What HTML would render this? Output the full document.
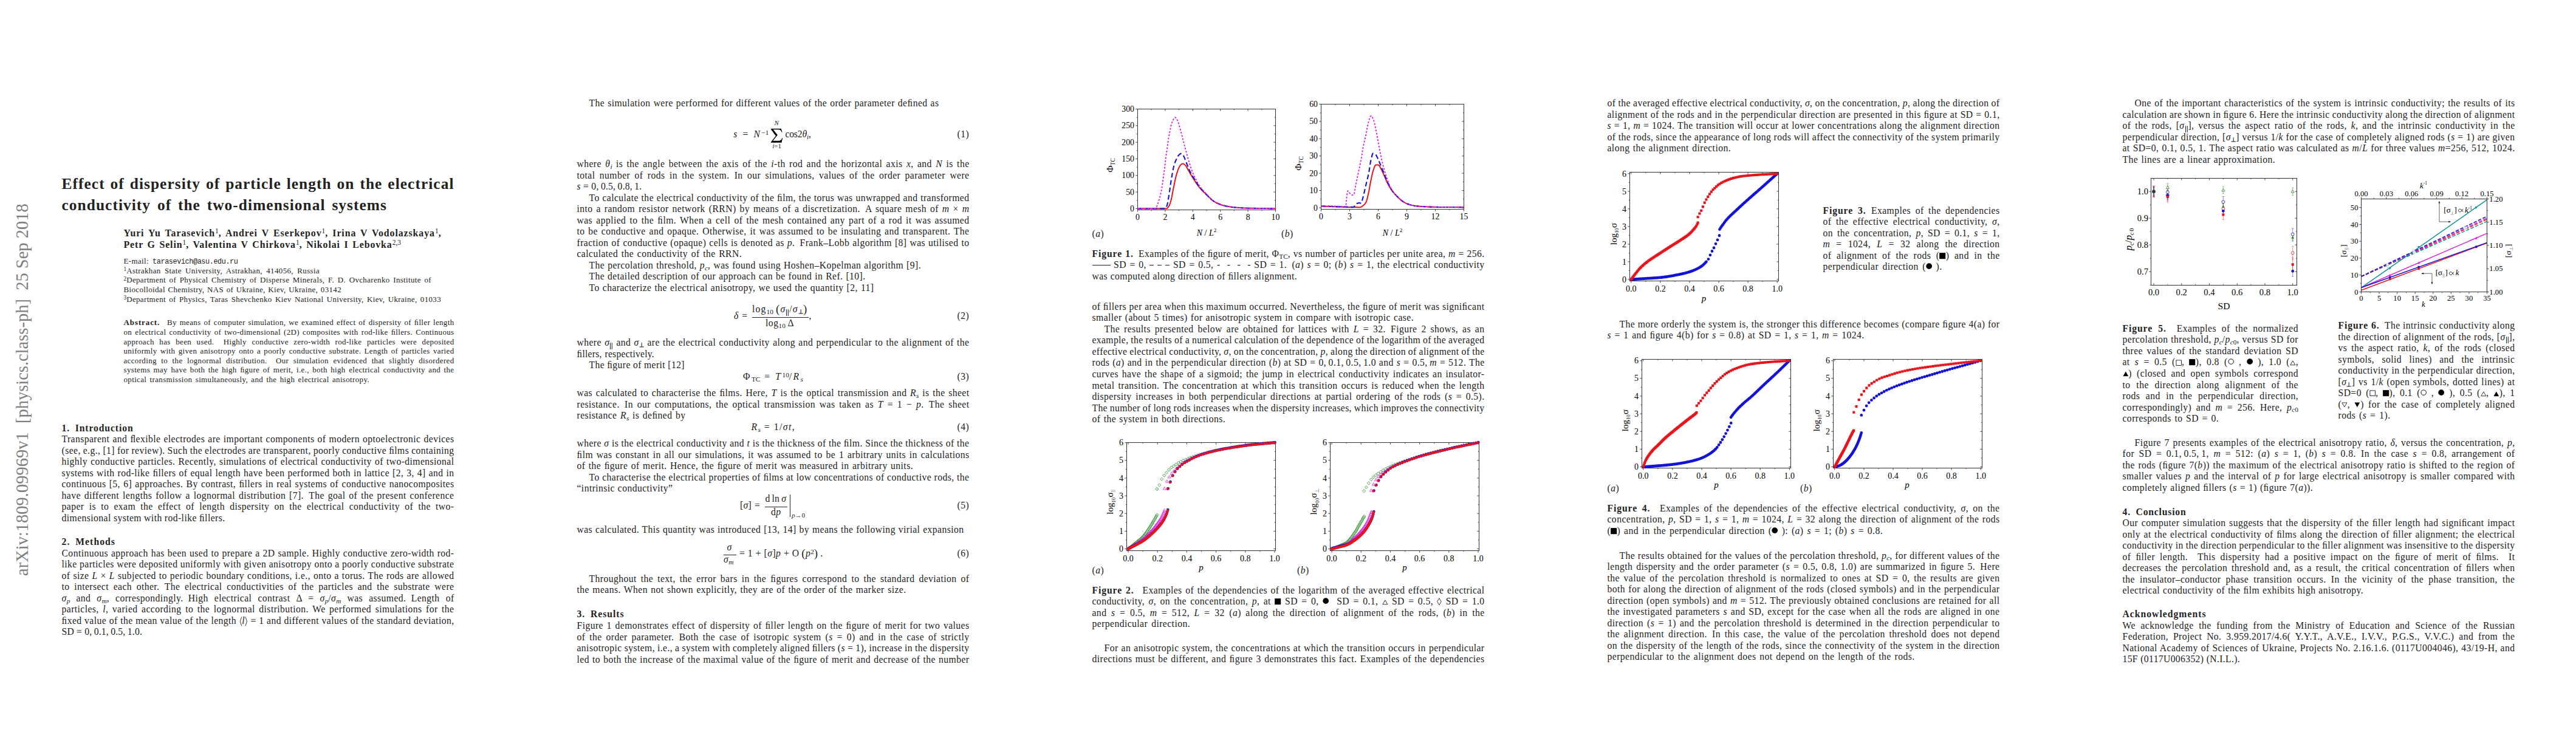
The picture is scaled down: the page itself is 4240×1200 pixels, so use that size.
<!DOCTYPE html>
<html><head><meta charset="utf-8"><title>paper</title><style>
html,body{margin:0;padding:0;background:#fff}
body{width:4240px;height:1200px;position:relative;overflow:hidden;font-family:"Liberation Serif",serif;color:#222}
.l{position:absolute;white-space:nowrap;line-height:20px;height:20px;margin:0;padding:0;overflow:visible}
.l.j{white-space:nowrap;text-align:justify;text-align-last:justify;overflow:visible}
.b{font-size:15.7px;letter-spacing:0.41px;word-spacing:1.3px;margin-top:-15.30px}
.e{font-size:15.7px;margin-top:-15.30px}
.h{font-size:15.7px;margin-top:-15.30px}
.s{font-size:13.0px;letter-spacing:0.34px;word-spacing:1.1px;margin-top:-13.89px}
.sc{font-size:11px;margin-top:-13.71px}
.t{font-size:25.4px;font-weight:bold;letter-spacing:0.75px;word-spacing:3.4px;margin-top:-18.57px}
.au{font-size:15.9px;font-weight:bold;letter-spacing:0.9px;word-spacing:2px;margin-top:-14.87px}
b{letter-spacing:0.9px}
.h b{letter-spacing:inherit}
.au .sp{font-weight:normal}
.tt{font-family:"Liberation Mono",monospace;font-size:11.9px;letter-spacing:-0.45px;word-spacing:0}
.sb{font-size:72%;position:relative;top:0.24em;line-height:0;letter-spacing:0}
.sp{font-size:72%;position:relative;top:-0.42em;line-height:0;letter-spacing:0}
.big{font-size:120%;line-height:0;position:relative;top:0.04em}
.g{display:inline-block;overflow:visible}
.a{position:absolute}
.r{position:absolute;background:#222}
.dash{display:inline-block;height:0.6px;background:#222;vertical-align:0.29em}
.side{position:absolute;transform-origin:0 0;transform:rotate(-90deg);white-space:nowrap;font-size:28.5px;color:#7f7f7f;line-height:30px;height:30px;letter-spacing:0px}
svg text{font-family:"Liberation Serif",serif}
</style></head><body>
<div class="side" style="left:21.8px;top:947.5px">arXiv:1809.09969v1&nbsp; [physics.class-ph]&nbsp; 25 Sep 2018</div>
<div class="l t j" style="left:101.50px;top:310.70px;width:646.00px;letter-spacing:1.050px;word-spacing:0.00px;">Effect of dispersity of particle length on the electrical</div>
<div class="l t j" style="left:101.50px;top:345.20px;width:535.50px;letter-spacing:1.050px;word-spacing:0.00px;">conductivity of the two-dimensional systems</div>
<div class="l au j" style="left:203.50px;top:388.70px;width:523.00px;letter-spacing:0.900px;word-spacing:-0.40px;">Yuri Yu Tarasevich<span class="sp">1</span>, Andrei V Eserkepov<span class="sp">1</span>, Irina V Vodolazskaya<span class="sp">1</span>,</div>
<div class="l au j" style="left:203.50px;top:407.40px;width:456.50px;letter-spacing:0.900px;word-spacing:-0.40px;">Petr G Selin<span class="sp">1</span>, Valentina V Chirkova<span class="sp">1</span>, Nikolai I Lebovka<span class="sp">2,3</span></div>
<div class="l s j" style="left:203.50px;top:434.20px;width:188.00px;letter-spacing:0.340px;word-spacing:-0.33px;">E-mail: <span class="tt">tarasevich@asu.edu.ru</span></div>
<div class="l s j" style="left:203.50px;top:449.40px;width:322.50px;letter-spacing:0.340px;word-spacing:-0.33px;"><span class="sp">1</span>Astrakhan State University, Astrakhan, 414056, Russia</div>
<div class="l s j" style="left:203.50px;top:465.30px;width:506.50px;letter-spacing:0.340px;word-spacing:-0.33px;"><span class="sp">2</span>Department of Physical Chemistry of Disperse Minerals, F. D. Ovcharenko Institute of</div>
<div class="l s j" style="left:203.50px;top:481.10px;width:358.50px;letter-spacing:0.340px;word-spacing:-0.33px;">Biocolloidal Chemistry, NAS of Ukraine, Kiev, Ukraine, 03142</div>
<div class="l s j" style="left:203.50px;top:497.00px;width:522.50px;letter-spacing:0.340px;word-spacing:-0.33px;"><span class="sp">3</span>Department of Physics, Taras Shevchenko Kiev National University, Kiev, Ukraine, 01033</div>
<div class="l s j" style="left:203.50px;top:535.20px;width:544.00px;letter-spacing:0.340px;word-spacing:-0.33px;"><b>Abstract.</b>&ensp; By means of computer simulation, we examined effect of dispersity of ﬁller length</div>
<div class="l s j" style="left:203.50px;top:550.83px;width:544.00px;letter-spacing:0.340px;word-spacing:-0.33px;">on electrical conductivity of two-dimensional (2D) composites with rod-like ﬁllers. Continuous</div>
<div class="l s j" style="left:203.50px;top:566.46px;width:544.00px;letter-spacing:0.340px;word-spacing:-0.33px;">approach has been used.&ensp; Highly conductive zero-width rod-like particles were deposited</div>
<div class="l s j" style="left:203.50px;top:582.09px;width:544.00px;letter-spacing:0.340px;word-spacing:-0.33px;">uniformly with given anisotropy onto a poorly conductive substrate. Length of particles varied</div>
<div class="l s j" style="left:203.50px;top:597.72px;width:544.00px;letter-spacing:0.340px;word-spacing:-0.33px;">according to the lognormal distribution.&ensp; Our simulation evidenced that slightly disordered</div>
<div class="l s j" style="left:203.50px;top:613.35px;width:544.00px;letter-spacing:0.340px;word-spacing:-0.33px;">systems may have both the high ﬁgure of merit, i.e., both high electrical conductivity and the</div>
<div class="l s j" style="left:203.50px;top:628.98px;width:404.50px;letter-spacing:0.340px;word-spacing:-0.33px;">optical transmission simultaneously, and the high electrical anisotropy.</div>
<div class="l h j" style="left:101.50px;top:710.00px;width:119.00px;letter-spacing:0.883px;word-spacing:0.00px;"><b>1.&ensp;Introduction</b></div>
<div class="l b j" style="left:101.50px;top:728.60px;width:646.00px;letter-spacing:0.410px;word-spacing:-0.40px;">Transparent and ﬂexible electrodes are important components of modern optoelectronic devices</div>
<div class="l b j" style="left:101.50px;top:747.13px;width:646.00px;letter-spacing:0.410px;word-spacing:-0.40px;">(see, e.g., [1] for review). Such the electrodes are transparent, poorly conductive ﬁlms containing</div>
<div class="l b j" style="left:101.50px;top:765.66px;width:646.00px;letter-spacing:0.410px;word-spacing:-0.40px;">highly conductive particles. Recently, simulations of electrical conductivity of two-dimensional</div>
<div class="l b j" style="left:101.50px;top:784.19px;width:646.00px;letter-spacing:0.410px;word-spacing:-0.40px;">systems with rod-like ﬁllers of equal length have been performed both in lattice [2, 3, 4] and in</div>
<div class="l b j" style="left:101.50px;top:802.72px;width:646.00px;letter-spacing:0.410px;word-spacing:-0.40px;">continuous [5, 6] approaches. By contrast, ﬁllers in real systems of conductive nanocomposites</div>
<div class="l b j" style="left:101.50px;top:821.25px;width:646.00px;letter-spacing:0.410px;word-spacing:-0.40px;">have different lengths follow a lognormal distribution [7].&ensp;The goal of the present conference</div>
<div class="l b j" style="left:101.50px;top:839.78px;width:646.00px;letter-spacing:0.410px;word-spacing:-0.40px;">paper is to exam the effect of length dispersity on the electrical conductivity of the two-</div>
<div class="l b j" style="left:101.50px;top:858.31px;width:269.00px;letter-spacing:0.410px;word-spacing:-0.40px;">dimensional system with rod-like ﬁllers.</div>
<div class="l h j" style="left:101.50px;top:897.50px;width:89.50px;letter-spacing:1.048px;word-spacing:0.00px;"><b>2.&ensp;Methods</b></div>
<div class="l b j" style="left:101.50px;top:916.00px;width:646.00px;letter-spacing:0.410px;word-spacing:-0.40px;">Continuous approach has been used to prepare a 2D sample. Highly conductive zero-width rod-</div>
<div class="l b j" style="left:101.50px;top:934.53px;width:646.00px;letter-spacing:0.410px;word-spacing:-0.40px;">like particles were deposited uniformly with given anisotropy onto a poorly conductive substrate</div>
<div class="l b j" style="left:101.50px;top:953.06px;width:646.00px;letter-spacing:0.410px;word-spacing:-0.40px;">of size <i>L</i> × <i>L</i> subjected to periodic boundary conditions, i.e., onto a torus. The rods are allowed</div>
<div class="l b j" style="left:101.50px;top:971.59px;width:646.00px;letter-spacing:0.410px;word-spacing:-0.40px;">to intersect each other.&ensp;The electrical conductivities of the particles and the substrate were</div>
<div class="l b j" style="left:101.50px;top:990.12px;width:646.00px;letter-spacing:0.410px;word-spacing:-0.40px;"><i>σ</i><span class="sb"><i>p</i></span> and <i>σ</i><span class="sb"><i>m</i></span>, correspondingly.&ensp;High electrical contrast Δ = <i>σ</i><span class="sb"><i>p</i></span>/<i>σ</i><span class="sb"><i>m</i></span> was assumed.&ensp;Length of</div>
<div class="l b j" style="left:101.50px;top:1008.65px;width:646.00px;letter-spacing:0.410px;word-spacing:-0.40px;">particles, <i>l</i>, varied according to the lognormal distribution. We performed simulations for the</div>
<div class="l b j" style="left:101.50px;top:1027.18px;width:646.00px;letter-spacing:0.410px;word-spacing:-0.40px;">ﬁxed value of the mean value of the length <svg class="g " style="width:0.300em;height:1.000em;vertical-align:-0.250em" viewBox="0 0 30 100"><path d="M24 2L8 50L24 98" stroke="#000" stroke-width="5" fill="none"/></svg><i>l</i><svg class="g " style="width:0.300em;height:1.000em;vertical-align:-0.250em" viewBox="0 0 30 100"><path d="M6 2L22 50L6 98" stroke="#000" stroke-width="5" fill="none"/></svg> = 1 and different values of the standard deviation,</div>
<div class="l b j" style="left:101.50px;top:1045.71px;width:132.50px;letter-spacing:0.171px;word-spacing:-0.40px;">SD = 0,&thinsp;0.1,&thinsp;0.5,&thinsp;1.0.</div>
<div class="l b j" style="left:969.50px;top:175.60px;width:576.00px;letter-spacing:0.410px;word-spacing:-0.40px;">The simulation were performed for different values of the order parameter deﬁned as</div>
<div class="l e j" style="left:1207.20px;top:226.60px;width:58.30px;letter-spacing:2.398px;word-spacing:0.00px;"><i>s</i> = <i>N</i><span class="sp">−1</span></div>
<div class="a " style="left:1268.20px;top:211.00px;"><svg width="20.7" height="24.4" viewBox="0 0 25 34" preserveAspectRatio="none" style="position:absolute;left:0;top:0"><path d="M1 1H21.5L23.5 9H22.3C21 4.4 19.5 3 15 3H5.6L14.4 15.8L5 29H15.8C20.4 29 22 27 23.2 22.8H24.4L22.2 33H1V32L10.8 17.6L1 2.4Z" fill="#000"/></svg></div>
<div class="l sc" style="left:1274.60px;top:206.10px;"><i>N</i></div>
<div class="l sc" style="left:1271.30px;top:243.90px;"><i>i</i>=1</div>
<div class="l e j" style="left:1292.40px;top:226.60px;width:43.40px;letter-spacing:-0.191px;word-spacing:0.00px;">cos2<i>θ</i><span class="sb"><i>i</i></span>,</div>
<div class="l b" style="left:1575.50px;top:226.60px;">(1)</div>
<div class="l b j" style="left:949.50px;top:275.60px;width:646.00px;letter-spacing:0.410px;word-spacing:-0.40px;">where <i>θ</i><span class="sb"><i>i</i></span> is the angle between the axis of the <i>i</i>-th rod and the horizontal axis <i>x</i>, and <i>N</i> is the</div>
<div class="l b j" style="left:949.50px;top:294.13px;width:646.00px;letter-spacing:0.410px;word-spacing:-0.40px;">total number of rods in the system.&ensp;In our simulations, values of the order parameter were</div>
<div class="l b j" style="left:949.50px;top:312.66px;width:107.00px;letter-spacing:0.209px;word-spacing:-0.40px;"><i>s</i> = 0,&thinsp;0.5,&thinsp;0.8,&thinsp;1.</div>
<div class="l b j" style="left:969.50px;top:331.10px;width:626.00px;letter-spacing:0.410px;word-spacing:-0.40px;">To calculate the electrical conductivity of the ﬁlm, the torus was unwrapped and transformed</div>
<div class="l b j" style="left:949.50px;top:349.63px;width:646.00px;letter-spacing:0.410px;word-spacing:-0.40px;">into a random resistor network (RRN) by means of a discretization.&ensp;A square mesh of <i>m</i> × <i>m</i></div>
<div class="l b j" style="left:949.50px;top:368.16px;width:646.00px;letter-spacing:0.410px;word-spacing:-0.40px;">was applied to the ﬁlm. When a cell of the mesh contained any part of a rod it was assumed</div>
<div class="l b j" style="left:949.50px;top:386.69px;width:646.00px;letter-spacing:0.410px;word-spacing:-0.40px;">to be conductive and opaque. Otherwise, it was assumed to be insulating and transparent. The</div>
<div class="l b j" style="left:949.50px;top:405.22px;width:646.00px;letter-spacing:0.410px;word-spacing:-0.40px;">fraction of conductive (opaque) cells is denoted as <i>p</i>.&ensp;Frank–Lobb algorithm [8] was utilised to</div>
<div class="l b j" style="left:949.50px;top:423.75px;width:271.50px;letter-spacing:0.410px;word-spacing:-0.40px;">calculated the conductivity of the RRN.</div>
<div class="l b j" style="left:969.50px;top:442.10px;width:546.50px;letter-spacing:0.410px;word-spacing:-0.40px;">The percolation threshold, <i>p</i><span class="sb"><i>c</i></span>, was found using Hoshen–Kopelman algorithm [9].</div>
<div class="l b j" style="left:969.50px;top:460.60px;width:455.00px;letter-spacing:0.410px;word-spacing:-0.40px;">The detailed description of our approach can be found in Ref. [10].</div>
<div class="l b j" style="left:969.50px;top:479.10px;width:469.00px;letter-spacing:0.410px;word-spacing:-0.40px;">To characterize the electrical anisotropy, we used the quantity [2, 11]</div>
<div class="l b" style="left:1208.00px;top:525.60px;"><i>δ</i> =</div>
<div class="l e j" style="left:1238.00px;top:514.60px;width:92.50px;letter-spacing:1.151px;word-spacing:0.00px;">log<span class="sb">10</span>&thinsp;<span class="big">(</span><i>σ</i><span class="sb"><svg class="g " style="width:0.520em;height:1.000em;vertical-align:-0.300em" viewBox="0 0 52 100"><path d="M14 2V98M38 2V98" stroke="#000" stroke-width="8" fill="none"/></svg></span>/<i>σ</i><span class="sb"><svg class="g " style="width:0.740em;height:0.680em;vertical-align:0.000em" viewBox="0 0 74 68"><path d="M37 2V62M4 62H70" stroke="#000" stroke-width="8" fill="none"/></svg></span><span class="big">)</span></div>
<div class="r" style="left:1238.00px;top:521.95px;width:92.50px;height:0.70px"></div>
<div class="l e j" style="left:1260.00px;top:537.10px;width:48.00px;letter-spacing:0.484px;word-spacing:0.00px;">log<span class="sb">10</span>&thinsp;Δ</div>
<div class="l b" style="left:1331.50px;top:525.60px;">,</div>
<div class="l b" style="left:1575.50px;top:525.60px;">(2)</div>
<div class="l b j" style="left:949.50px;top:569.60px;width:646.00px;letter-spacing:0.410px;word-spacing:-0.40px;">where <i>σ</i><span class="sb"><svg class="g " style="width:0.520em;height:1.000em;vertical-align:-0.300em" viewBox="0 0 52 100"><path d="M14 2V98M38 2V98" stroke="#000" stroke-width="8" fill="none"/></svg></span> and <i>σ</i><span class="sb"><svg class="g " style="width:0.740em;height:0.680em;vertical-align:0.000em" viewBox="0 0 74 68"><path d="M37 2V62M4 62H70" stroke="#000" stroke-width="8" fill="none"/></svg></span> are the electrical conductivity along and perpendicular to the alignment of the</div>
<div class="l b j" style="left:949.50px;top:588.10px;width:127.50px;letter-spacing:0.220px;word-spacing:-0.40px;">ﬁllers, respectively.</div>
<div class="l b j" style="left:969.50px;top:606.60px;width:157.50px;letter-spacing:0.396px;word-spacing:-0.40px;">The ﬁgure of merit [12]</div>
<div class="l e j" style="left:1223.00px;top:625.60px;width:99.00px;letter-spacing:2.429px;word-spacing:0.00px;">Φ<span class="sb">TC</span> = <i>T</i><span class="sp">10</span>/<i>R</i><span class="sb"><i>s</i></span></div>
<div class="l b" style="left:1575.50px;top:625.60px;">(3)</div>
<div class="l b j" style="left:949.50px;top:652.60px;width:646.00px;letter-spacing:0.410px;word-spacing:-0.40px;">was calculated to characterise the ﬁlms. Here, <i>T</i> is the optical transmission and <i>R</i><span class="sb"><i>s</i></span> is the sheet</div>
<div class="l b j" style="left:949.50px;top:671.13px;width:646.00px;letter-spacing:0.410px;word-spacing:-0.40px;">resistance.&ensp;In our computations, the optical transmission was taken as <i>T</i> = 1 − <i>p</i>.&ensp;The sheet</div>
<div class="l b j" style="left:949.50px;top:689.66px;width:179.00px;letter-spacing:0.410px;word-spacing:-0.40px;">resistance <i>R</i><span class="sb"><i>s</i></span> is deﬁned by</div>
<div class="l e j" style="left:1236.50px;top:708.60px;width:72.50px;letter-spacing:1.396px;word-spacing:0.00px;"><i>R</i><span class="sb"><i>s</i></span> = 1/<i>σ</i><i>t</i>,</div>
<div class="l b" style="left:1575.50px;top:708.60px;">(4)</div>
<div class="l b j" style="left:949.50px;top:735.60px;width:646.00px;letter-spacing:0.410px;word-spacing:-0.40px;">where <i>σ</i> is the electrical conductivity and <i>t</i> is the thickness of the ﬁlm. Since the thickness of the</div>
<div class="l b j" style="left:949.50px;top:754.13px;width:646.00px;letter-spacing:0.410px;word-spacing:-0.40px;">ﬁlm was constant in all our simulations, it was assumed to be 1 arbitrary units in calculations</div>
<div class="l b j" style="left:949.50px;top:772.66px;width:553.50px;letter-spacing:0.410px;word-spacing:-0.40px;">of the ﬁgure of merit. Hence, the ﬁgure of merit was measured in arbitrary units.</div>
<div class="l b j" style="left:969.50px;top:791.10px;width:626.00px;letter-spacing:0.410px;word-spacing:-0.40px;">To characterise the electrical properties of ﬁlms at low concentrations of conductive rods, the</div>
<div class="l b j" style="left:949.50px;top:809.60px;width:158.00px;letter-spacing:0.405px;word-spacing:-0.40px;">“intrinsic conductivity”</div>
<div class="l e j" style="left:1218.00px;top:837.10px;width:33.00px;letter-spacing:0.203px;word-spacing:0.00px;">[<i>σ</i>] =</div>
<div class="l e j" style="left:1259.50px;top:826.60px;width:35.50px;letter-spacing:0.070px;word-spacing:0.00px;">d&thinsp;ln&thinsp;<i>σ</i></div>
<div class="r" style="left:1259.00px;top:833.65px;width:36.50px;height:0.70px"></div>
<div class="l b" style="left:1269.00px;top:848.10px;">d<i>p</i></div>
<div class="r" style="left:1300.15px;top:813.50px;width:0.70px;height:37.00px"></div>
<div class="l sc" style="left:1303.00px;top:852.10px;"><i>p</i>→0</div>
<div class="l b" style="left:1575.50px;top:837.10px;">(5)</div>
<div class="l b j" style="left:949.50px;top:876.90px;width:637.00px;letter-spacing:0.410px;word-spacing:-0.40px;">was calculated. This quantity was introduced [13, 14] by means the following virial expansion</div>
<div class="l b" style="left:1196.50px;top:906.60px;"><i>σ</i></div>
<div class="r" style="left:1190.50px;top:912.65px;width:21.00px;height:0.70px"></div>
<div class="l b" style="left:1191.00px;top:926.60px;"><i>σ</i><span class="sb"><i>m</i></span></div>
<div class="l e j" style="left:1217.00px;top:916.60px;width:137.50px;letter-spacing:0.442px;word-spacing:0.00px;">= 1 + [<i>σ</i>]<i>p</i> + O&thinsp;<span class="big">(</span><i>p</i><span class="sp">2</span><span class="big">)</span>&thinsp;.</div>
<div class="l b" style="left:1575.50px;top:916.60px;">(6)</div>
<div class="l b j" style="left:969.50px;top:958.10px;width:626.00px;letter-spacing:0.410px;word-spacing:-0.40px;">Throughout the text, the error bars in the ﬁgures correspond to the standard deviation of</div>
<div class="l b j" style="left:949.50px;top:976.60px;width:542.00px;letter-spacing:0.410px;word-spacing:-0.40px;">the means. When not shown explicitly, they are of the order of the marker size.</div>
<div class="l h j" style="left:949.50px;top:1016.60px;width:79.00px;letter-spacing:0.958px;word-spacing:0.00px;"><b>3.&ensp;Results</b></div>
<div class="l b j" style="left:949.50px;top:1035.60px;width:646.00px;letter-spacing:0.410px;word-spacing:-0.40px;">Figure 1 demonstrates effect of dispersity of ﬁller length on the ﬁgure of merit for two values</div>
<div class="l b j" style="left:949.50px;top:1054.13px;width:646.00px;letter-spacing:0.410px;word-spacing:-0.40px;">of the order parameter.&ensp;Both the case of isotropic system (<i>s</i> = 0) and in the case of strictly</div>
<div class="l b j" style="left:949.50px;top:1072.66px;width:646.00px;letter-spacing:0.405px;word-spacing:-0.40px;">anisotropic system, i.e., a system with completely aligned ﬁllers (<i>s</i> = 1), increase in the dispersity</div>
<div class="l b j" style="left:949.50px;top:1091.19px;width:646.00px;letter-spacing:0.410px;word-spacing:-0.40px;">led to both the increase of the maximal value of the ﬁgure of merit and decrease of the number</div>
<svg style="position:absolute;left:1696px;top:0;width:848px;height:1200px;overflow:visible" viewBox="0 0 848 1200"><rect x="176.5" y="179.5" width="227" height="166" fill="none" stroke="#333" stroke-width="1" shape-rendering="crispEdges"/><path d="M176.5 345.5V348.7M176.5 179.5V182.7M221.9 345.5V348.7M221.9 179.5V182.7M267.3 345.5V348.7M267.3 179.5V182.7M312.7 345.5V348.7M312.7 179.5V182.7M358.1 345.5V348.7M358.1 179.5V182.7M403.5 345.5V348.7M403.5 179.5V182.7" stroke="#333" stroke-width="0.9" fill="none"/><text x="176.5" y="362" font-size="13.8" text-anchor="middle">0</text><text x="221.9" y="362" font-size="13.8" text-anchor="middle">2</text><text x="267.3" y="362" font-size="13.8" text-anchor="middle">4</text><text x="312.7" y="362" font-size="13.8" text-anchor="middle">6</text><text x="358.1" y="362" font-size="13.8" text-anchor="middle">8</text><text x="403.5" y="362" font-size="13.8" text-anchor="middle">10</text><path d="M199.2 345.5V347.3M199.2 179.5V181.3M244.6 345.5V347.3M244.6 179.5V181.3M290 345.5V347.3M290 179.5V181.3M335.4 345.5V347.3M335.4 179.5V181.3M380.8 345.5V347.3M380.8 179.5V181.3" stroke="#333" stroke-width="0.8" fill="none"/><path d="M176.5 343.5H173.3M403.5 343.5H400.3M176.5 316.17H173.3M403.5 316.17H400.3M176.5 288.83H173.3M403.5 288.83H400.3M176.5 261.5H173.3M403.5 261.5H400.3M176.5 234.17H173.3M403.5 234.17H400.3M176.5 206.83H173.3M403.5 206.83H400.3M176.5 179.5H173.3M403.5 179.5H400.3" stroke="#333" stroke-width="0.9" fill="none"/><text x="171" y="348.05" font-size="13.8" text-anchor="end">0</text><text x="171" y="320.72" font-size="13.8" text-anchor="end">50</text><text x="171" y="293.39" font-size="13.8" text-anchor="end">100</text><text x="171" y="266.05" font-size="13.8" text-anchor="end">150</text><text x="171" y="238.72" font-size="13.8" text-anchor="end">200</text><text x="171" y="211.39" font-size="13.8" text-anchor="end">250</text><text x="171" y="184.05" font-size="13.8" text-anchor="end">300</text><path d="M176.5 329.83H174.7M403.5 329.83H401.7M176.5 302.5H174.7M403.5 302.5H401.7M176.5 275.17H174.7M403.5 275.17H401.7M176.5 247.83H174.7M403.5 247.83H401.7M176.5 220.5H174.7M403.5 220.5H401.7M176.5 193.17H174.7M403.5 193.17H401.7" stroke="#333" stroke-width="0.8" fill="none"/><polyline points="176.5,343.23 177.45,343.23 178.4,343.23 179.35,343.23 180.3,343.23 181.25,343.23 182.2,343.23 183.15,343.23 184.1,343.23 185.05,343.23 186,343.23 186.95,343.23 187.9,343.23 188.85,343.23 189.8,343.23 190.75,343.23 191.7,343.23 192.65,343.23 193.6,343.23 194.55,343.23 195.5,343.23 196.45,343.23 197.4,343.23 198.35,343.23 199.29,343.23 200.24,343.23 201.19,343.23 202.14,343.23 203.09,343.23 204.04,343.23 204.99,343.23 205.94,343.23 206.89,343.23 207.84,343.23 208.79,343.23 209.74,343.23 210.69,343.23 211.64,343.23 212.59,343.23 213.54,343.23 214.49,343.23 215.44,343.23 216.39,343.23 217.34,343.23 218.29,343.23 219.24,343.23 220.19,343.23 221.14,343.23 222.09,343.23 223.04,343.23 223.99,343.23 224.94,343.01 225.89,342.27 226.84,341.18 227.79,339.92 228.74,338.06 229.69,335.54 230.64,332.59 231.59,329.23 232.54,324.95 233.49,320.08 234.44,315.04 235.39,310.24 236.34,305.68 237.29,301.01 238.24,296.45 239.19,292.23 240.14,288.56 241.09,285.29 242.04,282.23 242.99,279.47 243.94,277.1 244.88,275.18 245.83,273.49 246.78,272.05 247.73,271 248.68,270.33 249.63,269.78 250.58,269.46 251.53,269.51 252.48,269.95 253.43,270.66 254.38,271.5 255.33,272.41 256.28,273.68 257.23,275.24 258.18,276.97 259.13,278.75 260.08,280.48 261.03,282.09 261.98,283.7 262.93,285.34 263.88,286.98 264.83,288.6 265.78,290.2 266.73,291.76 267.68,293.26 268.63,294.74 269.58,296.22 270.53,297.69 271.48,299.15 272.43,300.58 273.38,301.99 274.33,303.36 275.28,304.7 276.23,305.99 277.18,307.24 278.13,308.43 279.08,309.56 280.03,310.65 280.98,311.7 281.93,312.7 282.88,313.68 283.83,314.63 284.78,315.56 285.73,316.48 286.68,317.38 287.63,318.28 288.58,319.18 289.53,320.09 290.47,321 291.42,321.93 292.37,322.88 293.32,323.84 294.27,324.79 295.22,325.73 296.17,326.65 297.12,327.54 298.07,328.4 299.02,329.2 299.97,329.95 300.92,330.64 301.87,331.26 302.82,331.86 303.77,332.43 304.72,332.99 305.67,333.51 306.62,334.02 307.57,334.5 308.52,334.96 309.47,335.39 310.42,335.8 311.37,336.18 312.32,336.53 313.27,336.86 314.22,337.18 315.17,337.48 316.12,337.77 317.07,338.04 318.02,338.3 318.97,338.55 319.92,338.79 320.87,339.01 321.82,339.22 322.77,339.42 323.72,339.61 324.67,339.79 325.62,339.96 326.57,340.13 327.52,340.29 328.47,340.44 329.42,340.59 330.37,340.73 331.32,340.86 332.27,340.98 333.22,341.09 334.17,341.19 335.12,341.29 336.06,341.37 337.01,341.45 337.96,341.54 338.91,341.62 339.86,341.69 340.81,341.77 341.76,341.84 342.71,341.91 343.66,341.98 344.61,342.05 345.56,342.11 346.51,342.17 347.46,342.23 348.41,342.29 349.36,342.34 350.31,342.39 351.26,342.44 352.21,342.48 353.16,342.52 354.11,342.56 355.06,342.6 356.01,342.63 356.96,342.65 357.91,342.68 358.86,342.7 359.81,342.72 360.76,342.73 361.71,342.75 362.66,342.77 363.61,342.79 364.56,342.8 365.51,342.82 366.46,342.83 367.41,342.85 368.36,342.86 369.31,342.88 370.26,342.89 371.21,342.9 372.16,342.91 373.11,342.93 374.06,342.94 375.01,342.95 375.96,342.96 376.91,342.97 377.86,342.98 378.81,342.99 379.76,343 380.71,343.01 381.65,343.02 382.6,343.03 383.55,343.03 384.5,343.04 385.45,343.05 386.4,343.06 387.35,343.07 388.3,343.08 389.25,343.08 390.2,343.09 391.15,343.1 392.1,343.11 393.05,343.12 394,343.13 394.95,343.14 395.9,343.15 396.85,343.15 397.8,343.16 398.75,343.17 399.7,343.18 400.65,343.19 401.6,343.2 402.55,343.22 403.5,343.23" fill="none" stroke="#e8141c" stroke-width="2.0" stroke-linejoin="round"/><polyline points="176.5,343.23 177.45,343.23 178.4,343.23 179.35,343.23 180.3,343.23 181.25,343.23 182.2,343.23 183.15,343.23 184.1,343.23 185.05,343.23 186,343.23 186.95,343.23 187.9,343.23 188.85,343.23 189.8,343.23 190.75,343.23 191.7,343.23 192.65,343.23 193.6,343.23 194.55,343.23 195.5,343.23 196.45,343.23 197.4,343.23 198.35,343.23 199.29,343.23 200.24,343.23 201.19,343.23 202.14,343.23 203.09,343.23 204.04,343.23 204.99,343.23 205.94,343.23 206.89,343.23 207.84,343.23 208.79,343.23 209.74,343.23 210.69,343.23 211.64,343.23 212.59,343.23 213.54,343.23 214.49,343.23 215.44,343.23 216.39,343.23 217.34,343.23 218.29,343.23 219.24,343.23 220.19,343.23 221.14,343.18 222.09,342.68 223.04,341.74 223.99,340.48 224.94,338.2 225.89,333.88 226.84,328.54 227.79,323.18 228.74,317.24 229.69,310.63 230.64,303.87 231.59,297.49 232.54,291.86 233.49,286.39 234.44,281.14 235.39,276.4 236.34,272.44 237.29,269.38 238.24,266.78 239.19,264.51 240.14,262.48 241.09,260.62 242.04,258.81 242.99,257.1 243.94,255.68 244.88,254.68 245.83,253.83 246.78,253.14 247.73,252.77 248.68,252.91 249.63,253.56 250.58,254.53 251.53,255.64 252.48,257.23 253.43,259.39 254.38,261.85 255.33,264.35 256.28,266.66 257.23,268.98 258.18,271.36 259.13,273.77 260.08,276.15 261.03,278.45 261.98,280.62 262.93,282.62 263.88,284.49 264.83,286.26 265.78,287.96 266.73,289.6 267.68,291.2 268.63,292.76 269.58,294.32 270.53,295.86 271.48,297.39 272.43,298.91 273.38,300.4 274.33,301.86 275.28,303.29 276.23,304.67 277.18,306.01 278.13,307.29 279.08,308.51 280.03,309.69 280.98,310.84 281.93,311.96 282.88,313.05 283.83,314.11 284.78,315.14 285.73,316.16 286.68,317.15 287.63,318.14 288.58,319.1 289.53,320.06 290.47,321.02 291.42,321.98 292.37,322.95 293.32,323.91 294.27,324.86 295.22,325.8 296.17,326.71 297.12,327.58 298.07,328.42 299.02,329.22 299.97,329.96 300.92,330.64 301.87,331.26 302.82,331.86 303.77,332.43 304.72,332.99 305.67,333.51 306.62,334.02 307.57,334.5 308.52,334.96 309.47,335.39 310.42,335.8 311.37,336.18 312.32,336.53 313.27,336.86 314.22,337.18 315.17,337.48 316.12,337.77 317.07,338.04 318.02,338.3 318.97,338.55 319.92,338.79 320.87,339.01 321.82,339.22 322.77,339.42 323.72,339.61 324.67,339.79 325.62,339.96 326.57,340.13 327.52,340.29 328.47,340.44 329.42,340.59 330.37,340.73 331.32,340.86 332.27,340.98 333.22,341.09 334.17,341.19 335.12,341.29 336.06,341.37 337.01,341.45 337.96,341.54 338.91,341.62 339.86,341.69 340.81,341.77 341.76,341.84 342.71,341.91 343.66,341.98 344.61,342.05 345.56,342.11 346.51,342.17 347.46,342.23 348.41,342.29 349.36,342.34 350.31,342.39 351.26,342.44 352.21,342.48 353.16,342.52 354.11,342.56 355.06,342.6 356.01,342.63 356.96,342.65 357.91,342.68 358.86,342.7 359.81,342.72 360.76,342.73 361.71,342.75 362.66,342.77 363.61,342.79 364.56,342.8 365.51,342.82 366.46,342.83 367.41,342.85 368.36,342.86 369.31,342.88 370.26,342.89 371.21,342.9 372.16,342.91 373.11,342.93 374.06,342.94 375.01,342.95 375.96,342.96 376.91,342.97 377.86,342.98 378.81,342.99 379.76,343 380.71,343.01 381.65,343.02 382.6,343.03 383.55,343.03 384.5,343.04 385.45,343.05 386.4,343.06 387.35,343.07 388.3,343.08 389.25,343.08 390.2,343.09 391.15,343.1 392.1,343.11 393.05,343.12 394,343.13 394.95,343.14 395.9,343.15 396.85,343.15 397.8,343.16 398.75,343.17 399.7,343.18 400.65,343.19 401.6,343.2 402.55,343.22 403.5,343.23" fill="none" stroke="#1212d8" stroke-width="2.1" stroke-linejoin="round" stroke-dasharray="7.8 4.4"/><polyline points="176.5,343.23 177.45,343.23 178.4,343.23 179.35,343.23 180.3,343.23 181.25,343.23 182.2,343.23 183.15,343.23 184.1,343.23 185.05,343.23 186,343.23 186.95,343.23 187.9,343.23 188.85,343.23 189.8,343.23 190.75,343.23 191.7,343.23 192.65,343.23 193.6,343.23 194.55,343.23 195.5,343.23 196.45,343.23 197.4,343.23 198.35,343.23 199.29,343.23 200.24,343.23 201.19,343.23 202.14,343.23 203.09,343.23 204.04,343.23 204.99,343.23 205.94,343.23 206.89,342.44 207.84,340.31 208.79,337.58 209.74,334.98 210.69,332.32 211.64,329.43 212.59,326.24 213.54,322.73 214.49,318.83 215.44,314.46 216.39,309.03 217.34,302.72 218.29,295.9 219.24,288.92 220.19,281.96 221.14,274.5 222.09,266.79 223.04,259.13 223.99,251.88 224.94,245.02 225.89,238.22 226.84,231.69 227.79,225.66 228.74,220.35 229.69,215.51 230.64,210.91 231.59,206.79 232.54,203.35 233.49,200.8 234.44,198.56 235.39,196.48 236.34,194.77 237.29,193.6 238.24,193.17 239.19,193.59 240.14,194.71 241.09,196.29 242.04,198.08 242.99,200.09 243.94,202.84 244.88,206.11 245.83,209.62 246.78,213.09 247.73,216.51 248.68,220.09 249.63,223.79 250.58,227.55 251.53,231.33 252.48,235.06 253.43,238.71 254.38,242.26 255.33,245.82 256.28,249.37 257.23,252.87 258.18,256.31 259.13,259.66 260.08,262.89 261.03,266 261.98,269.08 262.93,272.11 263.88,275.05 264.83,277.88 265.78,280.56 266.73,283.06 267.68,285.36 268.63,287.56 269.58,289.69 270.53,291.75 271.48,293.73 272.43,295.65 273.38,297.49 274.33,299.26 275.28,300.95 276.23,302.57 277.18,304.1 278.13,305.56 279.08,306.94 280.03,308.24 280.98,309.47 281.93,310.65 282.88,311.77 283.83,312.85 284.78,313.9 285.73,314.92 286.68,315.93 287.63,316.93 288.58,317.93 289.53,318.94 290.47,319.96 291.42,321.01 292.37,322.08 293.32,323.15 294.27,324.22 295.22,325.27 296.17,326.29 297.12,327.28 298.07,328.22 299.02,329.09 299.97,329.9 300.92,330.63 301.87,331.27 302.82,331.89 303.77,332.47 304.72,333.02 305.67,333.55 306.62,334.05 307.57,334.53 308.52,334.98 309.47,335.41 310.42,335.81 311.37,336.18 312.32,336.53 313.27,336.86 314.22,337.18 315.17,337.48 316.12,337.77 317.07,338.04 318.02,338.3 318.97,338.55 319.92,338.79 320.87,339.01 321.82,339.22 322.77,339.42 323.72,339.61 324.67,339.79 325.62,339.96 326.57,340.13 327.52,340.29 328.47,340.44 329.42,340.59 330.37,340.73 331.32,340.86 332.27,340.98 333.22,341.09 334.17,341.19 335.12,341.29 336.06,341.37 337.01,341.45 337.96,341.54 338.91,341.62 339.86,341.69 340.81,341.77 341.76,341.84 342.71,341.91 343.66,341.98 344.61,342.05 345.56,342.11 346.51,342.17 347.46,342.23 348.41,342.29 349.36,342.34 350.31,342.39 351.26,342.44 352.21,342.48 353.16,342.52 354.11,342.56 355.06,342.6 356.01,342.63 356.96,342.65 357.91,342.68 358.86,342.7 359.81,342.72 360.76,342.73 361.71,342.75 362.66,342.77 363.61,342.79 364.56,342.8 365.51,342.82 366.46,342.83 367.41,342.85 368.36,342.86 369.31,342.88 370.26,342.89 371.21,342.9 372.16,342.91 373.11,342.93 374.06,342.94 375.01,342.95 375.96,342.96 376.91,342.97 377.86,342.98 378.81,342.99 379.76,343 380.71,343.01 381.65,343.02 382.6,343.03 383.55,343.03 384.5,343.04 385.45,343.05 386.4,343.06 387.35,343.07 388.3,343.08 389.25,343.08 390.2,343.09 391.15,343.1 392.1,343.11 393.05,343.12 394,343.13 394.95,343.14 395.9,343.15 396.85,343.15 397.8,343.16 398.75,343.17 399.7,343.18 400.65,343.19 401.6,343.2 402.55,343.22 403.5,343.23" fill="none" stroke="#e020e0" stroke-width="1.8" stroke-linejoin="round" stroke-dasharray="3 2.4"/><text transform="translate(136,272) rotate(-90)" font-size="15.5" text-anchor="middle">Φ<tspan font-size="9.5" dy="3">TC</tspan></text><text x="290" y="387.5" font-size="14" text-anchor="middle" ><tspan font-style="italic">N</tspan> / <tspan font-style="italic">L</tspan><tspan font-size="9" dy="-5.5">2</tspan></text><rect x="478.5" y="171.5" width="235" height="173" fill="none" stroke="#333" stroke-width="1" shape-rendering="crispEdges"/><path d="M478.5 344.5V347.7M478.5 171.5V174.7M525.5 344.5V347.7M525.5 171.5V174.7M572.5 344.5V347.7M572.5 171.5V174.7M619.5 344.5V347.7M619.5 171.5V174.7M666.5 344.5V347.7M666.5 171.5V174.7M713.5 344.5V347.7M713.5 171.5V174.7" stroke="#333" stroke-width="0.9" fill="none"/><text x="478.5" y="361" font-size="13.8" text-anchor="middle">0</text><text x="525.5" y="361" font-size="13.8" text-anchor="middle">3</text><text x="572.5" y="361" font-size="13.8" text-anchor="middle">6</text><text x="619.5" y="361" font-size="13.8" text-anchor="middle">9</text><text x="666.5" y="361" font-size="13.8" text-anchor="middle">12</text><text x="713.5" y="361" font-size="13.8" text-anchor="middle">15</text><path d="M502 344.5V346.3M502 171.5V173.3M549 344.5V346.3M549 171.5V173.3M596 344.5V346.3M596 171.5V173.3M643 344.5V346.3M643 171.5V173.3M690 344.5V346.3M690 171.5V173.3" stroke="#333" stroke-width="0.8" fill="none"/><path d="M478.5 342H475.3M713.5 342H710.3M478.5 313.58H475.3M713.5 313.58H710.3M478.5 285.17H475.3M713.5 285.17H710.3M478.5 256.75H475.3M713.5 256.75H710.3M478.5 228.33H475.3M713.5 228.33H710.3M478.5 199.92H475.3M713.5 199.92H710.3M478.5 171.5H475.3M713.5 171.5H710.3" stroke="#333" stroke-width="0.9" fill="none"/><text x="473" y="346.55" font-size="13.8" text-anchor="end">0</text><text x="473" y="318.14" font-size="13.8" text-anchor="end">10</text><text x="473" y="289.72" font-size="13.8" text-anchor="end">20</text><text x="473" y="261.3" font-size="13.8" text-anchor="end">30</text><text x="473" y="232.89" font-size="13.8" text-anchor="end">40</text><text x="473" y="204.47" font-size="13.8" text-anchor="end">50</text><text x="473" y="176.05" font-size="13.8" text-anchor="end">60</text><path d="M478.5 327.79H476.7M713.5 327.79H711.7M478.5 299.38H476.7M713.5 299.38H711.7M478.5 270.96H476.7M713.5 270.96H711.7M478.5 242.54H476.7M713.5 242.54H711.7M478.5 214.12H476.7M713.5 214.12H711.7M478.5 185.71H476.7M713.5 185.71H711.7" stroke="#333" stroke-width="0.8" fill="none"/><polyline points="478.5,339.44 479.29,339.47 480.07,339.5 480.86,339.53 481.64,339.56 482.43,339.59 483.22,339.62 484,339.65 484.79,339.68 485.57,339.71 486.36,339.75 487.15,339.78 487.93,339.81 488.72,339.84 489.5,339.87 490.29,339.91 491.08,339.94 491.86,339.97 492.65,340 493.43,340.03 494.22,340.06 495.01,340.09 495.79,340.12 496.58,340.15 497.36,340.18 498.15,340.21 498.93,340.24 499.72,340.27 500.51,340.3 501.29,340.33 502.08,340.35 502.86,340.38 503.65,340.41 504.44,340.43 505.22,340.45 506.01,340.48 506.79,340.5 507.58,340.52 508.37,340.54 509.15,340.56 509.94,340.58 510.72,340.6 511.51,340.62 512.3,340.64 513.08,340.66 513.87,340.68 514.65,340.69 515.44,340.71 516.23,340.73 517.01,340.75 517.8,340.77 518.58,340.79 519.37,340.81 520.16,340.83 520.94,340.84 521.73,340.86 522.51,340.88 523.3,340.9 524.09,340.91 524.87,340.93 525.66,340.95 526.44,340.96 527.23,340.98 528.02,340.99 528.8,341.01 529.59,341.02 530.37,341.04 531.16,341.05 531.94,341.06 532.73,341.07 533.52,341.08 534.3,341.09 535.09,341.1 535.87,341.11 536.66,341.12 537.45,341.12 538.23,341.13 539.02,341.14 539.8,341.14 540.59,341.14 541.38,341.15 542.16,341.15 542.95,341.14 543.73,340.97 544.52,340.63 545.31,340.15 546.09,339.59 546.88,339 547.66,338.42 548.45,337.81 549.24,337.13 550.02,336.34 550.81,335.42 551.59,334.33 552.38,333.02 553.17,331.1 553.95,328.55 554.74,325.54 555.52,322.23 556.31,318.75 557.1,315.21 557.88,311.05 558.67,306.49 559.45,302.01 560.24,298.06 561.03,294.25 561.81,290.52 562.6,286.97 563.38,283.74 564.17,280.96 564.95,278.69 565.74,276.48 566.53,274.41 567.31,272.74 568.1,271.72 568.88,271.53 569.67,271.53 570.46,271.53 571.24,271.53 572.03,271.53 572.81,271.58 573.6,272.1 574.39,273.08 575.17,274.36 575.96,275.81 576.74,277.27 577.53,278.63 578.32,280.13 579.1,281.76 579.89,283.49 580.67,285.26 581.46,287.04 582.25,288.77 583.03,290.57 583.82,292.43 584.6,294.3 585.39,296.17 586.18,298 586.96,299.75 587.75,301.39 588.53,302.91 589.32,304.38 590.11,305.8 590.89,307.19 591.68,308.53 592.46,309.82 593.25,311.07 594.04,312.26 594.82,313.4 595.61,314.48 596.39,315.51 597.18,316.49 597.96,317.42 598.75,318.31 599.54,319.17 600.32,320 601.11,320.81 601.89,321.61 602.68,322.39 603.47,323.17 604.25,323.94 605.04,324.72 605.82,325.5 606.61,326.27 607.4,327.02 608.18,327.76 608.97,328.47 609.75,329.15 610.54,329.79 611.33,330.39 612.11,330.95 612.9,331.49 613.68,332.01 614.47,332.51 615.26,333 616.04,333.46 616.83,333.89 617.61,334.31 618.4,334.69 619.19,335.05 619.97,335.37 620.76,335.69 621.54,335.99 622.33,336.27 623.12,336.54 623.9,336.8 624.69,337.04 625.47,337.26 626.26,337.47 627.05,337.67 627.83,337.85 628.62,338.03 629.4,338.2 630.19,338.36 630.97,338.52 631.76,338.66 632.55,338.8 633.33,338.92 634.12,339.03 634.9,339.13 635.69,339.21 636.48,339.3 637.26,339.37 638.05,339.45 638.83,339.52 639.62,339.59 640.41,339.65 641.19,339.71 641.98,339.77 642.76,339.83 643.55,339.88 644.34,339.93 645.12,339.98 645.91,340.03 646.69,340.08 647.48,340.12 648.27,340.16 649.05,340.21 649.84,340.25 650.62,340.28 651.41,340.32 652.2,340.36 652.98,340.4 653.77,340.44 654.55,340.47 655.34,340.51 656.13,340.54 656.91,340.58 657.7,340.61 658.48,340.64 659.27,340.67 660.06,340.7 660.84,340.73 661.63,340.76 662.41,340.78 663.2,340.8 663.98,340.82 664.77,340.84 665.56,340.85 666.34,340.86 667.13,340.87 667.91,340.88 668.7,340.89 669.49,340.9 670.27,340.9 671.06,340.91 671.84,340.92 672.63,340.93 673.42,340.93 674.2,340.94 674.99,340.95 675.77,340.95 676.56,340.96 677.35,340.97 678.13,340.97 678.92,340.98 679.7,340.98 680.49,340.99 681.28,340.99 682.06,341 682.85,341 683.63,341.01 684.42,341.01 685.21,341.02 685.99,341.02 686.78,341.02 687.56,341.03 688.35,341.03 689.14,341.03 689.92,341.04 690.71,341.04 691.49,341.05 692.28,341.05 693.07,341.05 693.85,341.06 694.64,341.06 695.42,341.06 696.21,341.07 696.99,341.07 697.78,341.07 698.57,341.08 699.35,341.08 700.14,341.08 700.92,341.09 701.71,341.09 702.5,341.09 703.28,341.1 704.07,341.1 704.85,341.1 705.64,341.11 706.43,341.11 707.21,341.11 708,341.12 708.78,341.12 709.57,341.13 710.36,341.13 711.14,341.13 711.93,341.14 712.71,341.14 713.5,341.15" fill="none" stroke="#e8141c" stroke-width="2.0" stroke-linejoin="round"/><polyline points="478.5,339.16 479.29,339.19 480.07,339.22 480.86,339.24 481.64,339.27 482.43,339.3 483.22,339.33 484,339.36 484.79,339.39 485.57,339.42 486.36,339.45 487.15,339.48 487.93,339.51 488.72,339.54 489.5,339.57 490.29,339.6 491.08,339.63 491.86,339.66 492.65,339.69 493.43,339.72 494.22,339.75 495.01,339.78 495.79,339.81 496.58,339.84 497.36,339.87 498.15,339.9 498.93,339.93 499.72,339.96 500.51,339.99 501.29,340.01 502.08,340.04 502.86,340.07 503.65,340.1 504.44,340.12 505.22,340.15 506.01,340.17 506.79,340.2 507.58,340.23 508.37,340.25 509.15,340.27 509.94,340.3 510.72,340.32 511.51,340.35 512.3,340.37 513.08,340.4 513.87,340.43 514.65,340.45 515.44,340.48 516.23,340.51 517.01,340.54 517.8,340.56 518.58,340.59 519.37,340.62 520.16,340.64 520.94,340.67 521.73,340.69 522.51,340.71 523.3,340.73 524.09,340.76 524.87,340.77 525.66,340.79 526.44,340.81 527.23,340.82 528.02,340.84 528.8,340.85 529.59,340.85 530.37,340.86 531.16,340.86 531.94,340.84 532.73,340.35 533.52,339.37 534.3,338.15 535.09,336.91 535.87,335.92 536.66,335.37 537.45,335.01 538.23,334.68 539.02,334.41 539.8,334.2 540.59,334.07 541.38,334.05 542.16,334.18 542.95,334.39 543.73,334.56 544.52,334.53 545.31,333.04 546.09,330.29 546.88,327.08 547.66,324.12 548.45,321.09 549.24,317.8 550.02,314.36 550.81,310.86 551.59,307.38 552.38,304.02 553.17,300.81 553.95,297.66 554.74,294.48 555.52,291.18 556.31,287.67 557.1,283.82 557.88,279.22 558.67,274.19 559.45,269.2 560.24,264.78 561.03,261.29 561.81,257.9 562.6,254.88 563.38,252.89 564.17,252.5 564.95,252.62 565.74,252.87 566.53,253.21 567.31,253.63 568.1,254.13 568.88,255.04 569.67,256.36 570.46,257.94 571.24,259.68 572.03,261.43 572.81,263.1 573.6,264.87 574.39,266.76 575.17,268.72 575.96,270.71 576.74,272.68 577.53,274.6 578.32,276.49 579.1,278.38 579.89,280.28 580.67,282.18 581.46,284.09 582.25,286.02 583.03,288.03 583.82,290.08 584.6,292.14 585.39,294.19 586.18,296.19 586.96,298.1 587.75,299.9 588.53,301.56 589.32,303.16 590.11,304.73 590.89,306.25 591.68,307.72 592.46,309.13 593.25,310.49 594.04,311.78 594.82,313.01 595.61,314.17 596.39,315.25 597.18,316.28 597.96,317.25 598.75,318.18 599.54,319.07 600.32,319.93 601.11,320.76 601.89,321.57 602.68,322.37 603.47,323.16 604.25,323.95 605.04,324.74 605.82,325.52 606.61,326.29 607.4,327.04 608.18,327.77 608.97,328.48 609.75,329.15 610.54,329.79 611.33,330.39 612.11,330.95 612.9,331.49 613.68,332.01 614.47,332.51 615.26,333 616.04,333.46 616.83,333.89 617.61,334.31 618.4,334.69 619.19,335.05 619.97,335.37 620.76,335.69 621.54,335.99 622.33,336.27 623.12,336.54 623.9,336.8 624.69,337.04 625.47,337.26 626.26,337.47 627.05,337.67 627.83,337.85 628.62,338.03 629.4,338.2 630.19,338.36 630.97,338.52 631.76,338.66 632.55,338.8 633.33,338.92 634.12,339.03 634.9,339.13 635.69,339.21 636.48,339.3 637.26,339.37 638.05,339.45 638.83,339.52 639.62,339.59 640.41,339.65 641.19,339.71 641.98,339.77 642.76,339.83 643.55,339.88 644.34,339.93 645.12,339.98 645.91,340.03 646.69,340.08 647.48,340.12 648.27,340.16 649.05,340.21 649.84,340.25 650.62,340.28 651.41,340.32 652.2,340.36 652.98,340.4 653.77,340.44 654.55,340.47 655.34,340.51 656.13,340.54 656.91,340.58 657.7,340.61 658.48,340.64 659.27,340.67 660.06,340.7 660.84,340.73 661.63,340.76 662.41,340.78 663.2,340.8 663.98,340.82 664.77,340.84 665.56,340.85 666.34,340.86 667.13,340.87 667.91,340.88 668.7,340.89 669.49,340.9 670.27,340.9 671.06,340.91 671.84,340.92 672.63,340.93 673.42,340.93 674.2,340.94 674.99,340.95 675.77,340.95 676.56,340.96 677.35,340.97 678.13,340.97 678.92,340.98 679.7,340.98 680.49,340.99 681.28,340.99 682.06,341 682.85,341 683.63,341.01 684.42,341.01 685.21,341.02 685.99,341.02 686.78,341.02 687.56,341.03 688.35,341.03 689.14,341.03 689.92,341.04 690.71,341.04 691.49,341.05 692.28,341.05 693.07,341.05 693.85,341.06 694.64,341.06 695.42,341.06 696.21,341.07 696.99,341.07 697.78,341.07 698.57,341.08 699.35,341.08 700.14,341.08 700.92,341.09 701.71,341.09 702.5,341.09 703.28,341.1 704.07,341.1 704.85,341.1 705.64,341.11 706.43,341.11 707.21,341.11 708,341.12 708.78,341.12 709.57,341.13 710.36,341.13 711.14,341.13 711.93,341.14 712.71,341.14 713.5,341.15" fill="none" stroke="#1212d8" stroke-width="2.1" stroke-linejoin="round" stroke-dasharray="7.8 4.4"/><polyline points="478.5,338.87 479.29,338.9 480.07,338.92 480.86,338.94 481.64,338.96 482.43,338.98 483.22,339 484,339.02 484.79,339.04 485.57,339.06 486.36,339.09 487.15,339.11 487.93,339.13 488.72,339.15 489.5,339.17 490.29,339.19 491.08,339.21 491.86,339.23 492.65,339.25 493.43,339.27 494.22,339.3 495.01,339.32 495.79,339.34 496.58,339.36 497.36,339.38 498.15,339.4 498.93,339.42 499.72,339.44 500.51,339.47 501.29,339.49 502.08,339.51 502.86,339.53 503.65,339.55 504.44,339.57 505.22,339.6 506.01,339.62 506.79,339.64 507.58,339.66 508.37,339.68 509.15,339.71 509.94,339.73 510.72,339.75 511.51,339.78 512.3,339.81 513.08,339.85 513.87,339.88 514.65,339.91 515.44,339.94 516.23,339.96 517.01,339.98 517.8,340 518.58,340.01 519.37,339.62 520.16,328.98 520.94,321.28 521.73,315.91 522.51,314.17 523.3,314.75 524.09,315.86 524.87,317.07 525.66,318 526.44,318.82 527.23,319.65 528.02,320.37 528.8,320.84 529.59,320.97 530.37,320.92 531.16,320.8 531.94,320.6 532.73,320.2 533.52,316.87 534.3,311.56 535.09,306.94 535.87,303.03 536.66,299.21 537.45,295.45 538.23,291.71 539.02,287.96 539.8,284.18 540.59,280.45 541.38,276.76 542.16,273.06 542.95,269.28 543.73,265.37 544.52,261.25 545.31,256.72 546.09,251.93 546.88,247.14 547.66,242.6 548.45,238.56 549.24,234.98 550.02,231.67 550.81,228.43 551.59,225.09 552.38,221.46 553.17,217.3 553.95,212.89 554.74,208.61 555.52,204.82 556.31,201.85 557.1,199.02 557.88,196.27 558.67,193.83 559.45,191.92 560.24,190.77 561.03,190.59 561.81,191.22 562.6,192.44 563.38,194.06 564.17,195.89 564.95,197.81 565.74,200.33 566.53,203.44 567.31,206.98 568.1,210.78 568.88,214.64 569.67,218.45 570.46,222.52 571.24,226.86 572.03,231.32 572.81,235.78 573.6,240.1 574.39,244.18 575.17,248.2 575.96,252.18 576.74,256.07 577.53,259.81 578.32,263.35 579.1,266.66 579.89,269.84 580.67,272.91 581.46,275.87 582.25,278.72 583.03,281.47 583.82,284.11 584.6,286.66 585.39,289.11 586.18,291.51 586.96,293.84 587.75,296.09 588.53,298.27 589.32,300.34 590.11,302.31 590.89,304.15 591.68,305.87 592.46,307.52 593.25,309.1 594.04,310.62 594.82,312.05 595.61,313.41 596.39,314.69 597.18,315.87 597.96,316.97 598.75,317.99 599.54,318.95 600.32,319.86 601.11,320.72 601.89,321.55 602.68,322.36 603.47,323.16 604.25,323.95 605.04,324.74 605.82,325.53 606.61,326.3 607.4,327.05 608.18,327.78 608.97,328.48 609.75,329.15 610.54,329.79 611.33,330.39 612.11,330.95 612.9,331.49 613.68,332.01 614.47,332.51 615.26,333 616.04,333.46 616.83,333.89 617.61,334.31 618.4,334.69 619.19,335.05 619.97,335.37 620.76,335.69 621.54,335.99 622.33,336.27 623.12,336.54 623.9,336.8 624.69,337.04 625.47,337.26 626.26,337.47 627.05,337.67 627.83,337.85 628.62,338.03 629.4,338.2 630.19,338.36 630.97,338.52 631.76,338.66 632.55,338.8 633.33,338.92 634.12,339.03 634.9,339.13 635.69,339.21 636.48,339.3 637.26,339.37 638.05,339.45 638.83,339.52 639.62,339.59 640.41,339.65 641.19,339.71 641.98,339.77 642.76,339.83 643.55,339.88 644.34,339.93 645.12,339.98 645.91,340.03 646.69,340.08 647.48,340.12 648.27,340.16 649.05,340.21 649.84,340.25 650.62,340.28 651.41,340.32 652.2,340.36 652.98,340.4 653.77,340.44 654.55,340.47 655.34,340.51 656.13,340.54 656.91,340.58 657.7,340.61 658.48,340.64 659.27,340.67 660.06,340.7 660.84,340.73 661.63,340.76 662.41,340.78 663.2,340.8 663.98,340.82 664.77,340.84 665.56,340.85 666.34,340.86 667.13,340.87 667.91,340.88 668.7,340.89 669.49,340.9 670.27,340.9 671.06,340.91 671.84,340.92 672.63,340.93 673.42,340.93 674.2,340.94 674.99,340.95 675.77,340.95 676.56,340.96 677.35,340.97 678.13,340.97 678.92,340.98 679.7,340.98 680.49,340.99 681.28,340.99 682.06,341 682.85,341 683.63,341.01 684.42,341.01 685.21,341.02 685.99,341.02 686.78,341.02 687.56,341.03 688.35,341.03 689.14,341.03 689.92,341.04 690.71,341.04 691.49,341.05 692.28,341.05 693.07,341.05 693.85,341.06 694.64,341.06 695.42,341.06 696.21,341.07 696.99,341.07 697.78,341.07 698.57,341.08 699.35,341.08 700.14,341.08 700.92,341.09 701.71,341.09 702.5,341.09 703.28,341.1 704.07,341.1 704.85,341.1 705.64,341.11 706.43,341.11 707.21,341.11 708,341.12 708.78,341.12 709.57,341.13 710.36,341.13 711.14,341.13 711.93,341.14 712.71,341.14 713.5,341.15" fill="none" stroke="#e020e0" stroke-width="1.8" stroke-linejoin="round" stroke-dasharray="3 2.4"/><text transform="translate(446,269) rotate(-90)" font-size="15.5" text-anchor="middle">Φ<tspan font-size="9.5" dy="3">TC</tspan></text><text x="596" y="387.5" font-size="14" text-anchor="middle" ><tspan font-style="italic">N</tspan> / <tspan font-style="italic">L</tspan><tspan font-size="9" dy="-5.5">2</tspan></text></svg>
<div class="l b" style="left:1797.50px;top:390.60px;">(<i>a</i>)</div>
<div class="l b" style="left:2109.00px;top:390.60px;">(<i>b</i>)</div>
<div class="l b j" style="left:1797.50px;top:423.10px;width:646.00px;letter-spacing:0.410px;word-spacing:-0.40px;"><b>Figure 1.</b>&ensp;Examples of the ﬁgure of merit, Φ<span class="sb">TC</span>, vs number of particles per unite area, <i>m</i> = 256.</div>
<div class="l b j" style="left:1797.50px;top:441.63px;width:646.00px;letter-spacing:0.410px;word-spacing:-0.40px;"><span class="dash" style="width:30px"></span> SD = 0, <span class="dash" style="width:7px;margin-right:6px"></span><span class="dash" style="width:7px;margin-right:6px"></span><span class="dash" style="width:7px"></span> SD = 0.5, - &nbsp;- &nbsp;- &nbsp;- SD = 1.&ensp;(<i>a</i>) <i>s</i> = 0; (<i>b</i>) <i>s</i> = 1, the electrical conductivity</div>
<div class="l b j" style="left:1797.50px;top:460.16px;width:337.50px;letter-spacing:0.410px;word-spacing:-0.40px;">was computed along direction of ﬁllers alignment.</div>
<div class="l b j" style="left:1797.50px;top:510.20px;width:646.00px;letter-spacing:0.410px;word-spacing:-0.40px;">of ﬁllers per area when this maximum occurred. Nevertheless, the ﬁgure of merit was signiﬁcant</div>
<div class="l b j" style="left:1797.50px;top:528.73px;width:529.50px;letter-spacing:0.410px;word-spacing:-0.40px;">smaller (about 5 times) for anisotropic system in compare with isotropic case.</div>
<div class="l b j" style="left:1817.50px;top:547.20px;width:626.00px;letter-spacing:0.410px;word-spacing:-0.40px;">The results presented below are obtained for lattices with <i>L</i> = 32.&ensp;Figure 2 shows, as an</div>
<div class="l b j" style="left:1797.50px;top:565.73px;width:646.00px;letter-spacing:0.358px;word-spacing:-0.40px;">example, the results of a numerical calculation of the dependence of the logarithm of the averaged</div>
<div class="l b j" style="left:1797.50px;top:584.26px;width:646.00px;letter-spacing:0.362px;word-spacing:-0.40px;">effective electrical conductivity, <i>σ</i>, on the concentration, <i>p</i>, along the direction of alignment of the</div>
<div class="l b j" style="left:1797.50px;top:602.79px;width:646.00px;letter-spacing:0.410px;word-spacing:-0.40px;">rods (<i>a</i>) and in the perpendicular direction (<i>b</i>) at SD = 0,&thinsp;0.1,&thinsp;0.5,&thinsp;1.0 and <i>s</i> = 0.5,&thinsp;<i>m</i> = 512. The</div>
<div class="l b j" style="left:1797.50px;top:621.32px;width:646.00px;letter-spacing:0.410px;word-spacing:-0.40px;">curves have the shape of a sigmoid; the jump in electrical conductivity indicates an insulator-</div>
<div class="l b j" style="left:1797.50px;top:639.85px;width:646.00px;letter-spacing:0.410px;word-spacing:-0.40px;">metal transition. The concentration at which this transition occurs is reduced when the length</div>
<div class="l b j" style="left:1797.50px;top:658.38px;width:646.00px;letter-spacing:0.410px;word-spacing:-0.40px;">dispersity increases in both perpendicular directions at partial ordering of the rods (<i>s</i> = 0.5).</div>
<div class="l b j" style="left:1797.50px;top:676.91px;width:646.00px;letter-spacing:0.338px;word-spacing:-0.40px;">The number of long rods increases when the dispersity increases, which improves the connectivity</div>
<div class="l b j" style="left:1797.50px;top:695.44px;width:219.50px;letter-spacing:0.410px;word-spacing:-0.40px;">of the system in both directions.</div>
<svg style="position:absolute;left:1696px;top:0;width:848px;height:1200px;overflow:visible" viewBox="0 0 848 1200"><rect x="158.5" y="728.5" width="245" height="178" fill="none" stroke="#333" stroke-width="1" shape-rendering="crispEdges"/><path d="M161 906.5V909.7M161 728.5V731.7M209.2 906.5V909.7M209.2 728.5V731.7M257.4 906.5V909.7M257.4 728.5V731.7M305.6 906.5V909.7M305.6 728.5V731.7M353.8 906.5V909.7M353.8 728.5V731.7M402 906.5V909.7M402 728.5V731.7" stroke="#333" stroke-width="0.9" fill="none"/><text x="161" y="923.5" font-size="14" text-anchor="middle">0.0</text><text x="209.2" y="923.5" font-size="14" text-anchor="middle">0.2</text><text x="257.4" y="923.5" font-size="14" text-anchor="middle">0.4</text><text x="305.6" y="923.5" font-size="14" text-anchor="middle">0.6</text><text x="353.8" y="923.5" font-size="14" text-anchor="middle">0.8</text><text x="402" y="923.5" font-size="14" text-anchor="middle">1.0</text><path d="M185.1 906.5V908.3M185.1 728.5V730.3M233.3 906.5V908.3M233.3 728.5V730.3M281.5 906.5V908.3M281.5 728.5V730.3M329.7 906.5V908.3M329.7 728.5V730.3M377.9 906.5V908.3M377.9 728.5V730.3" stroke="#333" stroke-width="0.8" fill="none"/><path d="M158.5 903.5H155.3M403.5 903.5H400.3M158.5 874.37H155.3M403.5 874.37H400.3M158.5 845.23H155.3M403.5 845.23H400.3M158.5 816.1H155.3M403.5 816.1H400.3M158.5 786.97H155.3M403.5 786.97H400.3M158.5 757.83H155.3M403.5 757.83H400.3M158.5 728.7H155.3M403.5 728.7H400.3" stroke="#333" stroke-width="0.9" fill="none"/><text x="153" y="908.12" font-size="14" text-anchor="end">0</text><text x="153" y="878.99" font-size="14" text-anchor="end">1</text><text x="153" y="849.85" font-size="14" text-anchor="end">2</text><text x="153" y="820.72" font-size="14" text-anchor="end">3</text><text x="153" y="791.59" font-size="14" text-anchor="end">4</text><text x="153" y="762.45" font-size="14" text-anchor="end">5</text><text x="153" y="733.32" font-size="14" text-anchor="end">6</text><path d="M158.5 888.93H156.7M403.5 888.93H401.7M158.5 859.8H156.7M403.5 859.8H401.7M158.5 830.67H156.7M403.5 830.67H401.7M158.5 801.53H156.7M403.5 801.53H401.7M158.5 772.4H156.7M403.5 772.4H401.7M158.5 743.27H156.7M403.5 743.27H401.7" stroke="#333" stroke-width="0.8" fill="none"/><g transform="translate(136,826) rotate(-90) translate(-20.68,0)"><text x="0" y="0" font-size="15">log</text><text x="19.17" y="3.75" font-size="8.7">10</text><text x="28.17" y="0" font-size="15">σ</text><path d="M37.52 -3.3v7.5M39.77 -3.3v7.5" stroke="#aaa" stroke-width="1.05" fill="none"/></g><text x="281" y="938.6" font-size="15" text-anchor="middle" ><tspan font-style="italic">p</tspan></text><path d="M161 901L163.5 903.5L161 906L158.5 903.5ZM162.01 900.19L164.51 902.69L162.01 905.19L159.51 902.69ZM163.02 899.39L165.52 901.89L163.02 904.39L160.52 901.89ZM164.04 898.59L166.54 901.09L164.04 903.59L161.54 901.09ZM165.05 897.79L167.55 900.29L165.05 902.79L162.55 900.29ZM166.06 896.99L168.56 899.49L166.06 901.99L163.56 899.49ZM167.07 896.19L169.57 898.69L167.07 901.19L164.57 898.69ZM168.09 895.39L170.59 897.89L168.09 900.39L165.59 897.89ZM169.1 894.58L171.6 897.08L169.1 899.58L166.6 897.08ZM170.11 893.77L172.61 896.27L170.11 898.77L167.61 896.27ZM171.12 892.96L173.62 895.46L171.12 897.96L168.62 895.46ZM172.13 892.14L174.63 894.64L172.13 897.14L169.63 894.64ZM173.15 891.31L175.65 893.81L173.15 896.31L170.65 893.81ZM174.16 890.49L176.66 892.99L174.16 895.49L171.66 892.99ZM175.17 889.69L177.67 892.19L175.17 894.69L172.67 892.19ZM176.18 888.9L178.68 891.4L176.18 893.9L173.68 891.4ZM177.2 888.11L179.7 890.61L177.2 893.11L174.7 890.61ZM178.21 887.32L180.71 889.82L178.21 892.32L175.71 889.82ZM179.22 886.51L181.72 889.01L179.22 891.51L176.72 889.01ZM180.23 885.69L182.73 888.19L180.23 890.69L177.73 888.19ZM181.24 884.83L183.74 887.33L181.24 889.83L178.74 887.33ZM182.26 883.95L184.76 886.45L182.26 888.95L179.76 886.45ZM183.27 883.01L185.77 885.51L183.27 888.01L180.77 885.51ZM184.28 882.03L186.78 884.53L184.28 887.03L181.78 884.53ZM185.29 880.99L187.79 883.49L185.29 885.99L182.79 883.49ZM186.31 879.87L188.81 882.37L186.31 884.87L183.81 882.37ZM187.32 878.68L189.82 881.18L187.32 883.68L184.82 881.18ZM188.33 877.43L190.83 879.93L188.33 882.43L185.83 879.93ZM189.34 876.12L191.84 878.62L189.34 881.12L186.84 878.62ZM190.35 874.75L192.85 877.25L190.35 879.75L187.85 877.25ZM191.37 873.34L193.87 875.84L191.37 878.34L188.87 875.84ZM192.38 871.88L194.88 874.38L192.38 876.88L189.88 874.38ZM193.39 870.39L195.89 872.89L193.39 875.39L190.89 872.89ZM194.4 868.86L196.9 871.36L194.4 873.86L191.9 871.36ZM195.41 867.31L197.91 869.81L195.41 872.31L192.91 869.81ZM196.43 865.74L198.93 868.24L196.43 870.74L193.93 868.24ZM197.44 864.16L199.94 866.66L197.44 869.16L194.94 866.66ZM198.45 862.57L200.95 865.07L198.45 867.57L195.95 865.07ZM199.46 860.96L201.96 863.46L199.46 865.96L196.96 863.46ZM200.48 859.26L202.98 861.76L200.48 864.26L197.98 861.76ZM201.49 857.5L203.99 860L201.49 862.5L198.99 860ZM202.5 855.7L205 858.2L202.5 860.7L200 858.2ZM203.51 853.89L206.01 856.39L203.51 858.89L201.01 856.39ZM204.52 852.09L207.02 854.59L204.52 857.09L202.02 854.59ZM205.54 850.3L208.04 852.8L205.54 855.3L203.04 852.8ZM206.55 848.5L209.05 851L206.55 853.5L204.05 851ZM207.56 846.69L210.06 849.19L207.56 851.69L205.06 849.19ZM208.57 844.88L211.07 847.38L208.57 849.88L206.07 847.38Z" fill="#fff" stroke="#1e8a1e" stroke-width="0.8"/><path d="M208.48 802.53L210.98 805.03L208.48 807.53L205.98 805.03ZM212.38 795.92L214.88 798.42L212.38 800.92L209.88 798.42ZM216.29 786.2L218.79 788.7L216.29 791.2L213.79 788.7ZM220.19 780.25L222.69 782.75L220.19 785.25L217.69 782.75ZM224.09 775.48L226.59 777.98L224.09 780.48L221.59 777.98ZM228 771.03L230.5 773.53L228 776.03L225.5 773.53ZM231.9 767.24L234.4 769.74L231.9 772.24L229.4 769.74ZM235.81 764.75L238.31 767.25L235.81 769.75L233.31 767.25ZM239.71 762.26L242.21 764.76L239.71 767.26L237.21 764.76ZM243.61 759.45L246.11 761.95L243.61 764.45L241.11 761.95ZM247.52 757.41L250.02 759.91L247.52 762.41L245.02 759.91ZM251.42 755.8L253.92 758.3L251.42 760.8L248.92 758.3ZM255.33 754.2L257.83 756.7L255.33 759.2L252.83 756.7ZM259.23 752.38L261.73 754.88L259.23 757.38L256.73 754.88ZM263.14 750.65L265.64 753.15L263.14 755.65L260.64 753.15ZM267.04 749.51L269.54 752.01L267.04 754.51L264.54 752.01ZM270.94 748.24L273.44 750.74L270.94 753.24L268.44 750.74ZM274.85 746.93L277.35 749.43L274.85 751.93L272.35 749.43ZM278.75 745.67L281.25 748.17L278.75 750.67L276.25 748.17ZM282.66 744.52L285.16 747.02L282.66 749.52L280.16 747.02ZM286.56 743.44L289.06 745.94L286.56 748.44L284.06 745.94ZM290.47 742.41L292.97 744.91L290.47 747.41L287.97 744.91ZM294.37 741.41L296.87 743.91L294.37 746.41L291.87 743.91ZM298.27 740.46L300.77 742.96L298.27 745.46L295.77 742.96ZM302.18 739.56L304.68 742.06L302.18 744.56L299.68 742.06ZM306.08 738.7L308.58 741.2L306.08 743.7L303.58 741.2ZM309.99 737.89L312.49 740.39L309.99 742.89L307.49 740.39ZM313.89 737.12L316.39 739.62L313.89 742.12L311.39 739.62ZM317.79 736.39L320.29 738.89L317.79 741.39L315.29 738.89ZM321.7 735.69L324.2 738.19L321.7 740.69L319.2 738.19ZM325.6 735.03L328.1 737.53L325.6 740.03L323.1 737.53ZM329.51 734.38L332.01 736.88L329.51 739.38L327.01 736.88ZM333.41 733.77L335.91 736.27L333.41 738.77L330.91 736.27ZM337.32 733.17L339.82 735.67L337.32 738.17L334.82 735.67ZM341.22 732.59L343.72 735.09L341.22 737.59L338.72 735.09ZM345.12 732.03L347.62 734.53L345.12 737.03L342.62 734.53ZM349.03 731.48L351.53 733.98L349.03 736.48L346.53 733.98ZM352.93 730.96L355.43 733.46L352.93 735.96L350.43 733.46ZM356.84 730.46L359.34 732.96L356.84 735.46L354.34 732.96ZM360.74 730L363.24 732.5L360.74 735L358.24 732.5ZM364.64 729.57L367.14 732.07L364.64 734.57L362.14 732.07ZM368.55 729.16L371.05 731.66L368.55 734.16L366.05 731.66ZM372.45 728.78L374.95 731.28L372.45 733.78L369.95 731.28ZM376.36 728.42L378.86 730.92L376.36 733.42L373.86 730.92ZM380.26 728.07L382.76 730.57L380.26 733.07L377.76 730.57ZM384.17 727.73L386.67 730.23L384.17 732.73L381.67 730.23ZM388.07 727.4L390.57 729.9L388.07 732.4L385.57 729.9ZM391.97 727.07L394.47 729.57L391.97 732.07L389.47 729.57ZM395.88 726.74L398.38 729.24L395.88 731.74L393.38 729.24ZM399.78 726.4L402.28 728.9L399.78 731.4L397.28 728.9ZM402 726.2L404.5 728.7L402 731.2L399.5 728.7Z" fill="#fff" stroke="#1e8a1e" stroke-width="0.8"/><path d="M161 900.86L163.3 905.23H158.7ZM162.01 900.22L164.31 904.59H159.71ZM163.02 899.59L165.32 903.96H160.72ZM164.04 898.96L166.34 903.33H161.74ZM165.05 898.33L167.35 902.7H162.75ZM166.06 897.7L168.36 902.07H163.76ZM167.07 897.07L169.37 901.44H164.77ZM168.09 896.44L170.39 900.81H165.79ZM169.1 895.81L171.4 900.18H166.8ZM170.11 895.17L172.41 899.54H167.81ZM171.12 894.52L173.42 898.89H168.82ZM172.13 893.87L174.43 898.24H169.83ZM173.15 893.22L175.45 897.59H170.85ZM174.16 892.56L176.46 896.93H171.86ZM175.17 891.92L177.47 896.29H172.87ZM176.18 891.27L178.48 895.64H173.88ZM177.2 890.63L179.5 895H174.9ZM178.21 889.98L180.51 894.35H175.91ZM179.22 889.32L181.52 893.69H176.92ZM180.23 888.65L182.53 893.02H177.93ZM181.24 887.97L183.54 892.34H178.94ZM182.26 887.26L184.56 891.63H179.96ZM183.27 886.53L185.57 890.9H180.97ZM184.28 885.76L186.58 890.13H181.98ZM185.29 884.97L187.59 889.34H182.99ZM186.31 884.14L188.61 888.51H184ZM187.32 883.28L189.62 887.65H185.02ZM188.33 882.39L190.63 886.76H186.03ZM189.34 881.47L191.64 885.84H187.04ZM190.35 880.52L192.65 884.89H188.05ZM191.37 879.54L193.67 883.91H189.07ZM192.38 878.55L194.68 882.92H190.08ZM193.39 877.53L195.69 881.9H191.09ZM194.4 876.49L196.7 880.86H192.1ZM195.41 875.43L197.71 879.8H193.11ZM196.43 874.35L198.73 878.72H194.13ZM197.44 873.25L199.74 877.62H195.14ZM198.45 872.15L200.75 876.52H196.15ZM199.46 871.02L201.76 875.39H197.16ZM200.48 869.87L202.78 874.24H198.18ZM201.49 868.7L203.79 873.07H199.19ZM202.5 867.49L204.8 871.86H200.2ZM203.51 866.25L205.81 870.62H201.21ZM204.52 864.99L206.82 869.36H202.22ZM205.54 863.69L207.84 868.06H203.24ZM206.55 862.37L208.85 866.74H204.25ZM207.56 861.02L209.86 865.39H205.26ZM208.57 859.63L210.87 864H206.27ZM209.59 858.22L211.89 862.59H207.29ZM210.6 856.78L212.9 861.15H208.3ZM211.61 855.31L213.91 859.68H209.31ZM212.62 853.81L214.92 858.18H210.32ZM213.63 852.25L215.93 856.62H211.33ZM214.65 850.6L216.95 854.97H212.35ZM215.66 848.84L217.96 853.21H213.36ZM216.67 846.96L218.97 851.33H214.37ZM217.68 844.82L219.98 849.19H215.38ZM218.7 842.42L221 846.79H216.4ZM219.71 839.92L222.01 844.29H217.41ZM220.72 837.46L223.02 841.83H218.42Z" fill="#fff" stroke="#e020e0" stroke-width="0.8"/><path d="M220.77 801.51L223.07 805.88H218.47ZM224.67 789.78L226.97 794.15H222.37ZM228.58 782.59L230.88 786.96H226.28ZM232.48 776.87L234.78 781.24H230.18ZM236.38 772.78L238.68 777.15H234.08ZM240.29 768.53L242.59 772.9H237.99ZM244.19 765.01L246.49 769.38H241.89ZM248.1 761.93L250.4 766.3H245.8ZM252 759.14L254.3 763.51H249.7ZM255.91 756.64L258.21 761.01H253.61ZM259.81 754.48L262.11 758.85H257.51ZM263.71 752.58L266.01 756.95H261.41ZM267.62 750.86L269.92 755.23H265.32ZM271.52 749.23L273.82 753.6H269.22ZM275.43 747.69L277.73 752.06H273.13ZM279.33 746.29L281.63 750.66H277.03ZM283.24 745.03L285.54 749.4H280.94ZM287.14 743.86L289.44 748.23H284.84ZM291.04 742.75L293.34 747.12H288.74ZM294.95 741.7L297.25 746.07H292.65ZM298.85 740.71L301.15 745.08H296.55ZM302.76 739.77L305.06 744.14H300.46ZM306.66 738.89L308.96 743.26H304.36ZM310.56 738.05L312.86 742.42H308.26ZM314.47 737.26L316.77 741.63H312.17ZM318.37 736.51L320.67 740.88H316.07ZM322.28 735.8L324.58 740.17H319.98ZM326.18 735.12L328.48 739.49H323.88ZM330.09 734.47L332.39 738.84H327.79ZM333.99 733.83L336.29 738.2H331.69ZM337.89 733.22L340.19 737.59H335.59ZM341.8 732.62L344.1 736.99H339.5ZM345.7 732.04L348 736.41H343.4ZM349.61 731.47L351.91 735.84H347.31ZM353.51 730.93L355.81 735.3H351.21ZM357.41 730.42L359.71 734.79H355.11ZM361.32 729.94L363.62 734.31H359.02ZM365.22 729.5L367.52 733.87H362.92ZM369.13 729.08L371.43 733.45H366.83ZM373.03 728.69L375.33 733.06H370.73ZM376.94 728.31L379.24 732.68H374.64ZM380.84 727.95L383.14 732.32H378.54ZM384.74 727.6L387.04 731.97H382.44ZM388.65 727.26L390.95 731.63H386.35ZM392.55 726.91L394.85 731.28H390.25ZM396.46 726.57L398.76 730.94H394.16ZM400.36 726.21L402.66 730.58H398.06ZM402 726.06L404.3 730.43H399.7Z" fill="#fff" stroke="#e020e0" stroke-width="0.8"/><path d="M159.08 902.63a2.4 2.4 0 1 0 4.8 0a2.4 2.4 0 1 0 -4.8 0zM160.09 902.11a2.4 2.4 0 1 0 4.8 0a2.4 2.4 0 1 0 -4.8 0zM161.11 901.6a2.4 2.4 0 1 0 4.8 0a2.4 2.4 0 1 0 -4.8 0zM162.12 901.1a2.4 2.4 0 1 0 4.8 0a2.4 2.4 0 1 0 -4.8 0zM163.13 900.59a2.4 2.4 0 1 0 4.8 0a2.4 2.4 0 1 0 -4.8 0zM164.14 900.08a2.4 2.4 0 1 0 4.8 0a2.4 2.4 0 1 0 -4.8 0zM165.16 899.58a2.4 2.4 0 1 0 4.8 0a2.4 2.4 0 1 0 -4.8 0zM166.17 899.07a2.4 2.4 0 1 0 4.8 0a2.4 2.4 0 1 0 -4.8 0zM167.18 898.56a2.4 2.4 0 1 0 4.8 0a2.4 2.4 0 1 0 -4.8 0zM168.19 898.04a2.4 2.4 0 1 0 4.8 0a2.4 2.4 0 1 0 -4.8 0zM169.2 897.52a2.4 2.4 0 1 0 4.8 0a2.4 2.4 0 1 0 -4.8 0zM170.22 896.99a2.4 2.4 0 1 0 4.8 0a2.4 2.4 0 1 0 -4.8 0zM171.23 896.46a2.4 2.4 0 1 0 4.8 0a2.4 2.4 0 1 0 -4.8 0zM172.24 895.92a2.4 2.4 0 1 0 4.8 0a2.4 2.4 0 1 0 -4.8 0zM173.25 895.4a2.4 2.4 0 1 0 4.8 0a2.4 2.4 0 1 0 -4.8 0zM174.26 894.87a2.4 2.4 0 1 0 4.8 0a2.4 2.4 0 1 0 -4.8 0zM175.28 894.34a2.4 2.4 0 1 0 4.8 0a2.4 2.4 0 1 0 -4.8 0zM176.29 893.81a2.4 2.4 0 1 0 4.8 0a2.4 2.4 0 1 0 -4.8 0zM177.3 893.27a2.4 2.4 0 1 0 4.8 0a2.4 2.4 0 1 0 -4.8 0zM178.31 892.72a2.4 2.4 0 1 0 4.8 0a2.4 2.4 0 1 0 -4.8 0zM179.33 892.15a2.4 2.4 0 1 0 4.8 0a2.4 2.4 0 1 0 -4.8 0zM180.34 891.57a2.4 2.4 0 1 0 4.8 0a2.4 2.4 0 1 0 -4.8 0zM181.35 890.96a2.4 2.4 0 1 0 4.8 0a2.4 2.4 0 1 0 -4.8 0zM182.36 890.34a2.4 2.4 0 1 0 4.8 0a2.4 2.4 0 1 0 -4.8 0zM183.37 889.68a2.4 2.4 0 1 0 4.8 0a2.4 2.4 0 1 0 -4.8 0zM184.39 889a2.4 2.4 0 1 0 4.8 0a2.4 2.4 0 1 0 -4.8 0zM185.4 888.28a2.4 2.4 0 1 0 4.8 0a2.4 2.4 0 1 0 -4.8 0zM186.41 887.54a2.4 2.4 0 1 0 4.8 0a2.4 2.4 0 1 0 -4.8 0zM187.42 886.77a2.4 2.4 0 1 0 4.8 0a2.4 2.4 0 1 0 -4.8 0zM188.44 885.99a2.4 2.4 0 1 0 4.8 0a2.4 2.4 0 1 0 -4.8 0zM189.45 885.18a2.4 2.4 0 1 0 4.8 0a2.4 2.4 0 1 0 -4.8 0zM190.46 884.35a2.4 2.4 0 1 0 4.8 0a2.4 2.4 0 1 0 -4.8 0zM191.47 883.5a2.4 2.4 0 1 0 4.8 0a2.4 2.4 0 1 0 -4.8 0zM192.48 882.64a2.4 2.4 0 1 0 4.8 0a2.4 2.4 0 1 0 -4.8 0zM193.5 881.76a2.4 2.4 0 1 0 4.8 0a2.4 2.4 0 1 0 -4.8 0zM194.51 880.88a2.4 2.4 0 1 0 4.8 0a2.4 2.4 0 1 0 -4.8 0zM195.52 879.98a2.4 2.4 0 1 0 4.8 0a2.4 2.4 0 1 0 -4.8 0zM196.53 879.08a2.4 2.4 0 1 0 4.8 0a2.4 2.4 0 1 0 -4.8 0zM197.55 878.17a2.4 2.4 0 1 0 4.8 0a2.4 2.4 0 1 0 -4.8 0zM198.56 877.25a2.4 2.4 0 1 0 4.8 0a2.4 2.4 0 1 0 -4.8 0zM199.57 876.32a2.4 2.4 0 1 0 4.8 0a2.4 2.4 0 1 0 -4.8 0zM200.58 875.37a2.4 2.4 0 1 0 4.8 0a2.4 2.4 0 1 0 -4.8 0zM201.59 874.39a2.4 2.4 0 1 0 4.8 0a2.4 2.4 0 1 0 -4.8 0zM202.61 873.4a2.4 2.4 0 1 0 4.8 0a2.4 2.4 0 1 0 -4.8 0zM203.62 872.39a2.4 2.4 0 1 0 4.8 0a2.4 2.4 0 1 0 -4.8 0zM204.63 871.35a2.4 2.4 0 1 0 4.8 0a2.4 2.4 0 1 0 -4.8 0zM205.64 870.28a2.4 2.4 0 1 0 4.8 0a2.4 2.4 0 1 0 -4.8 0zM206.66 869.18a2.4 2.4 0 1 0 4.8 0a2.4 2.4 0 1 0 -4.8 0zM207.67 868.05a2.4 2.4 0 1 0 4.8 0a2.4 2.4 0 1 0 -4.8 0zM208.68 866.89a2.4 2.4 0 1 0 4.8 0a2.4 2.4 0 1 0 -4.8 0zM209.69 865.71a2.4 2.4 0 1 0 4.8 0a2.4 2.4 0 1 0 -4.8 0zM210.7 864.5a2.4 2.4 0 1 0 4.8 0a2.4 2.4 0 1 0 -4.8 0zM211.72 863.24a2.4 2.4 0 1 0 4.8 0a2.4 2.4 0 1 0 -4.8 0zM212.73 861.93a2.4 2.4 0 1 0 4.8 0a2.4 2.4 0 1 0 -4.8 0zM213.74 860.56a2.4 2.4 0 1 0 4.8 0a2.4 2.4 0 1 0 -4.8 0zM214.75 859.11a2.4 2.4 0 1 0 4.8 0a2.4 2.4 0 1 0 -4.8 0zM215.77 857.57a2.4 2.4 0 1 0 4.8 0a2.4 2.4 0 1 0 -4.8 0zM216.78 855.94a2.4 2.4 0 1 0 4.8 0a2.4 2.4 0 1 0 -4.8 0zM217.79 854.19a2.4 2.4 0 1 0 4.8 0a2.4 2.4 0 1 0 -4.8 0zM218.8 852.3a2.4 2.4 0 1 0 4.8 0a2.4 2.4 0 1 0 -4.8 0zM219.81 850.25a2.4 2.4 0 1 0 4.8 0a2.4 2.4 0 1 0 -4.8 0zM220.83 848.02a2.4 2.4 0 1 0 4.8 0a2.4 2.4 0 1 0 -4.8 0zM221.84 845.57a2.4 2.4 0 1 0 4.8 0a2.4 2.4 0 1 0 -4.8 0zM222.85 842.55a2.4 2.4 0 1 0 4.8 0a2.4 2.4 0 1 0 -4.8 0zM223.86 839.26a2.4 2.4 0 1 0 4.8 0a2.4 2.4 0 1 0 -4.8 0z" fill="#1212d8"/><path d="M224.15 804.16a2.4 2.4 0 1 0 4.8 0a2.4 2.4 0 1 0 -4.8 0zM228.06 793.24a2.4 2.4 0 1 0 4.8 0a2.4 2.4 0 1 0 -4.8 0zM231.96 782.78a2.4 2.4 0 1 0 4.8 0a2.4 2.4 0 1 0 -4.8 0zM235.86 776.28a2.4 2.4 0 1 0 4.8 0a2.4 2.4 0 1 0 -4.8 0zM239.77 771.19a2.4 2.4 0 1 0 4.8 0a2.4 2.4 0 1 0 -4.8 0zM243.67 767.78a2.4 2.4 0 1 0 4.8 0a2.4 2.4 0 1 0 -4.8 0zM247.58 764.29a2.4 2.4 0 1 0 4.8 0a2.4 2.4 0 1 0 -4.8 0zM251.48 761.44a2.4 2.4 0 1 0 4.8 0a2.4 2.4 0 1 0 -4.8 0zM255.39 759.25a2.4 2.4 0 1 0 4.8 0a2.4 2.4 0 1 0 -4.8 0zM259.29 757.18a2.4 2.4 0 1 0 4.8 0a2.4 2.4 0 1 0 -4.8 0zM263.19 754.9a2.4 2.4 0 1 0 4.8 0a2.4 2.4 0 1 0 -4.8 0zM267.1 752.94a2.4 2.4 0 1 0 4.8 0a2.4 2.4 0 1 0 -4.8 0zM271 751.22a2.4 2.4 0 1 0 4.8 0a2.4 2.4 0 1 0 -4.8 0zM274.91 749.67a2.4 2.4 0 1 0 4.8 0a2.4 2.4 0 1 0 -4.8 0zM278.81 748.27a2.4 2.4 0 1 0 4.8 0a2.4 2.4 0 1 0 -4.8 0zM282.72 747a2.4 2.4 0 1 0 4.8 0a2.4 2.4 0 1 0 -4.8 0zM286.62 745.81a2.4 2.4 0 1 0 4.8 0a2.4 2.4 0 1 0 -4.8 0zM290.52 744.69a2.4 2.4 0 1 0 4.8 0a2.4 2.4 0 1 0 -4.8 0zM294.43 743.64a2.4 2.4 0 1 0 4.8 0a2.4 2.4 0 1 0 -4.8 0zM298.33 742.65a2.4 2.4 0 1 0 4.8 0a2.4 2.4 0 1 0 -4.8 0zM302.24 741.72a2.4 2.4 0 1 0 4.8 0a2.4 2.4 0 1 0 -4.8 0zM306.14 740.84a2.4 2.4 0 1 0 4.8 0a2.4 2.4 0 1 0 -4.8 0zM310.04 740.02a2.4 2.4 0 1 0 4.8 0a2.4 2.4 0 1 0 -4.8 0zM313.95 739.24a2.4 2.4 0 1 0 4.8 0a2.4 2.4 0 1 0 -4.8 0zM317.85 738.5a2.4 2.4 0 1 0 4.8 0a2.4 2.4 0 1 0 -4.8 0zM321.76 737.8a2.4 2.4 0 1 0 4.8 0a2.4 2.4 0 1 0 -4.8 0zM325.66 737.13a2.4 2.4 0 1 0 4.8 0a2.4 2.4 0 1 0 -4.8 0zM329.57 736.48a2.4 2.4 0 1 0 4.8 0a2.4 2.4 0 1 0 -4.8 0zM333.47 735.86a2.4 2.4 0 1 0 4.8 0a2.4 2.4 0 1 0 -4.8 0zM337.37 735.25a2.4 2.4 0 1 0 4.8 0a2.4 2.4 0 1 0 -4.8 0zM341.28 734.66a2.4 2.4 0 1 0 4.8 0a2.4 2.4 0 1 0 -4.8 0zM345.18 734.08a2.4 2.4 0 1 0 4.8 0a2.4 2.4 0 1 0 -4.8 0zM349.09 733.53a2.4 2.4 0 1 0 4.8 0a2.4 2.4 0 1 0 -4.8 0zM352.99 733a2.4 2.4 0 1 0 4.8 0a2.4 2.4 0 1 0 -4.8 0zM356.89 732.49a2.4 2.4 0 1 0 4.8 0a2.4 2.4 0 1 0 -4.8 0zM360.8 732.02a2.4 2.4 0 1 0 4.8 0a2.4 2.4 0 1 0 -4.8 0zM364.7 731.57a2.4 2.4 0 1 0 4.8 0a2.4 2.4 0 1 0 -4.8 0zM368.61 731.15a2.4 2.4 0 1 0 4.8 0a2.4 2.4 0 1 0 -4.8 0zM372.51 730.75a2.4 2.4 0 1 0 4.8 0a2.4 2.4 0 1 0 -4.8 0zM376.42 730.36a2.4 2.4 0 1 0 4.8 0a2.4 2.4 0 1 0 -4.8 0zM380.32 729.99a2.4 2.4 0 1 0 4.8 0a2.4 2.4 0 1 0 -4.8 0zM384.22 729.63a2.4 2.4 0 1 0 4.8 0a2.4 2.4 0 1 0 -4.8 0zM388.13 729.27a2.4 2.4 0 1 0 4.8 0a2.4 2.4 0 1 0 -4.8 0zM392.03 728.91a2.4 2.4 0 1 0 4.8 0a2.4 2.4 0 1 0 -4.8 0zM395.94 728.54a2.4 2.4 0 1 0 4.8 0a2.4 2.4 0 1 0 -4.8 0zM399.84 728.16a2.4 2.4 0 1 0 4.8 0a2.4 2.4 0 1 0 -4.8 0z" fill="#1212d8"/><path d="M159.1 901.6h3.8v3.8h-3.8zM160.11 901.09h3.8v3.8h-3.8zM161.12 900.58h3.8v3.8h-3.8zM162.14 900.07h3.8v3.8h-3.8zM163.15 899.57h3.8v3.8h-3.8zM164.16 899.06h3.8v3.8h-3.8zM165.17 898.55h3.8v3.8h-3.8zM166.19 898.04h3.8v3.8h-3.8zM167.2 897.53h3.8v3.8h-3.8zM168.21 897.01h3.8v3.8h-3.8zM169.22 896.49h3.8v3.8h-3.8zM170.23 895.97h3.8v3.8h-3.8zM171.25 895.43h3.8v3.8h-3.8zM172.26 894.9h3.8v3.8h-3.8zM173.27 894.37h3.8v3.8h-3.8zM174.28 893.84h3.8v3.8h-3.8zM175.3 893.32h3.8v3.8h-3.8zM176.31 892.78h3.8v3.8h-3.8zM177.32 892.24h3.8v3.8h-3.8zM178.33 891.69h3.8v3.8h-3.8zM179.34 891.12h3.8v3.8h-3.8zM180.36 890.54h3.8v3.8h-3.8zM181.37 889.94h3.8v3.8h-3.8zM182.38 889.31h3.8v3.8h-3.8zM183.39 888.65h3.8v3.8h-3.8zM184.41 887.97h3.8v3.8h-3.8zM185.42 887.26h3.8v3.8h-3.8zM186.43 886.51h3.8v3.8h-3.8zM187.44 885.75h3.8v3.8h-3.8zM188.45 884.96h3.8v3.8h-3.8zM189.47 884.15h3.8v3.8h-3.8zM190.48 883.32h3.8v3.8h-3.8zM191.49 882.47h3.8v3.8h-3.8zM192.5 881.61h3.8v3.8h-3.8zM193.51 880.74h3.8v3.8h-3.8zM194.53 879.85h3.8v3.8h-3.8zM195.54 878.96h3.8v3.8h-3.8zM196.55 878.06h3.8v3.8h-3.8zM197.56 877.15h3.8v3.8h-3.8zM198.58 876.23h3.8v3.8h-3.8zM199.59 875.29h3.8v3.8h-3.8zM200.6 874.34h3.8v3.8h-3.8zM201.61 873.37h3.8v3.8h-3.8zM202.62 872.38h3.8v3.8h-3.8zM203.64 871.36h3.8v3.8h-3.8zM204.65 870.32h3.8v3.8h-3.8zM205.66 869.25h3.8v3.8h-3.8zM206.67 868.15h3.8v3.8h-3.8zM207.69 867.02h3.8v3.8h-3.8zM208.7 865.87h3.8v3.8h-3.8zM209.71 864.68h3.8v3.8h-3.8zM210.72 863.47h3.8v3.8h-3.8zM211.73 862.22h3.8v3.8h-3.8zM212.75 860.91h3.8v3.8h-3.8zM213.76 859.54h3.8v3.8h-3.8zM214.77 858.09h3.8v3.8h-3.8zM215.78 856.55h3.8v3.8h-3.8zM216.8 854.91h3.8v3.8h-3.8zM217.81 853.16h3.8v3.8h-3.8zM218.82 851.28h3.8v3.8h-3.8zM219.83 849.23h3.8v3.8h-3.8zM220.84 846.99h3.8v3.8h-3.8zM221.86 844.54h3.8v3.8h-3.8zM222.87 841.52h3.8v3.8h-3.8zM223.88 838.24h3.8v3.8h-3.8z" fill="#e8141c"/><path d="M223.93 802.84h3.8v3.8h-3.8zM227.83 791.92h3.8v3.8h-3.8zM231.74 781.46h3.8v3.8h-3.8zM235.64 774.96h3.8v3.8h-3.8zM239.55 769.88h3.8v3.8h-3.8zM243.45 766.46h3.8v3.8h-3.8zM247.35 762.98h3.8v3.8h-3.8zM251.26 760.12h3.8v3.8h-3.8zM255.16 757.93h3.8v3.8h-3.8zM259.07 755.86h3.8v3.8h-3.8zM262.97 753.58h3.8v3.8h-3.8zM266.88 751.62h3.8v3.8h-3.8zM270.78 749.91h3.8v3.8h-3.8zM274.68 748.35h3.8v3.8h-3.8zM278.59 746.95h3.8v3.8h-3.8zM282.49 745.68h3.8v3.8h-3.8zM286.4 744.49h3.8v3.8h-3.8zM290.3 743.38h3.8v3.8h-3.8zM294.2 742.32h3.8v3.8h-3.8zM298.11 741.34h3.8v3.8h-3.8zM302.01 740.4h3.8v3.8h-3.8zM305.92 739.53h3.8v3.8h-3.8zM309.82 738.7h3.8v3.8h-3.8zM313.73 737.92h3.8v3.8h-3.8zM317.63 737.18h3.8v3.8h-3.8zM321.53 736.48h3.8v3.8h-3.8zM325.44 735.81h3.8v3.8h-3.8zM329.34 735.17h3.8v3.8h-3.8zM333.25 734.54h3.8v3.8h-3.8zM337.15 733.93h3.8v3.8h-3.8zM341.05 733.34h3.8v3.8h-3.8zM344.96 732.76h3.8v3.8h-3.8zM348.86 732.21h3.8v3.8h-3.8zM352.77 731.68h3.8v3.8h-3.8zM356.67 731.18h3.8v3.8h-3.8zM360.58 730.7h3.8v3.8h-3.8zM364.48 730.25h3.8v3.8h-3.8zM368.38 729.83h3.8v3.8h-3.8zM372.29 729.43h3.8v3.8h-3.8zM376.19 729.05h3.8v3.8h-3.8zM380.1 728.67h3.8v3.8h-3.8zM384 728.31h3.8v3.8h-3.8zM387.91 727.95h3.8v3.8h-3.8zM391.81 727.59h3.8v3.8h-3.8zM395.71 727.22h3.8v3.8h-3.8zM399.62 726.85h3.8v3.8h-3.8z" fill="#e8141c"/><rect x="493.5" y="728.5" width="245" height="178" fill="none" stroke="#333" stroke-width="1" shape-rendering="crispEdges"/><path d="M496 906.5V909.7M496 728.5V731.7M544.2 906.5V909.7M544.2 728.5V731.7M592.4 906.5V909.7M592.4 728.5V731.7M640.6 906.5V909.7M640.6 728.5V731.7M688.8 906.5V909.7M688.8 728.5V731.7M737 906.5V909.7M737 728.5V731.7" stroke="#333" stroke-width="0.9" fill="none"/><text x="496" y="923.5" font-size="14" text-anchor="middle">0.0</text><text x="544.2" y="923.5" font-size="14" text-anchor="middle">0.2</text><text x="592.4" y="923.5" font-size="14" text-anchor="middle">0.4</text><text x="640.6" y="923.5" font-size="14" text-anchor="middle">0.6</text><text x="688.8" y="923.5" font-size="14" text-anchor="middle">0.8</text><text x="737" y="923.5" font-size="14" text-anchor="middle">1.0</text><path d="M520.1 906.5V908.3M520.1 728.5V730.3M568.3 906.5V908.3M568.3 728.5V730.3M616.5 906.5V908.3M616.5 728.5V730.3M664.7 906.5V908.3M664.7 728.5V730.3M712.9 906.5V908.3M712.9 728.5V730.3" stroke="#333" stroke-width="0.8" fill="none"/><path d="M493.5 903.5H490.3M738.5 903.5H735.3M493.5 874.37H490.3M738.5 874.37H735.3M493.5 845.23H490.3M738.5 845.23H735.3M493.5 816.1H490.3M738.5 816.1H735.3M493.5 786.97H490.3M738.5 786.97H735.3M493.5 757.83H490.3M738.5 757.83H735.3M493.5 728.7H490.3M738.5 728.7H735.3" stroke="#333" stroke-width="0.9" fill="none"/><text x="488" y="908.12" font-size="14" text-anchor="end">0</text><text x="488" y="878.99" font-size="14" text-anchor="end">1</text><text x="488" y="849.85" font-size="14" text-anchor="end">2</text><text x="488" y="820.72" font-size="14" text-anchor="end">3</text><text x="488" y="791.59" font-size="14" text-anchor="end">4</text><text x="488" y="762.45" font-size="14" text-anchor="end">5</text><text x="488" y="733.32" font-size="14" text-anchor="end">6</text><path d="M493.5 888.93H491.7M738.5 888.93H736.7M493.5 859.8H491.7M738.5 859.8H736.7M493.5 830.67H491.7M738.5 830.67H736.7M493.5 801.53H491.7M738.5 801.53H736.7M493.5 772.4H491.7M738.5 772.4H736.7M493.5 743.27H491.7M738.5 743.27H736.7" stroke="#333" stroke-width="0.8" fill="none"/><g transform="translate(471,826) rotate(-90) translate(-21.58,0)"><text x="0" y="0" font-size="15">log</text><text x="19.17" y="3.75" font-size="8.7">10</text><text x="28.17" y="0" font-size="15">σ</text><path d="M39.55 -2.1v5.7M36.71 3.6h6" stroke="#aaa" stroke-width="1.05" fill="none"/></g><text x="616" y="938.6" font-size="15" text-anchor="middle" ><tspan font-style="italic">p</tspan></text><path d="M496 901L498.5 903.5L496 906L493.5 903.5ZM497.01 900.61L499.51 903.11L497.01 905.61L494.51 903.11ZM498.02 900.23L500.52 902.73L498.02 905.23L495.52 902.73ZM499.04 899.84L501.54 902.34L499.04 904.84L496.54 902.34ZM500.05 899.46L502.55 901.96L500.05 904.46L497.55 901.96ZM501.06 899.08L503.56 901.58L501.06 904.08L498.56 901.58ZM502.07 898.7L504.57 901.2L502.07 903.7L499.57 901.2ZM503.09 898.32L505.59 900.82L503.09 903.32L500.59 900.82ZM504.1 897.93L506.6 900.43L504.1 902.93L501.6 900.43ZM505.11 897.53L507.61 900.03L505.11 902.53L502.61 900.03ZM506.12 897.13L508.62 899.63L506.12 902.13L503.62 899.63ZM507.13 896.72L509.63 899.22L507.13 901.72L504.63 899.22ZM508.15 896.3L510.65 898.8L508.15 901.3L505.65 898.8ZM509.16 895.88L511.66 898.38L509.16 900.88L506.66 898.38ZM510.17 895.48L512.67 897.98L510.17 900.48L507.67 897.98ZM511.18 895.09L513.68 897.59L511.18 900.09L508.68 897.59ZM512.2 894.69L514.7 897.19L512.2 899.69L509.7 897.19ZM513.21 894.28L515.71 896.78L513.21 899.28L510.71 896.78ZM514.22 893.87L516.72 896.37L514.22 898.87L511.72 896.37ZM515.23 893.43L517.73 895.93L515.23 898.43L512.73 895.93ZM516.24 892.96L518.74 895.46L516.24 897.96L513.74 895.46ZM517.26 892.46L519.76 894.96L517.26 897.46L514.76 894.96ZM518.27 891.91L520.77 894.41L518.27 896.91L515.77 894.41ZM519.28 891.32L521.78 893.82L519.28 896.32L516.78 893.82ZM520.29 890.67L522.79 893.17L520.29 895.67L517.79 893.17ZM521.3 889.93L523.8 892.43L521.3 894.93L518.8 892.43ZM522.32 889.07L524.82 891.57L522.32 894.07L519.82 891.57ZM523.33 888.11L525.83 890.61L523.33 893.11L520.83 890.61ZM524.34 887.06L526.84 889.56L524.34 892.06L521.84 889.56ZM525.35 885.93L527.85 888.43L525.35 890.93L522.85 888.43ZM526.37 884.72L528.87 887.22L526.37 889.72L523.87 887.22ZM527.38 883.45L529.88 885.95L527.38 888.45L524.88 885.95ZM528.39 882.13L530.89 884.63L528.39 887.13L525.89 884.63ZM529.4 880.76L531.9 883.26L529.4 885.76L526.9 883.26ZM530.41 879.36L532.91 881.86L530.41 884.36L527.91 881.86ZM531.43 877.93L533.93 880.43L531.43 882.93L528.93 880.43ZM532.44 876.49L534.94 878.99L532.44 881.49L529.94 878.99ZM533.45 875.04L535.95 877.54L533.45 880.04L530.95 877.54ZM534.46 873.57L536.96 876.07L534.46 878.57L531.96 876.07ZM535.48 871.97L537.98 874.47L535.48 876.97L532.98 874.47ZM536.49 870.27L538.99 872.77L536.49 875.27L533.99 872.77ZM537.5 868.5L540 871L537.5 873.5L535 871ZM538.51 866.68L541.01 869.18L538.51 871.68L536.01 869.18ZM539.52 864.84L542.02 867.34L539.52 869.84L537.02 867.34ZM540.54 863.01L543.04 865.51L540.54 868.01L538.04 865.51ZM541.55 861.21L544.05 863.71L541.55 866.21L539.05 863.71ZM542.56 859.46L545.06 861.96L542.56 864.46L540.06 861.96ZM543.57 857.71L546.07 860.21L543.57 862.71L541.07 860.21ZM544.59 855.95L547.09 858.45L544.59 860.95L542.09 858.45ZM545.6 854.19L548.1 856.69L545.6 859.19L543.1 856.69ZM546.61 852.43L549.11 854.93L546.61 857.43L544.11 854.93ZM547.62 850.66L550.12 853.16L547.62 855.66L545.12 853.16ZM548.63 848.9L551.13 851.4L548.63 853.9L546.13 851.4ZM549.5 847.39L552 849.89L549.5 852.39L547 849.89Z" fill="#fff" stroke="#1e8a1e" stroke-width="0.8"/><path d="M549.02 805.73L551.52 808.23L549.02 810.73L546.52 808.23ZM552.92 799.64L555.42 802.14L552.92 804.64L550.42 802.14ZM556.83 792.76L559.33 795.26L556.83 797.76L554.33 795.26ZM560.73 786.92L563.23 789.42L560.73 791.92L558.23 789.42ZM564.64 783.06L567.14 785.56L564.64 788.06L562.14 785.56ZM568.54 779.62L571.04 782.12L568.54 784.62L566.04 782.12ZM572.45 776.86L574.95 779.36L572.45 781.86L569.95 779.36ZM576.35 774.37L578.85 776.87L576.35 779.37L573.85 776.87ZM580.25 771.71L582.75 774.21L580.25 776.71L577.75 774.21ZM584.16 769.59L586.66 772.09L584.16 774.59L581.66 772.09ZM588.06 767.63L590.56 770.13L588.06 772.63L585.56 770.13ZM591.97 765.75L594.47 768.25L591.97 770.75L589.47 768.25ZM595.87 763.95L598.37 766.45L595.87 768.95L593.37 766.45ZM599.77 762.27L602.27 764.77L599.77 767.27L597.27 764.77ZM603.68 760.74L606.18 763.24L603.68 765.74L601.18 763.24ZM607.58 759.31L610.08 761.81L607.58 764.31L605.08 761.81ZM611.49 757.93L613.99 760.43L611.49 762.93L608.99 760.43ZM615.39 756.59L617.89 759.09L615.39 761.59L612.89 759.09ZM619.3 755.25L621.8 757.75L619.3 760.25L616.8 757.75ZM623.2 753.93L625.7 756.43L623.2 758.93L620.7 756.43ZM627.1 752.64L629.6 755.14L627.1 757.64L624.6 755.14ZM631.01 751.36L633.51 753.86L631.01 756.36L628.51 753.86ZM634.91 750.12L637.41 752.62L634.91 755.12L632.41 752.62ZM638.82 748.92L641.32 751.42L638.82 753.92L636.32 751.42ZM642.72 747.76L645.22 750.26L642.72 752.76L640.22 750.26ZM646.62 746.65L649.12 749.15L646.62 751.65L644.12 749.15ZM650.53 745.58L653.03 748.08L650.53 750.58L648.03 748.08ZM654.43 744.54L656.93 747.04L654.43 749.54L651.93 747.04ZM658.34 743.53L660.84 746.03L658.34 748.53L655.84 746.03ZM662.24 742.54L664.74 745.04L662.24 747.54L659.74 745.04ZM666.15 741.57L668.65 744.07L666.15 746.57L663.65 744.07ZM670.05 740.61L672.55 743.11L670.05 745.61L667.55 743.11ZM673.95 739.66L676.45 742.16L673.95 744.66L671.45 742.16ZM677.86 738.73L680.36 741.23L677.86 743.73L675.36 741.23ZM681.76 737.81L684.26 740.31L681.76 742.81L679.26 740.31ZM685.67 736.91L688.17 739.41L685.67 741.91L683.17 739.41ZM689.57 736.03L692.07 738.53L689.57 741.03L687.07 738.53ZM693.48 735.15L695.98 737.65L693.48 740.15L690.98 737.65ZM697.38 734.3L699.88 736.8L697.38 739.3L694.88 736.8ZM701.28 733.45L703.78 735.95L701.28 738.45L698.78 735.95ZM705.19 732.63L707.69 735.13L705.19 737.63L702.69 735.13ZM709.09 731.82L711.59 734.32L709.09 736.82L706.59 734.32ZM713 731.02L715.5 733.52L713 736.02L710.5 733.52ZM716.9 730.24L719.4 732.74L716.9 735.24L714.4 732.74ZM720.8 729.45L723.3 731.95L720.8 734.45L718.3 731.95ZM724.71 728.67L727.21 731.17L724.71 733.67L722.21 731.17ZM728.61 727.89L731.11 730.39L728.61 732.89L726.11 730.39ZM732.52 727.11L735.02 729.61L732.52 732.11L730.02 729.61ZM736.42 726.32L738.92 728.82L736.42 731.32L733.92 728.82Z" fill="#fff" stroke="#1e8a1e" stroke-width="0.8"/><path d="M496 900.86L498.3 905.23H493.7ZM497.01 900.56L499.31 904.93H494.71ZM498.02 900.27L500.32 904.64H495.72ZM499.04 899.98L501.34 904.35H496.74ZM500.05 899.69L502.35 904.06H497.75ZM501.06 899.4L503.36 903.77H498.76ZM502.07 899.11L504.37 903.48H499.77ZM503.09 898.82L505.39 903.19H500.79ZM504.1 898.53L506.4 902.9H501.8ZM505.11 898.23L507.41 902.6H502.81ZM506.12 897.93L508.42 902.3H503.82ZM507.13 897.63L509.43 902H504.83ZM508.15 897.33L510.45 901.7H505.85ZM509.16 897.03L511.46 901.4H506.86ZM510.17 896.75L512.47 901.12H507.87ZM511.18 896.48L513.48 900.85H508.88ZM512.2 896.2L514.5 900.57H509.9ZM513.21 895.93L515.51 900.3H510.91ZM514.22 895.64L516.52 900.01H511.92ZM515.23 895.35L517.53 899.72H512.93ZM516.24 895.03L518.54 899.4H513.94ZM517.26 894.69L519.56 899.06H514.96ZM518.27 894.33L520.57 898.7H515.97ZM519.28 893.92L521.58 898.29H516.98ZM520.29 893.48L522.59 897.85H517.99ZM521.3 892.97L523.6 897.34H519ZM522.32 892.38L524.62 896.75H520.02ZM523.33 891.72L525.63 896.09H521.03ZM524.34 890.99L526.64 895.36H522.04ZM525.35 890.21L527.65 894.58H523.05ZM526.37 889.38L528.67 893.75H524.07ZM527.38 888.51L529.68 892.88H525.08ZM528.39 887.61L530.69 891.98H526.09ZM529.4 886.68L531.7 891.05H527.1ZM530.41 885.73L532.71 890.1H528.11ZM531.43 884.77L533.73 889.14H529.13ZM532.44 883.81L534.74 888.18H530.14ZM533.45 882.86L535.75 887.23H531.15ZM534.46 881.91L536.76 886.28H532.16ZM535.48 880.95L537.78 885.32H533.18ZM536.49 879.98L538.79 884.35H534.19ZM537.5 878.98L539.8 883.35H535.2ZM538.51 877.96L540.81 882.33H536.21ZM539.52 876.91L541.82 881.28H537.22ZM540.54 875.83L542.84 880.2H538.24ZM541.55 874.72L543.85 879.09H539.25ZM542.56 873.58L544.86 877.95H540.26ZM543.57 872.41L545.87 876.78H541.27ZM544.59 871.19L546.89 875.56H542.29ZM545.6 869.93L547.9 874.3H543.3ZM546.61 868.63L548.91 873H544.31ZM547.62 867.29L549.92 871.66H545.32ZM548.63 865.88L550.93 870.25H546.33ZM549.65 864.39L551.95 868.76H547.35ZM550.66 862.83L552.96 867.2H548.36ZM551.67 861.19L553.97 865.56H549.37ZM552.68 859.46L554.98 863.83H550.38ZM553.7 857.65L556 862.02H551.4ZM554.71 855.75L557.01 860.12H552.41ZM555.72 853.76L558.02 858.13H553.42ZM556.73 851.57L559.03 855.94H554.43ZM557.74 849.15L560.04 853.52H555.44ZM558.76 846.56L561.06 850.93H556.46ZM559.77 843.92L562.07 848.29H557.47ZM560.78 841.3L563.08 845.67H558.48ZM561.31 839.97L563.61 844.34H559.01Z" fill="#fff" stroke="#e020e0" stroke-width="0.8"/><path d="M560.83 804.72L563.13 809.09H558.53ZM564.73 794.7L567.03 799.07H562.43ZM568.64 787.29L570.94 791.66H566.34ZM572.54 782.12L574.84 786.49H570.24ZM576.45 778.24L578.75 782.61H574.15ZM580.35 775.42L582.65 779.79H578.05ZM584.25 772.8L586.55 777.17H581.95ZM588.16 770.09L590.46 774.46H585.86ZM592.06 767.62L594.36 771.99H589.76ZM595.97 765.53L598.27 769.9H593.67ZM599.87 763.66L602.17 768.03H597.57ZM603.78 761.93L606.08 766.3H601.48ZM607.68 760.3L609.98 764.67H605.38ZM611.58 758.77L613.88 763.14H609.28ZM615.49 757.31L617.79 761.68H613.19ZM619.39 755.88L621.69 760.25H617.09ZM623.3 754.48L625.6 758.85H621ZM627.2 753.11L629.5 757.48H624.9ZM631.1 751.77L633.4 756.14H628.8ZM635.01 750.48L637.31 754.85H632.71ZM638.91 749.23L641.21 753.6H636.61ZM642.82 748.03L645.12 752.4H640.52ZM646.72 746.89L649.02 751.26H644.42ZM650.63 745.79L652.93 750.16H648.33ZM654.53 744.73L656.83 749.1H652.23ZM658.43 743.7L660.73 748.07H656.13ZM662.34 742.7L664.64 747.07H660.04ZM666.24 741.72L668.54 746.09H663.94ZM670.15 740.74L672.45 745.11H667.85ZM674.05 739.77L676.35 744.14H671.75ZM677.95 738.82L680.25 743.19H675.65ZM681.86 737.88L684.16 742.25H679.56ZM685.76 736.96L688.06 741.33H683.46ZM689.67 736.05L691.97 740.42H687.37ZM693.57 735.16L695.87 739.53H691.27ZM697.48 734.28L699.78 738.65H695.18ZM701.38 733.42L703.68 737.79H699.08ZM705.28 732.58L707.58 736.95H702.98ZM709.19 731.76L711.49 736.13H706.89ZM713.09 730.94L715.39 735.31H710.79ZM717 730.14L719.3 734.51H714.7ZM720.9 729.35L723.2 733.72H718.6ZM724.81 728.55L727.11 732.92H722.51ZM728.71 727.76L731.01 732.13H726.41ZM732.61 726.96L734.91 731.33H730.31ZM736.52 726.16L738.82 730.53H734.22Z" fill="#fff" stroke="#e020e0" stroke-width="0.8"/><path d="M494.08 902.63a2.4 2.4 0 1 0 4.8 0a2.4 2.4 0 1 0 -4.8 0zM495.09 902.38a2.4 2.4 0 1 0 4.8 0a2.4 2.4 0 1 0 -4.8 0zM496.11 902.14a2.4 2.4 0 1 0 4.8 0a2.4 2.4 0 1 0 -4.8 0zM497.12 901.9a2.4 2.4 0 1 0 4.8 0a2.4 2.4 0 1 0 -4.8 0zM498.13 901.66a2.4 2.4 0 1 0 4.8 0a2.4 2.4 0 1 0 -4.8 0zM499.14 901.42a2.4 2.4 0 1 0 4.8 0a2.4 2.4 0 1 0 -4.8 0zM500.16 901.18a2.4 2.4 0 1 0 4.8 0a2.4 2.4 0 1 0 -4.8 0zM501.17 900.93a2.4 2.4 0 1 0 4.8 0a2.4 2.4 0 1 0 -4.8 0zM502.18 900.69a2.4 2.4 0 1 0 4.8 0a2.4 2.4 0 1 0 -4.8 0zM503.19 900.44a2.4 2.4 0 1 0 4.8 0a2.4 2.4 0 1 0 -4.8 0zM504.2 900.19a2.4 2.4 0 1 0 4.8 0a2.4 2.4 0 1 0 -4.8 0zM505.22 899.94a2.4 2.4 0 1 0 4.8 0a2.4 2.4 0 1 0 -4.8 0zM506.23 899.69a2.4 2.4 0 1 0 4.8 0a2.4 2.4 0 1 0 -4.8 0zM507.24 899.44a2.4 2.4 0 1 0 4.8 0a2.4 2.4 0 1 0 -4.8 0zM508.25 899.2a2.4 2.4 0 1 0 4.8 0a2.4 2.4 0 1 0 -4.8 0zM509.27 898.96a2.4 2.4 0 1 0 4.8 0a2.4 2.4 0 1 0 -4.8 0zM510.28 898.72a2.4 2.4 0 1 0 4.8 0a2.4 2.4 0 1 0 -4.8 0zM511.29 898.49a2.4 2.4 0 1 0 4.8 0a2.4 2.4 0 1 0 -4.8 0zM512.3 898.24a2.4 2.4 0 1 0 4.8 0a2.4 2.4 0 1 0 -4.8 0zM513.31 897.99a2.4 2.4 0 1 0 4.8 0a2.4 2.4 0 1 0 -4.8 0zM514.33 897.72a2.4 2.4 0 1 0 4.8 0a2.4 2.4 0 1 0 -4.8 0zM515.34 897.43a2.4 2.4 0 1 0 4.8 0a2.4 2.4 0 1 0 -4.8 0zM516.35 897.13a2.4 2.4 0 1 0 4.8 0a2.4 2.4 0 1 0 -4.8 0zM517.36 896.8a2.4 2.4 0 1 0 4.8 0a2.4 2.4 0 1 0 -4.8 0zM518.37 896.44a2.4 2.4 0 1 0 4.8 0a2.4 2.4 0 1 0 -4.8 0zM519.39 896.03a2.4 2.4 0 1 0 4.8 0a2.4 2.4 0 1 0 -4.8 0zM520.4 895.58a2.4 2.4 0 1 0 4.8 0a2.4 2.4 0 1 0 -4.8 0zM521.41 895.09a2.4 2.4 0 1 0 4.8 0a2.4 2.4 0 1 0 -4.8 0zM522.42 894.56a2.4 2.4 0 1 0 4.8 0a2.4 2.4 0 1 0 -4.8 0zM523.44 894a2.4 2.4 0 1 0 4.8 0a2.4 2.4 0 1 0 -4.8 0zM524.45 893.4a2.4 2.4 0 1 0 4.8 0a2.4 2.4 0 1 0 -4.8 0zM525.46 892.77a2.4 2.4 0 1 0 4.8 0a2.4 2.4 0 1 0 -4.8 0zM526.47 892.12a2.4 2.4 0 1 0 4.8 0a2.4 2.4 0 1 0 -4.8 0zM527.48 891.45a2.4 2.4 0 1 0 4.8 0a2.4 2.4 0 1 0 -4.8 0zM528.5 890.76a2.4 2.4 0 1 0 4.8 0a2.4 2.4 0 1 0 -4.8 0zM529.51 890.06a2.4 2.4 0 1 0 4.8 0a2.4 2.4 0 1 0 -4.8 0zM530.52 889.34a2.4 2.4 0 1 0 4.8 0a2.4 2.4 0 1 0 -4.8 0zM531.53 888.63a2.4 2.4 0 1 0 4.8 0a2.4 2.4 0 1 0 -4.8 0zM532.55 887.9a2.4 2.4 0 1 0 4.8 0a2.4 2.4 0 1 0 -4.8 0zM533.56 887.16a2.4 2.4 0 1 0 4.8 0a2.4 2.4 0 1 0 -4.8 0zM534.57 886.39a2.4 2.4 0 1 0 4.8 0a2.4 2.4 0 1 0 -4.8 0zM535.58 885.61a2.4 2.4 0 1 0 4.8 0a2.4 2.4 0 1 0 -4.8 0zM536.59 884.8a2.4 2.4 0 1 0 4.8 0a2.4 2.4 0 1 0 -4.8 0zM537.61 883.96a2.4 2.4 0 1 0 4.8 0a2.4 2.4 0 1 0 -4.8 0zM538.62 883.09a2.4 2.4 0 1 0 4.8 0a2.4 2.4 0 1 0 -4.8 0zM539.63 882.19a2.4 2.4 0 1 0 4.8 0a2.4 2.4 0 1 0 -4.8 0zM540.64 881.27a2.4 2.4 0 1 0 4.8 0a2.4 2.4 0 1 0 -4.8 0zM541.66 880.3a2.4 2.4 0 1 0 4.8 0a2.4 2.4 0 1 0 -4.8 0zM542.67 879.3a2.4 2.4 0 1 0 4.8 0a2.4 2.4 0 1 0 -4.8 0zM543.68 878.26a2.4 2.4 0 1 0 4.8 0a2.4 2.4 0 1 0 -4.8 0zM544.69 877.18a2.4 2.4 0 1 0 4.8 0a2.4 2.4 0 1 0 -4.8 0zM545.7 876.06a2.4 2.4 0 1 0 4.8 0a2.4 2.4 0 1 0 -4.8 0zM546.72 874.88a2.4 2.4 0 1 0 4.8 0a2.4 2.4 0 1 0 -4.8 0zM547.73 873.63a2.4 2.4 0 1 0 4.8 0a2.4 2.4 0 1 0 -4.8 0zM548.74 872.32a2.4 2.4 0 1 0 4.8 0a2.4 2.4 0 1 0 -4.8 0zM549.75 870.93a2.4 2.4 0 1 0 4.8 0a2.4 2.4 0 1 0 -4.8 0zM550.77 869.48a2.4 2.4 0 1 0 4.8 0a2.4 2.4 0 1 0 -4.8 0zM551.78 867.96a2.4 2.4 0 1 0 4.8 0a2.4 2.4 0 1 0 -4.8 0zM552.79 866.37a2.4 2.4 0 1 0 4.8 0a2.4 2.4 0 1 0 -4.8 0zM553.8 864.71a2.4 2.4 0 1 0 4.8 0a2.4 2.4 0 1 0 -4.8 0zM554.81 862.98a2.4 2.4 0 1 0 4.8 0a2.4 2.4 0 1 0 -4.8 0zM555.83 861.19a2.4 2.4 0 1 0 4.8 0a2.4 2.4 0 1 0 -4.8 0zM556.84 859.33a2.4 2.4 0 1 0 4.8 0a2.4 2.4 0 1 0 -4.8 0zM557.85 857.38a2.4 2.4 0 1 0 4.8 0a2.4 2.4 0 1 0 -4.8 0zM558.86 855.24a2.4 2.4 0 1 0 4.8 0a2.4 2.4 0 1 0 -4.8 0zM559.88 852.83a2.4 2.4 0 1 0 4.8 0a2.4 2.4 0 1 0 -4.8 0zM560.89 850.04a2.4 2.4 0 1 0 4.8 0a2.4 2.4 0 1 0 -4.8 0zM561.9 846.32a2.4 2.4 0 1 0 4.8 0a2.4 2.4 0 1 0 -4.8 0zM562.91 842.12a2.4 2.4 0 1 0 4.8 0a2.4 2.4 0 1 0 -4.8 0z" fill="#1212d8"/><path d="M563.01 807.65a2.4 2.4 0 1 0 4.8 0a2.4 2.4 0 1 0 -4.8 0zM566.91 798.31a2.4 2.4 0 1 0 4.8 0a2.4 2.4 0 1 0 -4.8 0zM570.82 790.93a2.4 2.4 0 1 0 4.8 0a2.4 2.4 0 1 0 -4.8 0zM574.72 784.7a2.4 2.4 0 1 0 4.8 0a2.4 2.4 0 1 0 -4.8 0zM578.62 780.64a2.4 2.4 0 1 0 4.8 0a2.4 2.4 0 1 0 -4.8 0zM582.53 776.97a2.4 2.4 0 1 0 4.8 0a2.4 2.4 0 1 0 -4.8 0zM586.43 773.7a2.4 2.4 0 1 0 4.8 0a2.4 2.4 0 1 0 -4.8 0zM590.34 770.71a2.4 2.4 0 1 0 4.8 0a2.4 2.4 0 1 0 -4.8 0zM594.24 768.29a2.4 2.4 0 1 0 4.8 0a2.4 2.4 0 1 0 -4.8 0zM598.15 766.35a2.4 2.4 0 1 0 4.8 0a2.4 2.4 0 1 0 -4.8 0zM602.05 764.57a2.4 2.4 0 1 0 4.8 0a2.4 2.4 0 1 0 -4.8 0zM605.95 762.86a2.4 2.4 0 1 0 4.8 0a2.4 2.4 0 1 0 -4.8 0zM609.86 761.24a2.4 2.4 0 1 0 4.8 0a2.4 2.4 0 1 0 -4.8 0zM613.76 759.7a2.4 2.4 0 1 0 4.8 0a2.4 2.4 0 1 0 -4.8 0zM617.67 758.22a2.4 2.4 0 1 0 4.8 0a2.4 2.4 0 1 0 -4.8 0zM621.57 756.78a2.4 2.4 0 1 0 4.8 0a2.4 2.4 0 1 0 -4.8 0zM625.48 755.38a2.4 2.4 0 1 0 4.8 0a2.4 2.4 0 1 0 -4.8 0zM629.38 754.03a2.4 2.4 0 1 0 4.8 0a2.4 2.4 0 1 0 -4.8 0zM633.28 752.72a2.4 2.4 0 1 0 4.8 0a2.4 2.4 0 1 0 -4.8 0zM637.19 751.46a2.4 2.4 0 1 0 4.8 0a2.4 2.4 0 1 0 -4.8 0zM641.09 750.26a2.4 2.4 0 1 0 4.8 0a2.4 2.4 0 1 0 -4.8 0zM645 749.1a2.4 2.4 0 1 0 4.8 0a2.4 2.4 0 1 0 -4.8 0zM648.9 748a2.4 2.4 0 1 0 4.8 0a2.4 2.4 0 1 0 -4.8 0zM652.8 746.94a2.4 2.4 0 1 0 4.8 0a2.4 2.4 0 1 0 -4.8 0zM656.71 745.92a2.4 2.4 0 1 0 4.8 0a2.4 2.4 0 1 0 -4.8 0zM660.61 744.92a2.4 2.4 0 1 0 4.8 0a2.4 2.4 0 1 0 -4.8 0zM664.52 743.93a2.4 2.4 0 1 0 4.8 0a2.4 2.4 0 1 0 -4.8 0zM668.42 742.96a2.4 2.4 0 1 0 4.8 0a2.4 2.4 0 1 0 -4.8 0zM672.33 741.99a2.4 2.4 0 1 0 4.8 0a2.4 2.4 0 1 0 -4.8 0zM676.23 741.04a2.4 2.4 0 1 0 4.8 0a2.4 2.4 0 1 0 -4.8 0zM680.13 740.1a2.4 2.4 0 1 0 4.8 0a2.4 2.4 0 1 0 -4.8 0zM684.04 739.18a2.4 2.4 0 1 0 4.8 0a2.4 2.4 0 1 0 -4.8 0zM687.94 738.28a2.4 2.4 0 1 0 4.8 0a2.4 2.4 0 1 0 -4.8 0zM691.85 737.38a2.4 2.4 0 1 0 4.8 0a2.4 2.4 0 1 0 -4.8 0zM695.75 736.5a2.4 2.4 0 1 0 4.8 0a2.4 2.4 0 1 0 -4.8 0zM699.65 735.63a2.4 2.4 0 1 0 4.8 0a2.4 2.4 0 1 0 -4.8 0zM703.56 734.78a2.4 2.4 0 1 0 4.8 0a2.4 2.4 0 1 0 -4.8 0zM707.46 733.94a2.4 2.4 0 1 0 4.8 0a2.4 2.4 0 1 0 -4.8 0zM711.37 733.12a2.4 2.4 0 1 0 4.8 0a2.4 2.4 0 1 0 -4.8 0zM715.27 732.3a2.4 2.4 0 1 0 4.8 0a2.4 2.4 0 1 0 -4.8 0zM719.18 731.49a2.4 2.4 0 1 0 4.8 0a2.4 2.4 0 1 0 -4.8 0zM723.08 730.68a2.4 2.4 0 1 0 4.8 0a2.4 2.4 0 1 0 -4.8 0zM726.98 729.86a2.4 2.4 0 1 0 4.8 0a2.4 2.4 0 1 0 -4.8 0zM730.89 729.05a2.4 2.4 0 1 0 4.8 0a2.4 2.4 0 1 0 -4.8 0zM734.79 728.23a2.4 2.4 0 1 0 4.8 0a2.4 2.4 0 1 0 -4.8 0z" fill="#1212d8"/><path d="M494.1 901.6h3.8v3.8h-3.8zM495.11 901.36h3.8v3.8h-3.8zM496.12 901.11h3.8v3.8h-3.8zM497.14 900.87h3.8v3.8h-3.8zM498.15 900.63h3.8v3.8h-3.8zM499.16 900.39h3.8v3.8h-3.8zM500.17 900.15h3.8v3.8h-3.8zM501.19 899.91h3.8v3.8h-3.8zM502.2 899.66h3.8v3.8h-3.8zM503.21 899.42h3.8v3.8h-3.8zM504.22 899.17h3.8v3.8h-3.8zM505.23 898.92h3.8v3.8h-3.8zM506.25 898.66h3.8v3.8h-3.8zM507.26 898.41h3.8v3.8h-3.8zM508.27 898.17h3.8v3.8h-3.8zM509.28 897.93h3.8v3.8h-3.8zM510.3 897.7h3.8v3.8h-3.8zM511.31 897.46h3.8v3.8h-3.8zM512.32 897.22h3.8v3.8h-3.8zM513.33 896.96h3.8v3.8h-3.8zM514.34 896.69h3.8v3.8h-3.8zM515.36 896.41h3.8v3.8h-3.8zM516.37 896.1h3.8v3.8h-3.8zM517.38 895.77h3.8v3.8h-3.8zM518.39 895.41h3.8v3.8h-3.8zM519.4 895.01h3.8v3.8h-3.8zM520.42 894.56h3.8v3.8h-3.8zM521.43 894.07h3.8v3.8h-3.8zM522.44 893.54h3.8v3.8h-3.8zM523.45 892.97h3.8v3.8h-3.8zM524.47 892.37h3.8v3.8h-3.8zM525.48 891.74h3.8v3.8h-3.8zM526.49 891.09h3.8v3.8h-3.8zM527.5 890.42h3.8v3.8h-3.8zM528.51 889.73h3.8v3.8h-3.8zM529.53 889.03h3.8v3.8h-3.8zM530.54 888.32h3.8v3.8h-3.8zM531.55 887.6h3.8v3.8h-3.8zM532.56 886.87h3.8v3.8h-3.8zM533.58 886.13h3.8v3.8h-3.8zM534.59 885.37h3.8v3.8h-3.8zM535.6 884.58h3.8v3.8h-3.8zM536.61 883.77h3.8v3.8h-3.8zM537.62 882.93h3.8v3.8h-3.8zM538.64 882.07h3.8v3.8h-3.8zM539.65 881.17h3.8v3.8h-3.8zM540.66 880.24h3.8v3.8h-3.8zM541.67 879.27h3.8v3.8h-3.8zM542.69 878.27h3.8v3.8h-3.8zM543.7 877.24h3.8v3.8h-3.8zM544.71 876.16h3.8v3.8h-3.8zM545.72 875.03h3.8v3.8h-3.8zM546.73 873.86h3.8v3.8h-3.8zM547.75 872.61h3.8v3.8h-3.8zM548.76 871.29h3.8v3.8h-3.8zM549.77 869.91h3.8v3.8h-3.8zM550.78 868.45h3.8v3.8h-3.8zM551.8 866.93h3.8v3.8h-3.8zM552.81 865.34h3.8v3.8h-3.8zM553.82 863.68h3.8v3.8h-3.8zM554.83 861.96h3.8v3.8h-3.8zM555.84 860.16h3.8v3.8h-3.8zM556.86 858.3h3.8v3.8h-3.8zM557.87 856.35h3.8v3.8h-3.8zM558.88 854.22h3.8v3.8h-3.8zM559.89 851.81h3.8v3.8h-3.8zM560.91 849.02h3.8v3.8h-3.8zM561.92 845.29h3.8v3.8h-3.8zM562.93 841.09h3.8v3.8h-3.8z" fill="#e8141c"/><path d="M562.78 806.33h3.8v3.8h-3.8zM566.69 796.99h3.8v3.8h-3.8zM570.59 789.62h3.8v3.8h-3.8zM574.5 783.38h3.8v3.8h-3.8zM578.4 779.32h3.8v3.8h-3.8zM582.31 775.66h3.8v3.8h-3.8zM586.21 772.38h3.8v3.8h-3.8zM590.11 769.39h3.8v3.8h-3.8zM594.02 766.97h3.8v3.8h-3.8zM597.92 765.03h3.8v3.8h-3.8zM601.83 763.25h3.8v3.8h-3.8zM605.73 761.54h3.8v3.8h-3.8zM609.64 759.92h3.8v3.8h-3.8zM613.54 758.38h3.8v3.8h-3.8zM617.44 756.9h3.8v3.8h-3.8zM621.35 755.46h3.8v3.8h-3.8zM625.25 754.07h3.8v3.8h-3.8zM629.16 752.71h3.8v3.8h-3.8zM633.06 751.41h3.8v3.8h-3.8zM636.96 750.15h3.8v3.8h-3.8zM640.87 748.94h3.8v3.8h-3.8zM644.77 747.79h3.8v3.8h-3.8zM648.68 746.69h3.8v3.8h-3.8zM652.58 745.63h3.8v3.8h-3.8zM656.49 744.6h3.8v3.8h-3.8zM660.39 743.6h3.8v3.8h-3.8zM664.29 742.62h3.8v3.8h-3.8zM668.2 741.64h3.8v3.8h-3.8zM672.1 740.67h3.8v3.8h-3.8zM676.01 739.72h3.8v3.8h-3.8zM679.91 738.79h3.8v3.8h-3.8zM683.82 737.87h3.8v3.8h-3.8zM687.72 736.96h3.8v3.8h-3.8zM691.62 736.07h3.8v3.8h-3.8zM695.53 735.18h3.8v3.8h-3.8zM699.43 734.32h3.8v3.8h-3.8zM703.34 733.46h3.8v3.8h-3.8zM707.24 732.63h3.8v3.8h-3.8zM711.14 731.8h3.8v3.8h-3.8zM715.05 730.98h3.8v3.8h-3.8zM718.95 730.17h3.8v3.8h-3.8zM722.86 729.36h3.8v3.8h-3.8zM726.76 728.55h3.8v3.8h-3.8zM730.67 727.73h3.8v3.8h-3.8zM734.57 726.91h3.8v3.8h-3.8z" fill="#e8141c"/></svg>
<div class="l b" style="left:1797.50px;top:944.60px;">(<i>a</i>)</div>
<div class="l b" style="left:2135.00px;top:944.60px;">(<i>b</i>)</div>
<div class="l b j" style="left:1797.50px;top:977.10px;width:646.00px;letter-spacing:0.410px;word-spacing:-0.40px;"><b>Figure 2.</b>&ensp; Examples of the dependencies of the logarithm of the averaged effective electrical</div>
<div class="l b j" style="left:1797.50px;top:995.63px;width:646.00px;letter-spacing:0.410px;word-spacing:-0.40px;">conductivity, <i>σ</i>, on the concentration, <i>p</i>, at <svg class="g " style="width:0.660em;height:0.660em;vertical-align:-0.020em" viewBox="0 0 66 66"><rect x="1" y="1" width="64" height="64" fill="#000"/></svg> SD = 0, <svg class="g " style="width:0.660em;height:0.660em;vertical-align:0.050em" viewBox="0 0 66 66"><circle cx="33" cy="33" r="31" fill="#000"/></svg>&nbsp; SD = 0.1, <svg class="g " style="width:0.620em;height:0.550em;vertical-align:0.000em" viewBox="0 0 62 55"><path d="M31 6L57 50H5Z" fill="none" stroke="#000" stroke-width="5"/></svg> SD = 0.5, <svg class="g " style="width:0.500em;height:0.800em;vertical-align:-0.080em" viewBox="0 0 50 80"><path d="M25 4L46 40L25 76L4 40Z" fill="none" stroke="#000" stroke-width="5"/></svg> SD = 1.0</div>
<div class="l b j" style="left:1797.50px;top:1014.16px;width:646.00px;letter-spacing:0.410px;word-spacing:-0.40px;">and <i>s</i> = 0.5, <i>m</i> = 512, <i>L</i> = 32 (<i>a</i>) along the direction of alignment of the rods, (<i>b</i>) in the</div>
<div class="l b j" style="left:1797.50px;top:1032.69px;width:161.50px;letter-spacing:0.410px;word-spacing:-0.40px;">perpendicular direction.</div>
<div class="l b j" style="left:1817.50px;top:1072.10px;width:626.00px;letter-spacing:0.410px;word-spacing:-0.40px;">For an anisotropic system, the concentrations at which the transition occurs in perpendicular</div>
<div class="l b j" style="left:1797.50px;top:1090.60px;width:646.00px;letter-spacing:0.410px;word-spacing:-0.40px;">directions must be different, and ﬁgure 3 demonstrates this fact. Examples of the dependencies</div>
<div class="l b j" style="left:2645.50px;top:175.60px;width:646.00px;letter-spacing:0.410px;word-spacing:-0.40px;">of the averaged effective electrical conductivity, <i>σ</i>, on the concentration, <i>p</i>, along the direction of</div>
<div class="l b j" style="left:2645.50px;top:194.13px;width:646.00px;letter-spacing:0.410px;word-spacing:-0.40px;">alignment of the rods and in the perpendicular direction are presented in this ﬁgure at SD = 0.1,</div>
<div class="l b j" style="left:2645.50px;top:212.66px;width:646.00px;letter-spacing:0.410px;word-spacing:-0.40px;"><i>s</i> = 1, <i>m</i> = 1024. The transition will occur at lower concentrations along the alignment direction</div>
<div class="l b j" style="left:2645.50px;top:231.19px;width:646.00px;letter-spacing:0.410px;word-spacing:-0.40px;">of the rods, since the appearance of long rods will affect the connectivity of the system primarily</div>
<div class="l b j" style="left:2645.50px;top:249.72px;width:203.50px;letter-spacing:0.410px;word-spacing:-0.40px;">along the alignment direction.</div>
<svg style="position:absolute;left:2544px;top:0;width:848px;height:1200px;overflow:visible" viewBox="0 0 848 1200"><rect x="138.5" y="283.5" width="245" height="179" fill="none" stroke="#333" stroke-width="1" shape-rendering="crispEdges"/><path d="M140.8 462.5V465.7M140.8 283.5V286.7M188.88 462.5V465.7M188.88 283.5V286.7M236.96 462.5V465.7M236.96 283.5V286.7M285.04 462.5V465.7M285.04 283.5V286.7M333.12 462.5V465.7M333.12 283.5V286.7M381.2 462.5V465.7M381.2 283.5V286.7" stroke="#333" stroke-width="0.9" fill="none"/><text x="140.8" y="479.5" font-size="14" text-anchor="middle">0.0</text><text x="188.88" y="479.5" font-size="14" text-anchor="middle">0.2</text><text x="236.96" y="479.5" font-size="14" text-anchor="middle">0.4</text><text x="285.04" y="479.5" font-size="14" text-anchor="middle">0.6</text><text x="333.12" y="479.5" font-size="14" text-anchor="middle">0.8</text><text x="381.2" y="479.5" font-size="14" text-anchor="middle">1.0</text><path d="M164.84 462.5V464.3M164.84 283.5V285.3M212.92 462.5V464.3M212.92 283.5V285.3M261 462.5V464.3M261 283.5V285.3M309.08 462.5V464.3M309.08 283.5V285.3M357.16 462.5V464.3M357.16 283.5V285.3" stroke="#333" stroke-width="0.8" fill="none"/><path d="M138.5 459.9H135.3M383.5 459.9H380.3M138.5 430.9H135.3M383.5 430.9H380.3M138.5 401.9H135.3M383.5 401.9H380.3M138.5 372.9H135.3M383.5 372.9H380.3M138.5 343.9H135.3M383.5 343.9H380.3M138.5 314.9H135.3M383.5 314.9H380.3M138.5 285.9H135.3M383.5 285.9H380.3" stroke="#333" stroke-width="0.9" fill="none"/><text x="133" y="464.52" font-size="14" text-anchor="end">0</text><text x="133" y="435.52" font-size="14" text-anchor="end">1</text><text x="133" y="406.52" font-size="14" text-anchor="end">2</text><text x="133" y="377.52" font-size="14" text-anchor="end">3</text><text x="133" y="348.52" font-size="14" text-anchor="end">4</text><text x="133" y="319.52" font-size="14" text-anchor="end">5</text><text x="133" y="290.52" font-size="14" text-anchor="end">6</text><path d="M138.5 445.4H136.7M383.5 445.4H381.7M138.5 416.4H136.7M383.5 416.4H381.7M138.5 387.4H136.7M383.5 387.4H381.7M138.5 358.4H136.7M383.5 358.4H381.7M138.5 329.4H136.7M383.5 329.4H381.7M138.5 300.4H136.7M383.5 300.4H381.7" stroke="#333" stroke-width="0.8" fill="none"/><g transform="translate(116.5,385) rotate(-90) translate(-18.13,0)"><text x="0" y="0" font-size="15">log</text><text x="19.17" y="3.75" font-size="8.7">10</text><text x="28.17" y="0" font-size="15">σ</text></g><text x="260.5" y="496" font-size="15" text-anchor="middle" ><tspan font-style="italic">p</tspan></text><path d="M138.4 459.9a2.4 2.4 0 1 0 4.8 0a2.4 2.4 0 1 0 -4.8 0zM139.89 459.81a2.4 2.4 0 1 0 4.8 0a2.4 2.4 0 1 0 -4.8 0zM141.38 459.72a2.4 2.4 0 1 0 4.8 0a2.4 2.4 0 1 0 -4.8 0zM142.87 459.63a2.4 2.4 0 1 0 4.8 0a2.4 2.4 0 1 0 -4.8 0zM144.36 459.55a2.4 2.4 0 1 0 4.8 0a2.4 2.4 0 1 0 -4.8 0zM145.85 459.46a2.4 2.4 0 1 0 4.8 0a2.4 2.4 0 1 0 -4.8 0zM147.34 459.37a2.4 2.4 0 1 0 4.8 0a2.4 2.4 0 1 0 -4.8 0zM148.83 459.28a2.4 2.4 0 1 0 4.8 0a2.4 2.4 0 1 0 -4.8 0zM150.32 459.19a2.4 2.4 0 1 0 4.8 0a2.4 2.4 0 1 0 -4.8 0zM151.81 459.11a2.4 2.4 0 1 0 4.8 0a2.4 2.4 0 1 0 -4.8 0zM153.3 459.02a2.4 2.4 0 1 0 4.8 0a2.4 2.4 0 1 0 -4.8 0zM154.8 458.93a2.4 2.4 0 1 0 4.8 0a2.4 2.4 0 1 0 -4.8 0zM156.29 458.84a2.4 2.4 0 1 0 4.8 0a2.4 2.4 0 1 0 -4.8 0zM157.78 458.75a2.4 2.4 0 1 0 4.8 0a2.4 2.4 0 1 0 -4.8 0zM159.27 458.65a2.4 2.4 0 1 0 4.8 0a2.4 2.4 0 1 0 -4.8 0zM160.76 458.56a2.4 2.4 0 1 0 4.8 0a2.4 2.4 0 1 0 -4.8 0zM162.25 458.46a2.4 2.4 0 1 0 4.8 0a2.4 2.4 0 1 0 -4.8 0zM163.74 458.37a2.4 2.4 0 1 0 4.8 0a2.4 2.4 0 1 0 -4.8 0zM165.23 458.27a2.4 2.4 0 1 0 4.8 0a2.4 2.4 0 1 0 -4.8 0zM166.72 458.18a2.4 2.4 0 1 0 4.8 0a2.4 2.4 0 1 0 -4.8 0zM168.21 458.09a2.4 2.4 0 1 0 4.8 0a2.4 2.4 0 1 0 -4.8 0zM169.7 458a2.4 2.4 0 1 0 4.8 0a2.4 2.4 0 1 0 -4.8 0zM171.19 457.91a2.4 2.4 0 1 0 4.8 0a2.4 2.4 0 1 0 -4.8 0zM172.68 457.82a2.4 2.4 0 1 0 4.8 0a2.4 2.4 0 1 0 -4.8 0zM174.17 457.72a2.4 2.4 0 1 0 4.8 0a2.4 2.4 0 1 0 -4.8 0zM175.66 457.62a2.4 2.4 0 1 0 4.8 0a2.4 2.4 0 1 0 -4.8 0zM177.15 457.52a2.4 2.4 0 1 0 4.8 0a2.4 2.4 0 1 0 -4.8 0zM178.64 457.42a2.4 2.4 0 1 0 4.8 0a2.4 2.4 0 1 0 -4.8 0zM180.13 457.31a2.4 2.4 0 1 0 4.8 0a2.4 2.4 0 1 0 -4.8 0zM181.62 457.2a2.4 2.4 0 1 0 4.8 0a2.4 2.4 0 1 0 -4.8 0zM183.11 457.08a2.4 2.4 0 1 0 4.8 0a2.4 2.4 0 1 0 -4.8 0zM184.6 456.95a2.4 2.4 0 1 0 4.8 0a2.4 2.4 0 1 0 -4.8 0zM186.1 456.81a2.4 2.4 0 1 0 4.8 0a2.4 2.4 0 1 0 -4.8 0zM187.59 456.67a2.4 2.4 0 1 0 4.8 0a2.4 2.4 0 1 0 -4.8 0zM189.08 456.52a2.4 2.4 0 1 0 4.8 0a2.4 2.4 0 1 0 -4.8 0zM190.57 456.35a2.4 2.4 0 1 0 4.8 0a2.4 2.4 0 1 0 -4.8 0zM192.06 456.17a2.4 2.4 0 1 0 4.8 0a2.4 2.4 0 1 0 -4.8 0zM193.55 455.97a2.4 2.4 0 1 0 4.8 0a2.4 2.4 0 1 0 -4.8 0zM195.04 455.77a2.4 2.4 0 1 0 4.8 0a2.4 2.4 0 1 0 -4.8 0zM196.53 455.55a2.4 2.4 0 1 0 4.8 0a2.4 2.4 0 1 0 -4.8 0zM198.02 455.33a2.4 2.4 0 1 0 4.8 0a2.4 2.4 0 1 0 -4.8 0zM199.51 455.09a2.4 2.4 0 1 0 4.8 0a2.4 2.4 0 1 0 -4.8 0zM201 454.85a2.4 2.4 0 1 0 4.8 0a2.4 2.4 0 1 0 -4.8 0zM202.49 454.6a2.4 2.4 0 1 0 4.8 0a2.4 2.4 0 1 0 -4.8 0zM203.98 454.34a2.4 2.4 0 1 0 4.8 0a2.4 2.4 0 1 0 -4.8 0zM205.47 454.08a2.4 2.4 0 1 0 4.8 0a2.4 2.4 0 1 0 -4.8 0zM206.96 453.81a2.4 2.4 0 1 0 4.8 0a2.4 2.4 0 1 0 -4.8 0zM208.45 453.53a2.4 2.4 0 1 0 4.8 0a2.4 2.4 0 1 0 -4.8 0zM209.94 453.25a2.4 2.4 0 1 0 4.8 0a2.4 2.4 0 1 0 -4.8 0zM211.43 452.97a2.4 2.4 0 1 0 4.8 0a2.4 2.4 0 1 0 -4.8 0zM212.92 452.69a2.4 2.4 0 1 0 4.8 0a2.4 2.4 0 1 0 -4.8 0zM214.41 452.4a2.4 2.4 0 1 0 4.8 0a2.4 2.4 0 1 0 -4.8 0zM215.9 452.11a2.4 2.4 0 1 0 4.8 0a2.4 2.4 0 1 0 -4.8 0zM217.4 451.81a2.4 2.4 0 1 0 4.8 0a2.4 2.4 0 1 0 -4.8 0zM218.89 451.5a2.4 2.4 0 1 0 4.8 0a2.4 2.4 0 1 0 -4.8 0zM220.38 451.18a2.4 2.4 0 1 0 4.8 0a2.4 2.4 0 1 0 -4.8 0zM221.87 450.85a2.4 2.4 0 1 0 4.8 0a2.4 2.4 0 1 0 -4.8 0zM223.36 450.51a2.4 2.4 0 1 0 4.8 0a2.4 2.4 0 1 0 -4.8 0zM224.85 450.16a2.4 2.4 0 1 0 4.8 0a2.4 2.4 0 1 0 -4.8 0zM226.34 449.79a2.4 2.4 0 1 0 4.8 0a2.4 2.4 0 1 0 -4.8 0zM227.83 449.41a2.4 2.4 0 1 0 4.8 0a2.4 2.4 0 1 0 -4.8 0zM229.32 449.02a2.4 2.4 0 1 0 4.8 0a2.4 2.4 0 1 0 -4.8 0zM230.81 448.61a2.4 2.4 0 1 0 4.8 0a2.4 2.4 0 1 0 -4.8 0zM232.3 448.18a2.4 2.4 0 1 0 4.8 0a2.4 2.4 0 1 0 -4.8 0zM233.79 447.73a2.4 2.4 0 1 0 4.8 0a2.4 2.4 0 1 0 -4.8 0zM235.28 447.26a2.4 2.4 0 1 0 4.8 0a2.4 2.4 0 1 0 -4.8 0zM236.77 446.76a2.4 2.4 0 1 0 4.8 0a2.4 2.4 0 1 0 -4.8 0zM238.26 446.23a2.4 2.4 0 1 0 4.8 0a2.4 2.4 0 1 0 -4.8 0zM239.75 445.66a2.4 2.4 0 1 0 4.8 0a2.4 2.4 0 1 0 -4.8 0zM241.24 445.07a2.4 2.4 0 1 0 4.8 0a2.4 2.4 0 1 0 -4.8 0zM242.73 444.44a2.4 2.4 0 1 0 4.8 0a2.4 2.4 0 1 0 -4.8 0zM244.22 443.78a2.4 2.4 0 1 0 4.8 0a2.4 2.4 0 1 0 -4.8 0zM245.71 443.09a2.4 2.4 0 1 0 4.8 0a2.4 2.4 0 1 0 -4.8 0zM247.21 442.38a2.4 2.4 0 1 0 4.8 0a2.4 2.4 0 1 0 -4.8 0zM248.7 441.62a2.4 2.4 0 1 0 4.8 0a2.4 2.4 0 1 0 -4.8 0zM250.19 440.81a2.4 2.4 0 1 0 4.8 0a2.4 2.4 0 1 0 -4.8 0zM251.68 439.94a2.4 2.4 0 1 0 4.8 0a2.4 2.4 0 1 0 -4.8 0zM253.17 438.99a2.4 2.4 0 1 0 4.8 0a2.4 2.4 0 1 0 -4.8 0zM254.66 437.96a2.4 2.4 0 1 0 4.8 0a2.4 2.4 0 1 0 -4.8 0zM256.15 436.84a2.4 2.4 0 1 0 4.8 0a2.4 2.4 0 1 0 -4.8 0zM257.64 435.53a2.4 2.4 0 1 0 4.8 0a2.4 2.4 0 1 0 -4.8 0zM259.13 434.04a2.4 2.4 0 1 0 4.8 0a2.4 2.4 0 1 0 -4.8 0zM260.62 432.45a2.4 2.4 0 1 0 4.8 0a2.4 2.4 0 1 0 -4.8 0zM262.11 430.84a2.4 2.4 0 1 0 4.8 0a2.4 2.4 0 1 0 -4.8 0z" fill="#1212d8"/><path d="M265.57 426.55a2.4 2.4 0 1 0 4.8 0a2.4 2.4 0 1 0 -4.8 0zM268.58 419.81a2.4 2.4 0 1 0 4.8 0a2.4 2.4 0 1 0 -4.8 0zM271.58 413.47a2.4 2.4 0 1 0 4.8 0a2.4 2.4 0 1 0 -4.8 0zM274.59 408.02a2.4 2.4 0 1 0 4.8 0a2.4 2.4 0 1 0 -4.8 0zM277.59 401.31a2.4 2.4 0 1 0 4.8 0a2.4 2.4 0 1 0 -4.8 0zM280.6 394.89a2.4 2.4 0 1 0 4.8 0a2.4 2.4 0 1 0 -4.8 0zM283.6 387.77a2.4 2.4 0 1 0 4.8 0a2.4 2.4 0 1 0 -4.8 0z" fill="#1212d8"/><path d="M284.08 377.54a2.4 2.4 0 1 0 4.8 0a2.4 2.4 0 1 0 -4.8 0zM285.57 375.17a2.4 2.4 0 1 0 4.8 0a2.4 2.4 0 1 0 -4.8 0zM287.06 372.94a2.4 2.4 0 1 0 4.8 0a2.4 2.4 0 1 0 -4.8 0zM288.55 370.9a2.4 2.4 0 1 0 4.8 0a2.4 2.4 0 1 0 -4.8 0zM290.04 368.91a2.4 2.4 0 1 0 4.8 0a2.4 2.4 0 1 0 -4.8 0zM291.53 366.85a2.4 2.4 0 1 0 4.8 0a2.4 2.4 0 1 0 -4.8 0zM293.03 364.81a2.4 2.4 0 1 0 4.8 0a2.4 2.4 0 1 0 -4.8 0zM294.52 362.92a2.4 2.4 0 1 0 4.8 0a2.4 2.4 0 1 0 -4.8 0zM296.01 361.19a2.4 2.4 0 1 0 4.8 0a2.4 2.4 0 1 0 -4.8 0zM297.5 359.55a2.4 2.4 0 1 0 4.8 0a2.4 2.4 0 1 0 -4.8 0zM298.99 357.98a2.4 2.4 0 1 0 4.8 0a2.4 2.4 0 1 0 -4.8 0zM300.48 356.46a2.4 2.4 0 1 0 4.8 0a2.4 2.4 0 1 0 -4.8 0zM301.97 354.99a2.4 2.4 0 1 0 4.8 0a2.4 2.4 0 1 0 -4.8 0zM303.46 353.56a2.4 2.4 0 1 0 4.8 0a2.4 2.4 0 1 0 -4.8 0zM304.95 352.16a2.4 2.4 0 1 0 4.8 0a2.4 2.4 0 1 0 -4.8 0zM306.44 350.78a2.4 2.4 0 1 0 4.8 0a2.4 2.4 0 1 0 -4.8 0zM307.93 349.42a2.4 2.4 0 1 0 4.8 0a2.4 2.4 0 1 0 -4.8 0zM309.42 348.05a2.4 2.4 0 1 0 4.8 0a2.4 2.4 0 1 0 -4.8 0zM310.91 346.67a2.4 2.4 0 1 0 4.8 0a2.4 2.4 0 1 0 -4.8 0zM312.4 345.27a2.4 2.4 0 1 0 4.8 0a2.4 2.4 0 1 0 -4.8 0zM313.89 343.88a2.4 2.4 0 1 0 4.8 0a2.4 2.4 0 1 0 -4.8 0zM315.38 342.5a2.4 2.4 0 1 0 4.8 0a2.4 2.4 0 1 0 -4.8 0zM316.87 341.11a2.4 2.4 0 1 0 4.8 0a2.4 2.4 0 1 0 -4.8 0zM318.36 339.73a2.4 2.4 0 1 0 4.8 0a2.4 2.4 0 1 0 -4.8 0zM319.85 338.35a2.4 2.4 0 1 0 4.8 0a2.4 2.4 0 1 0 -4.8 0zM321.34 336.98a2.4 2.4 0 1 0 4.8 0a2.4 2.4 0 1 0 -4.8 0zM322.83 335.61a2.4 2.4 0 1 0 4.8 0a2.4 2.4 0 1 0 -4.8 0zM324.33 334.25a2.4 2.4 0 1 0 4.8 0a2.4 2.4 0 1 0 -4.8 0zM325.82 332.89a2.4 2.4 0 1 0 4.8 0a2.4 2.4 0 1 0 -4.8 0zM327.31 331.55a2.4 2.4 0 1 0 4.8 0a2.4 2.4 0 1 0 -4.8 0zM328.8 330.21a2.4 2.4 0 1 0 4.8 0a2.4 2.4 0 1 0 -4.8 0zM330.29 328.88a2.4 2.4 0 1 0 4.8 0a2.4 2.4 0 1 0 -4.8 0zM331.78 327.56a2.4 2.4 0 1 0 4.8 0a2.4 2.4 0 1 0 -4.8 0zM333.27 326.24a2.4 2.4 0 1 0 4.8 0a2.4 2.4 0 1 0 -4.8 0zM334.76 324.93a2.4 2.4 0 1 0 4.8 0a2.4 2.4 0 1 0 -4.8 0zM336.25 323.63a2.4 2.4 0 1 0 4.8 0a2.4 2.4 0 1 0 -4.8 0zM337.74 322.33a2.4 2.4 0 1 0 4.8 0a2.4 2.4 0 1 0 -4.8 0zM339.23 321.03a2.4 2.4 0 1 0 4.8 0a2.4 2.4 0 1 0 -4.8 0zM340.72 319.73a2.4 2.4 0 1 0 4.8 0a2.4 2.4 0 1 0 -4.8 0zM342.21 318.43a2.4 2.4 0 1 0 4.8 0a2.4 2.4 0 1 0 -4.8 0zM343.7 317.14a2.4 2.4 0 1 0 4.8 0a2.4 2.4 0 1 0 -4.8 0zM345.19 315.84a2.4 2.4 0 1 0 4.8 0a2.4 2.4 0 1 0 -4.8 0zM346.68 314.54a2.4 2.4 0 1 0 4.8 0a2.4 2.4 0 1 0 -4.8 0zM348.17 313.23a2.4 2.4 0 1 0 4.8 0a2.4 2.4 0 1 0 -4.8 0zM349.66 311.92a2.4 2.4 0 1 0 4.8 0a2.4 2.4 0 1 0 -4.8 0zM351.15 310.61a2.4 2.4 0 1 0 4.8 0a2.4 2.4 0 1 0 -4.8 0zM352.64 309.29a2.4 2.4 0 1 0 4.8 0a2.4 2.4 0 1 0 -4.8 0zM354.13 307.96a2.4 2.4 0 1 0 4.8 0a2.4 2.4 0 1 0 -4.8 0zM355.63 306.64a2.4 2.4 0 1 0 4.8 0a2.4 2.4 0 1 0 -4.8 0zM357.12 305.31a2.4 2.4 0 1 0 4.8 0a2.4 2.4 0 1 0 -4.8 0zM358.61 303.98a2.4 2.4 0 1 0 4.8 0a2.4 2.4 0 1 0 -4.8 0zM360.1 302.65a2.4 2.4 0 1 0 4.8 0a2.4 2.4 0 1 0 -4.8 0zM361.59 301.32a2.4 2.4 0 1 0 4.8 0a2.4 2.4 0 1 0 -4.8 0zM363.08 299.99a2.4 2.4 0 1 0 4.8 0a2.4 2.4 0 1 0 -4.8 0zM364.57 298.65a2.4 2.4 0 1 0 4.8 0a2.4 2.4 0 1 0 -4.8 0zM366.06 297.32a2.4 2.4 0 1 0 4.8 0a2.4 2.4 0 1 0 -4.8 0zM367.55 295.98a2.4 2.4 0 1 0 4.8 0a2.4 2.4 0 1 0 -4.8 0zM369.04 294.64a2.4 2.4 0 1 0 4.8 0a2.4 2.4 0 1 0 -4.8 0zM370.53 293.31a2.4 2.4 0 1 0 4.8 0a2.4 2.4 0 1 0 -4.8 0zM372.02 291.97a2.4 2.4 0 1 0 4.8 0a2.4 2.4 0 1 0 -4.8 0zM373.51 290.63a2.4 2.4 0 1 0 4.8 0a2.4 2.4 0 1 0 -4.8 0zM375 289.3a2.4 2.4 0 1 0 4.8 0a2.4 2.4 0 1 0 -4.8 0zM376.49 287.96a2.4 2.4 0 1 0 4.8 0a2.4 2.4 0 1 0 -4.8 0zM377.98 286.63a2.4 2.4 0 1 0 4.8 0a2.4 2.4 0 1 0 -4.8 0zM378.8 285.9a2.4 2.4 0 1 0 4.8 0a2.4 2.4 0 1 0 -4.8 0z" fill="#1212d8"/><path d="M138.75 457.85h4.1v4.1h-4.1zM140.24 455.87h4.1v4.1h-4.1zM141.73 453.86h4.1v4.1h-4.1zM143.22 451.87h4.1v4.1h-4.1zM144.71 449.9h4.1v4.1h-4.1zM146.2 448h4.1v4.1h-4.1zM147.69 446.15h4.1v4.1h-4.1zM149.18 444.3h4.1v4.1h-4.1zM150.67 442.5h4.1v4.1h-4.1zM152.16 440.76h4.1v4.1h-4.1zM153.65 439.12h4.1v4.1h-4.1zM155.15 437.6h4.1v4.1h-4.1zM156.64 436.17h4.1v4.1h-4.1zM158.13 434.79h4.1v4.1h-4.1zM159.62 433.47h4.1v4.1h-4.1zM161.11 432.2h4.1v4.1h-4.1zM162.6 430.98h4.1v4.1h-4.1zM164.09 429.79h4.1v4.1h-4.1zM165.58 428.63h4.1v4.1h-4.1zM167.07 427.51h4.1v4.1h-4.1zM168.56 426.43h4.1v4.1h-4.1zM170.05 425.39h4.1v4.1h-4.1zM171.54 424.37h4.1v4.1h-4.1zM173.03 423.38h4.1v4.1h-4.1zM174.52 422.4h4.1v4.1h-4.1zM176.01 421.44h4.1v4.1h-4.1zM177.5 420.48h4.1v4.1h-4.1zM178.99 419.52h4.1v4.1h-4.1zM180.48 418.55h4.1v4.1h-4.1zM181.97 417.57h4.1v4.1h-4.1zM183.46 416.59h4.1v4.1h-4.1zM184.95 415.61h4.1v4.1h-4.1zM186.45 414.63h4.1v4.1h-4.1zM187.94 413.66h4.1v4.1h-4.1zM189.43 412.69h4.1v4.1h-4.1zM190.92 411.72h4.1v4.1h-4.1zM192.41 410.76h4.1v4.1h-4.1zM193.9 409.8h4.1v4.1h-4.1zM195.39 408.84h4.1v4.1h-4.1zM196.88 407.88h4.1v4.1h-4.1zM198.37 406.92h4.1v4.1h-4.1zM199.86 405.96h4.1v4.1h-4.1zM201.35 405.01h4.1v4.1h-4.1zM202.84 404.06h4.1v4.1h-4.1zM204.33 403.12h4.1v4.1h-4.1zM205.82 402.18h4.1v4.1h-4.1zM207.31 401.25h4.1v4.1h-4.1zM208.8 400.33h4.1v4.1h-4.1zM210.29 399.4h4.1v4.1h-4.1zM211.78 398.47h4.1v4.1h-4.1zM213.27 397.54h4.1v4.1h-4.1zM214.76 396.6h4.1v4.1h-4.1zM216.25 395.65h4.1v4.1h-4.1zM217.75 394.69h4.1v4.1h-4.1zM219.24 393.72h4.1v4.1h-4.1zM220.73 392.73h4.1v4.1h-4.1zM222.22 391.75h4.1v4.1h-4.1zM223.71 390.79h4.1v4.1h-4.1zM225.2 389.83h4.1v4.1h-4.1zM226.69 388.86h4.1v4.1h-4.1zM228.18 387.87h4.1v4.1h-4.1zM229.67 386.83h4.1v4.1h-4.1zM231.16 385.75h4.1v4.1h-4.1zM232.65 384.59h4.1v4.1h-4.1zM234.14 383.36h4.1v4.1h-4.1zM235.63 382.01h4.1v4.1h-4.1zM237.12 380.54h4.1v4.1h-4.1zM238.61 378.95h4.1v4.1h-4.1zM240.1 377.28h4.1v4.1h-4.1zM241.59 375.54h4.1v4.1h-4.1zM243.08 373.78h4.1v4.1h-4.1zM244.57 371.96h4.1v4.1h-4.1zM246.06 369.85h4.1v4.1h-4.1zM247.56 367h4.1v4.1h-4.1zM248.61 364.47h4.1v4.1h-4.1z" fill="#e8141c"/><path d="M248.61 355.19h4.1v4.1h-4.1zM251.38 349.46h4.1v4.1h-4.1zM254.14 344.67h4.1v4.1h-4.1zM256.91 338.33h4.1v4.1h-4.1zM259.67 331.61h4.1v4.1h-4.1zM262.44 326.43h4.1v4.1h-4.1zM265.2 321.78h4.1v4.1h-4.1zM267.96 317.41h4.1v4.1h-4.1zM270.73 313.6h4.1v4.1h-4.1zM273.49 310.16h4.1v4.1h-4.1zM276.26 307.77h4.1v4.1h-4.1zM279.02 305.04h4.1v4.1h-4.1zM281.79 302.61h4.1v4.1h-4.1zM284.55 300.63h4.1v4.1h-4.1zM287.32 298.96h4.1v4.1h-4.1zM290.08 297.49h4.1v4.1h-4.1zM292.85 296.19h4.1v4.1h-4.1zM295.61 294.99h4.1v4.1h-4.1zM298.38 293.86h4.1v4.1h-4.1zM301.14 292.81h4.1v4.1h-4.1zM303.9 291.88h4.1v4.1h-4.1zM306.67 291.1h4.1v4.1h-4.1zM309.43 290.39h4.1v4.1h-4.1zM312.2 289.73h4.1v4.1h-4.1zM314.96 289.13h4.1v4.1h-4.1zM317.73 288.6h4.1v4.1h-4.1zM320.49 288.15h4.1v4.1h-4.1zM323.26 287.77h4.1v4.1h-4.1zM326.02 287.44h4.1v4.1h-4.1zM328.79 287.15h4.1v4.1h-4.1zM331.55 286.88h4.1v4.1h-4.1zM334.32 286.63h4.1v4.1h-4.1zM337.08 286.4h4.1v4.1h-4.1zM339.84 286.19h4.1v4.1h-4.1zM342.61 285.98h4.1v4.1h-4.1zM345.37 285.79h4.1v4.1h-4.1zM348.14 285.6h4.1v4.1h-4.1zM350.9 285.42h4.1v4.1h-4.1zM353.67 285.25h4.1v4.1h-4.1zM356.43 285.09h4.1v4.1h-4.1zM359.2 284.93h4.1v4.1h-4.1zM361.96 284.78h4.1v4.1h-4.1zM364.73 284.63h4.1v4.1h-4.1zM367.49 284.49h4.1v4.1h-4.1zM370.26 284.34h4.1v4.1h-4.1zM373.02 284.19h4.1v4.1h-4.1zM375.78 284.04h4.1v4.1h-4.1zM378.55 283.88h4.1v4.1h-4.1z" fill="#e8141c"/></svg>
<div class="l b j" style="left:3000.50px;top:352.10px;width:291.00px;letter-spacing:0.410px;word-spacing:-0.40px;"><b>Figure 3.</b>&ensp;Examples of the dependencies</div>
<div class="l b j" style="left:3000.50px;top:370.63px;width:291.00px;letter-spacing:0.410px;word-spacing:-0.40px;">of the effective electrical conductivity, <i>σ</i>,</div>
<div class="l b j" style="left:3000.50px;top:389.16px;width:291.00px;letter-spacing:0.410px;word-spacing:-0.40px;">on the concentration, <i>p</i>, SD = 0.1, <i>s</i> = 1,</div>
<div class="l b j" style="left:3000.50px;top:407.69px;width:291.00px;letter-spacing:0.410px;word-spacing:-0.40px;"><i>m</i> = 1024, <i>L</i> = 32 along the direction</div>
<div class="l b j" style="left:3000.50px;top:426.22px;width:291.00px;letter-spacing:0.410px;word-spacing:-0.40px;">of alignment of the rods (<svg class="g " style="width:0.660em;height:0.660em;vertical-align:-0.020em" viewBox="0 0 66 66"><rect x="1" y="1" width="64" height="64" fill="#000"/></svg>) and in the</div>
<div class="l b j" style="left:3000.50px;top:444.75px;width:196.00px;letter-spacing:0.410px;word-spacing:-0.40px;">perpendicular direction (<svg class="g " style="width:0.660em;height:0.660em;vertical-align:0.050em" viewBox="0 0 66 66"><circle cx="33" cy="33" r="31" fill="#000"/></svg> ).</div>
<div class="l b j" style="left:2665.50px;top:539.00px;width:626.00px;letter-spacing:0.410px;word-spacing:-0.40px;">The more orderly the system is, the stronger this difference becomes (compare ﬁgure 4(a) for</div>
<div class="l b j" style="left:2645.50px;top:557.50px;width:423.00px;letter-spacing:0.410px;word-spacing:-0.40px;"><i>s</i> = 1 and ﬁgure 4(b) for <i>s</i> = 0.8) at SD = 1, <i>s</i> = 1, <i>m</i> = 1024.</div>
<svg style="position:absolute;left:2544px;top:0;width:848px;height:1200px;overflow:visible" viewBox="0 0 848 1200"><rect x="158.5" y="591.5" width="245" height="179" fill="none" stroke="#333" stroke-width="1" shape-rendering="crispEdges"/><path d="M160.8 770.5V773.7M160.8 591.5V594.7M208.9 770.5V773.7M208.9 591.5V594.7M257 770.5V773.7M257 591.5V594.7M305.1 770.5V773.7M305.1 591.5V594.7M353.2 770.5V773.7M353.2 591.5V594.7M401.3 770.5V773.7M401.3 591.5V594.7" stroke="#333" stroke-width="0.9" fill="none"/><text x="160.8" y="787.5" font-size="14" text-anchor="middle">0.0</text><text x="208.9" y="787.5" font-size="14" text-anchor="middle">0.2</text><text x="257" y="787.5" font-size="14" text-anchor="middle">0.4</text><text x="305.1" y="787.5" font-size="14" text-anchor="middle">0.6</text><text x="353.2" y="787.5" font-size="14" text-anchor="middle">0.8</text><text x="401.3" y="787.5" font-size="14" text-anchor="middle">1.0</text><path d="M184.85 770.5V772.3M184.85 591.5V593.3M232.95 770.5V772.3M232.95 591.5V593.3M281.05 770.5V772.3M281.05 591.5V593.3M329.15 770.5V772.3M329.15 591.5V593.3M377.25 770.5V772.3M377.25 591.5V593.3" stroke="#333" stroke-width="0.8" fill="none"/><path d="M158.5 768.5H155.3M403.5 768.5H400.3M158.5 739.37H155.3M403.5 739.37H400.3M158.5 710.23H155.3M403.5 710.23H400.3M158.5 681.1H155.3M403.5 681.1H400.3M158.5 651.97H155.3M403.5 651.97H400.3M158.5 622.83H155.3M403.5 622.83H400.3M158.5 593.7H155.3M403.5 593.7H400.3" stroke="#333" stroke-width="0.9" fill="none"/><text x="153" y="773.12" font-size="14" text-anchor="end">0</text><text x="153" y="743.99" font-size="14" text-anchor="end">1</text><text x="153" y="714.85" font-size="14" text-anchor="end">2</text><text x="153" y="685.72" font-size="14" text-anchor="end">3</text><text x="153" y="656.59" font-size="14" text-anchor="end">4</text><text x="153" y="627.45" font-size="14" text-anchor="end">5</text><text x="153" y="598.32" font-size="14" text-anchor="end">6</text><path d="M158.5 753.93H156.7M403.5 753.93H401.7M158.5 724.8H156.7M403.5 724.8H401.7M158.5 695.67H156.7M403.5 695.67H401.7M158.5 666.53H156.7M403.5 666.53H401.7M158.5 637.4H156.7M403.5 637.4H401.7M158.5 608.27H156.7M403.5 608.27H401.7" stroke="#333" stroke-width="0.8" fill="none"/><g transform="translate(135.5,692) rotate(-90) translate(-18.13,0)"><text x="0" y="0" font-size="15">log</text><text x="19.17" y="3.75" font-size="8.7">10</text><text x="28.17" y="0" font-size="15">σ</text></g><text x="281" y="802.8" font-size="15" text-anchor="middle" ><tspan font-style="italic">p</tspan></text><path d="M158.4 768.5a2.4 2.4 0 1 0 4.8 0a2.4 2.4 0 1 0 -4.8 0zM159.89 768.39a2.4 2.4 0 1 0 4.8 0a2.4 2.4 0 1 0 -4.8 0zM161.38 768.29a2.4 2.4 0 1 0 4.8 0a2.4 2.4 0 1 0 -4.8 0zM162.87 768.18a2.4 2.4 0 1 0 4.8 0a2.4 2.4 0 1 0 -4.8 0zM164.36 768.08a2.4 2.4 0 1 0 4.8 0a2.4 2.4 0 1 0 -4.8 0zM165.86 767.97a2.4 2.4 0 1 0 4.8 0a2.4 2.4 0 1 0 -4.8 0zM167.35 767.87a2.4 2.4 0 1 0 4.8 0a2.4 2.4 0 1 0 -4.8 0zM168.84 767.77a2.4 2.4 0 1 0 4.8 0a2.4 2.4 0 1 0 -4.8 0zM170.33 767.66a2.4 2.4 0 1 0 4.8 0a2.4 2.4 0 1 0 -4.8 0zM171.82 767.56a2.4 2.4 0 1 0 4.8 0a2.4 2.4 0 1 0 -4.8 0zM173.31 767.45a2.4 2.4 0 1 0 4.8 0a2.4 2.4 0 1 0 -4.8 0zM174.8 767.34a2.4 2.4 0 1 0 4.8 0a2.4 2.4 0 1 0 -4.8 0zM176.29 767.23a2.4 2.4 0 1 0 4.8 0a2.4 2.4 0 1 0 -4.8 0zM177.78 767.12a2.4 2.4 0 1 0 4.8 0a2.4 2.4 0 1 0 -4.8 0zM179.28 767a2.4 2.4 0 1 0 4.8 0a2.4 2.4 0 1 0 -4.8 0zM180.77 766.89a2.4 2.4 0 1 0 4.8 0a2.4 2.4 0 1 0 -4.8 0zM182.26 766.77a2.4 2.4 0 1 0 4.8 0a2.4 2.4 0 1 0 -4.8 0zM183.75 766.65a2.4 2.4 0 1 0 4.8 0a2.4 2.4 0 1 0 -4.8 0zM185.24 766.52a2.4 2.4 0 1 0 4.8 0a2.4 2.4 0 1 0 -4.8 0zM186.73 766.4a2.4 2.4 0 1 0 4.8 0a2.4 2.4 0 1 0 -4.8 0zM188.22 766.28a2.4 2.4 0 1 0 4.8 0a2.4 2.4 0 1 0 -4.8 0zM189.71 766.15a2.4 2.4 0 1 0 4.8 0a2.4 2.4 0 1 0 -4.8 0zM191.2 766.03a2.4 2.4 0 1 0 4.8 0a2.4 2.4 0 1 0 -4.8 0zM192.7 765.9a2.4 2.4 0 1 0 4.8 0a2.4 2.4 0 1 0 -4.8 0zM194.19 765.76a2.4 2.4 0 1 0 4.8 0a2.4 2.4 0 1 0 -4.8 0zM195.68 765.63a2.4 2.4 0 1 0 4.8 0a2.4 2.4 0 1 0 -4.8 0zM197.17 765.49a2.4 2.4 0 1 0 4.8 0a2.4 2.4 0 1 0 -4.8 0zM198.66 765.35a2.4 2.4 0 1 0 4.8 0a2.4 2.4 0 1 0 -4.8 0zM200.15 765.2a2.4 2.4 0 1 0 4.8 0a2.4 2.4 0 1 0 -4.8 0zM201.64 765.05a2.4 2.4 0 1 0 4.8 0a2.4 2.4 0 1 0 -4.8 0zM203.13 764.89a2.4 2.4 0 1 0 4.8 0a2.4 2.4 0 1 0 -4.8 0zM204.62 764.72a2.4 2.4 0 1 0 4.8 0a2.4 2.4 0 1 0 -4.8 0zM206.12 764.55a2.4 2.4 0 1 0 4.8 0a2.4 2.4 0 1 0 -4.8 0zM207.61 764.37a2.4 2.4 0 1 0 4.8 0a2.4 2.4 0 1 0 -4.8 0zM209.1 764.19a2.4 2.4 0 1 0 4.8 0a2.4 2.4 0 1 0 -4.8 0zM210.59 763.99a2.4 2.4 0 1 0 4.8 0a2.4 2.4 0 1 0 -4.8 0zM212.08 763.79a2.4 2.4 0 1 0 4.8 0a2.4 2.4 0 1 0 -4.8 0zM213.57 763.58a2.4 2.4 0 1 0 4.8 0a2.4 2.4 0 1 0 -4.8 0zM215.06 763.36a2.4 2.4 0 1 0 4.8 0a2.4 2.4 0 1 0 -4.8 0zM216.55 763.13a2.4 2.4 0 1 0 4.8 0a2.4 2.4 0 1 0 -4.8 0zM218.04 762.9a2.4 2.4 0 1 0 4.8 0a2.4 2.4 0 1 0 -4.8 0zM219.54 762.66a2.4 2.4 0 1 0 4.8 0a2.4 2.4 0 1 0 -4.8 0zM221.03 762.4a2.4 2.4 0 1 0 4.8 0a2.4 2.4 0 1 0 -4.8 0zM222.52 762.15a2.4 2.4 0 1 0 4.8 0a2.4 2.4 0 1 0 -4.8 0zM224.01 761.88a2.4 2.4 0 1 0 4.8 0a2.4 2.4 0 1 0 -4.8 0zM225.5 761.61a2.4 2.4 0 1 0 4.8 0a2.4 2.4 0 1 0 -4.8 0zM226.99 761.32a2.4 2.4 0 1 0 4.8 0a2.4 2.4 0 1 0 -4.8 0zM228.48 761.03a2.4 2.4 0 1 0 4.8 0a2.4 2.4 0 1 0 -4.8 0zM229.97 760.74a2.4 2.4 0 1 0 4.8 0a2.4 2.4 0 1 0 -4.8 0zM231.46 760.43a2.4 2.4 0 1 0 4.8 0a2.4 2.4 0 1 0 -4.8 0zM232.96 760.12a2.4 2.4 0 1 0 4.8 0a2.4 2.4 0 1 0 -4.8 0zM234.45 759.8a2.4 2.4 0 1 0 4.8 0a2.4 2.4 0 1 0 -4.8 0zM235.94 759.47a2.4 2.4 0 1 0 4.8 0a2.4 2.4 0 1 0 -4.8 0zM237.43 759.13a2.4 2.4 0 1 0 4.8 0a2.4 2.4 0 1 0 -4.8 0zM238.92 758.78a2.4 2.4 0 1 0 4.8 0a2.4 2.4 0 1 0 -4.8 0zM240.41 758.4a2.4 2.4 0 1 0 4.8 0a2.4 2.4 0 1 0 -4.8 0zM241.9 758.02a2.4 2.4 0 1 0 4.8 0a2.4 2.4 0 1 0 -4.8 0zM243.39 757.61a2.4 2.4 0 1 0 4.8 0a2.4 2.4 0 1 0 -4.8 0zM244.88 757.19a2.4 2.4 0 1 0 4.8 0a2.4 2.4 0 1 0 -4.8 0zM246.37 756.75a2.4 2.4 0 1 0 4.8 0a2.4 2.4 0 1 0 -4.8 0zM247.87 756.29a2.4 2.4 0 1 0 4.8 0a2.4 2.4 0 1 0 -4.8 0zM249.36 755.81a2.4 2.4 0 1 0 4.8 0a2.4 2.4 0 1 0 -4.8 0zM250.85 755.31a2.4 2.4 0 1 0 4.8 0a2.4 2.4 0 1 0 -4.8 0zM252.34 754.79a2.4 2.4 0 1 0 4.8 0a2.4 2.4 0 1 0 -4.8 0zM253.83 754.24a2.4 2.4 0 1 0 4.8 0a2.4 2.4 0 1 0 -4.8 0zM255.32 753.65a2.4 2.4 0 1 0 4.8 0a2.4 2.4 0 1 0 -4.8 0zM256.81 753a2.4 2.4 0 1 0 4.8 0a2.4 2.4 0 1 0 -4.8 0zM258.3 752.3a2.4 2.4 0 1 0 4.8 0a2.4 2.4 0 1 0 -4.8 0zM259.79 751.54a2.4 2.4 0 1 0 4.8 0a2.4 2.4 0 1 0 -4.8 0zM261.29 750.75a2.4 2.4 0 1 0 4.8 0a2.4 2.4 0 1 0 -4.8 0zM262.78 749.93a2.4 2.4 0 1 0 4.8 0a2.4 2.4 0 1 0 -4.8 0zM264.27 749.08a2.4 2.4 0 1 0 4.8 0a2.4 2.4 0 1 0 -4.8 0zM265.76 748.21a2.4 2.4 0 1 0 4.8 0a2.4 2.4 0 1 0 -4.8 0zM267.25 747.3a2.4 2.4 0 1 0 4.8 0a2.4 2.4 0 1 0 -4.8 0zM268.74 746.34a2.4 2.4 0 1 0 4.8 0a2.4 2.4 0 1 0 -4.8 0zM270.23 745.33a2.4 2.4 0 1 0 4.8 0a2.4 2.4 0 1 0 -4.8 0zM271.72 744.24a2.4 2.4 0 1 0 4.8 0a2.4 2.4 0 1 0 -4.8 0zM273.21 743.08a2.4 2.4 0 1 0 4.8 0a2.4 2.4 0 1 0 -4.8 0zM274.71 741.81a2.4 2.4 0 1 0 4.8 0a2.4 2.4 0 1 0 -4.8 0zM276.2 740.43a2.4 2.4 0 1 0 4.8 0a2.4 2.4 0 1 0 -4.8 0zM277.69 738.92a2.4 2.4 0 1 0 4.8 0a2.4 2.4 0 1 0 -4.8 0z" fill="#1212d8"/><path d="M279.85 736.44a2.4 2.4 0 1 0 4.8 0a2.4 2.4 0 1 0 -4.8 0zM282.71 732.41a2.4 2.4 0 1 0 4.8 0a2.4 2.4 0 1 0 -4.8 0zM285.58 728.23a2.4 2.4 0 1 0 4.8 0a2.4 2.4 0 1 0 -4.8 0zM288.44 723.68a2.4 2.4 0 1 0 4.8 0a2.4 2.4 0 1 0 -4.8 0zM291.3 718.83a2.4 2.4 0 1 0 4.8 0a2.4 2.4 0 1 0 -4.8 0zM294.16 713.54a2.4 2.4 0 1 0 4.8 0a2.4 2.4 0 1 0 -4.8 0zM297.02 708.07a2.4 2.4 0 1 0 4.8 0a2.4 2.4 0 1 0 -4.8 0zM299.89 702.42a2.4 2.4 0 1 0 4.8 0a2.4 2.4 0 1 0 -4.8 0zM302.75 696.44a2.4 2.4 0 1 0 4.8 0a2.4 2.4 0 1 0 -4.8 0z" fill="#1212d8"/><path d="M302.7 686.93a2.4 2.4 0 1 0 4.8 0a2.4 2.4 0 1 0 -4.8 0zM304.19 684.78a2.4 2.4 0 1 0 4.8 0a2.4 2.4 0 1 0 -4.8 0zM305.68 682.72a2.4 2.4 0 1 0 4.8 0a2.4 2.4 0 1 0 -4.8 0zM307.17 680.87a2.4 2.4 0 1 0 4.8 0a2.4 2.4 0 1 0 -4.8 0zM308.66 679.11a2.4 2.4 0 1 0 4.8 0a2.4 2.4 0 1 0 -4.8 0zM310.16 677.34a2.4 2.4 0 1 0 4.8 0a2.4 2.4 0 1 0 -4.8 0zM311.65 675.57a2.4 2.4 0 1 0 4.8 0a2.4 2.4 0 1 0 -4.8 0zM313.14 673.86a2.4 2.4 0 1 0 4.8 0a2.4 2.4 0 1 0 -4.8 0zM314.63 672.25a2.4 2.4 0 1 0 4.8 0a2.4 2.4 0 1 0 -4.8 0zM316.12 670.71a2.4 2.4 0 1 0 4.8 0a2.4 2.4 0 1 0 -4.8 0zM317.61 669.23a2.4 2.4 0 1 0 4.8 0a2.4 2.4 0 1 0 -4.8 0zM319.1 667.79a2.4 2.4 0 1 0 4.8 0a2.4 2.4 0 1 0 -4.8 0zM320.59 666.39a2.4 2.4 0 1 0 4.8 0a2.4 2.4 0 1 0 -4.8 0zM322.08 665.02a2.4 2.4 0 1 0 4.8 0a2.4 2.4 0 1 0 -4.8 0zM323.58 663.67a2.4 2.4 0 1 0 4.8 0a2.4 2.4 0 1 0 -4.8 0zM325.07 662.37a2.4 2.4 0 1 0 4.8 0a2.4 2.4 0 1 0 -4.8 0zM326.56 661.09a2.4 2.4 0 1 0 4.8 0a2.4 2.4 0 1 0 -4.8 0zM328.05 659.85a2.4 2.4 0 1 0 4.8 0a2.4 2.4 0 1 0 -4.8 0zM329.54 658.62a2.4 2.4 0 1 0 4.8 0a2.4 2.4 0 1 0 -4.8 0zM331.03 657.39a2.4 2.4 0 1 0 4.8 0a2.4 2.4 0 1 0 -4.8 0zM332.52 656.15a2.4 2.4 0 1 0 4.8 0a2.4 2.4 0 1 0 -4.8 0zM334.01 654.89a2.4 2.4 0 1 0 4.8 0a2.4 2.4 0 1 0 -4.8 0zM335.5 653.61a2.4 2.4 0 1 0 4.8 0a2.4 2.4 0 1 0 -4.8 0zM337 652.28a2.4 2.4 0 1 0 4.8 0a2.4 2.4 0 1 0 -4.8 0zM338.49 650.93a2.4 2.4 0 1 0 4.8 0a2.4 2.4 0 1 0 -4.8 0zM339.98 649.56a2.4 2.4 0 1 0 4.8 0a2.4 2.4 0 1 0 -4.8 0zM341.47 648.17a2.4 2.4 0 1 0 4.8 0a2.4 2.4 0 1 0 -4.8 0zM342.96 646.77a2.4 2.4 0 1 0 4.8 0a2.4 2.4 0 1 0 -4.8 0zM344.45 645.35a2.4 2.4 0 1 0 4.8 0a2.4 2.4 0 1 0 -4.8 0zM345.94 643.93a2.4 2.4 0 1 0 4.8 0a2.4 2.4 0 1 0 -4.8 0zM347.43 642.5a2.4 2.4 0 1 0 4.8 0a2.4 2.4 0 1 0 -4.8 0zM348.92 641.06a2.4 2.4 0 1 0 4.8 0a2.4 2.4 0 1 0 -4.8 0zM350.42 639.63a2.4 2.4 0 1 0 4.8 0a2.4 2.4 0 1 0 -4.8 0zM351.91 638.19a2.4 2.4 0 1 0 4.8 0a2.4 2.4 0 1 0 -4.8 0zM353.4 636.76a2.4 2.4 0 1 0 4.8 0a2.4 2.4 0 1 0 -4.8 0zM354.89 635.34a2.4 2.4 0 1 0 4.8 0a2.4 2.4 0 1 0 -4.8 0zM356.38 633.92a2.4 2.4 0 1 0 4.8 0a2.4 2.4 0 1 0 -4.8 0zM357.87 632.52a2.4 2.4 0 1 0 4.8 0a2.4 2.4 0 1 0 -4.8 0zM359.36 631.13a2.4 2.4 0 1 0 4.8 0a2.4 2.4 0 1 0 -4.8 0zM360.85 629.74a2.4 2.4 0 1 0 4.8 0a2.4 2.4 0 1 0 -4.8 0zM362.34 628.37a2.4 2.4 0 1 0 4.8 0a2.4 2.4 0 1 0 -4.8 0zM363.84 627a2.4 2.4 0 1 0 4.8 0a2.4 2.4 0 1 0 -4.8 0zM365.33 625.63a2.4 2.4 0 1 0 4.8 0a2.4 2.4 0 1 0 -4.8 0zM366.82 624.26a2.4 2.4 0 1 0 4.8 0a2.4 2.4 0 1 0 -4.8 0zM368.31 622.9a2.4 2.4 0 1 0 4.8 0a2.4 2.4 0 1 0 -4.8 0zM369.8 621.53a2.4 2.4 0 1 0 4.8 0a2.4 2.4 0 1 0 -4.8 0zM371.29 620.16a2.4 2.4 0 1 0 4.8 0a2.4 2.4 0 1 0 -4.8 0zM372.78 618.78a2.4 2.4 0 1 0 4.8 0a2.4 2.4 0 1 0 -4.8 0zM374.27 617.4a2.4 2.4 0 1 0 4.8 0a2.4 2.4 0 1 0 -4.8 0zM375.76 616.01a2.4 2.4 0 1 0 4.8 0a2.4 2.4 0 1 0 -4.8 0zM377.25 614.61a2.4 2.4 0 1 0 4.8 0a2.4 2.4 0 1 0 -4.8 0zM378.75 613.2a2.4 2.4 0 1 0 4.8 0a2.4 2.4 0 1 0 -4.8 0zM380.24 611.78a2.4 2.4 0 1 0 4.8 0a2.4 2.4 0 1 0 -4.8 0zM381.73 610.35a2.4 2.4 0 1 0 4.8 0a2.4 2.4 0 1 0 -4.8 0zM383.22 608.92a2.4 2.4 0 1 0 4.8 0a2.4 2.4 0 1 0 -4.8 0zM384.71 607.48a2.4 2.4 0 1 0 4.8 0a2.4 2.4 0 1 0 -4.8 0zM386.2 606.04a2.4 2.4 0 1 0 4.8 0a2.4 2.4 0 1 0 -4.8 0zM387.69 604.59a2.4 2.4 0 1 0 4.8 0a2.4 2.4 0 1 0 -4.8 0zM389.18 603.14a2.4 2.4 0 1 0 4.8 0a2.4 2.4 0 1 0 -4.8 0zM390.67 601.69a2.4 2.4 0 1 0 4.8 0a2.4 2.4 0 1 0 -4.8 0zM392.17 600.24a2.4 2.4 0 1 0 4.8 0a2.4 2.4 0 1 0 -4.8 0zM393.66 598.79a2.4 2.4 0 1 0 4.8 0a2.4 2.4 0 1 0 -4.8 0zM395.15 597.34a2.4 2.4 0 1 0 4.8 0a2.4 2.4 0 1 0 -4.8 0zM396.64 595.89a2.4 2.4 0 1 0 4.8 0a2.4 2.4 0 1 0 -4.8 0zM398.13 594.44a2.4 2.4 0 1 0 4.8 0a2.4 2.4 0 1 0 -4.8 0zM398.9 593.7a2.4 2.4 0 1 0 4.8 0a2.4 2.4 0 1 0 -4.8 0z" fill="#1212d8"/><path d="M158.75 766.45h4.1v4.1h-4.1zM159.83 763.13h4.1v4.1h-4.1zM160.91 760.04h4.1v4.1h-4.1zM162 757.45h4.1v4.1h-4.1zM163.08 755.15h4.1v4.1h-4.1zM164.16 753.11h4.1v4.1h-4.1zM165.24 751.25h4.1v4.1h-4.1zM166.33 749.53h4.1v4.1h-4.1zM167.41 747.91h4.1v4.1h-4.1zM168.49 746.37h4.1v4.1h-4.1zM169.57 744.9h4.1v4.1h-4.1zM170.65 743.48h4.1v4.1h-4.1zM171.74 742.12h4.1v4.1h-4.1zM172.82 740.82h4.1v4.1h-4.1zM173.9 739.57h4.1v4.1h-4.1zM174.98 738.38h4.1v4.1h-4.1zM176.07 737.26h4.1v4.1h-4.1zM177.15 736.19h4.1v4.1h-4.1zM178.23 735.17h4.1v4.1h-4.1zM179.31 734.17h4.1v4.1h-4.1zM180.4 733.18h4.1v4.1h-4.1zM181.48 732.17h4.1v4.1h-4.1zM182.56 731.14h4.1v4.1h-4.1zM183.64 730.08h4.1v4.1h-4.1zM184.72 728.99h4.1v4.1h-4.1zM185.81 727.89h4.1v4.1h-4.1zM186.89 726.77h4.1v4.1h-4.1zM187.97 725.66h4.1v4.1h-4.1zM189.05 724.55h4.1v4.1h-4.1zM190.14 723.46h4.1v4.1h-4.1zM191.22 722.37h4.1v4.1h-4.1zM192.3 721.31h4.1v4.1h-4.1zM193.38 720.28h4.1v4.1h-4.1zM194.46 719.29h4.1v4.1h-4.1zM195.55 718.31h4.1v4.1h-4.1zM196.63 717.35h4.1v4.1h-4.1zM197.71 716.41h4.1v4.1h-4.1zM198.79 715.48h4.1v4.1h-4.1zM199.88 714.56h4.1v4.1h-4.1zM200.96 713.65h4.1v4.1h-4.1zM202.04 712.75h4.1v4.1h-4.1zM203.12 711.85h4.1v4.1h-4.1zM204.2 710.96h4.1v4.1h-4.1zM205.29 710.07h4.1v4.1h-4.1zM206.37 709.18h4.1v4.1h-4.1zM207.45 708.28h4.1v4.1h-4.1zM208.53 707.39h4.1v4.1h-4.1zM209.62 706.5h4.1v4.1h-4.1zM210.7 705.61h4.1v4.1h-4.1zM211.78 704.73h4.1v4.1h-4.1zM212.86 703.86h4.1v4.1h-4.1zM213.94 702.98h4.1v4.1h-4.1zM215.03 702.11h4.1v4.1h-4.1zM216.11 701.24h4.1v4.1h-4.1zM217.19 700.38h4.1v4.1h-4.1zM218.27 699.51h4.1v4.1h-4.1zM219.36 698.65h4.1v4.1h-4.1zM220.44 697.78h4.1v4.1h-4.1zM221.52 696.92h4.1v4.1h-4.1zM222.6 696.06h4.1v4.1h-4.1zM223.69 695.2h4.1v4.1h-4.1zM224.77 694.34h4.1v4.1h-4.1zM225.85 693.48h4.1v4.1h-4.1zM226.93 692.63h4.1v4.1h-4.1zM228.01 691.78h4.1v4.1h-4.1zM229.1 690.93h4.1v4.1h-4.1zM230.18 690.08h4.1v4.1h-4.1zM231.26 689.23h4.1v4.1h-4.1zM232.34 688.39h4.1v4.1h-4.1zM233.43 687.54h4.1v4.1h-4.1zM234.51 686.71h4.1v4.1h-4.1zM235.59 685.87h4.1v4.1h-4.1zM236.67 685.07h4.1v4.1h-4.1zM237.75 684.27h4.1v4.1h-4.1zM238.84 683.48h4.1v4.1h-4.1zM239.92 682.69h4.1v4.1h-4.1zM241 681.87h4.1v4.1h-4.1zM242.08 681.02h4.1v4.1h-4.1zM243.17 680.13h4.1v4.1h-4.1zM244.25 679.17h4.1v4.1h-4.1zM245.33 678.13h4.1v4.1h-4.1zM246.41 677.07h4.1v4.1h-4.1z" fill="#e8141c"/><path d="M246.77 665.65h4.1v4.1h-4.1zM250.07 661.66h4.1v4.1h-4.1zM253.36 657.68h4.1v4.1h-4.1zM256.66 653.18h4.1v4.1h-4.1zM259.95 648.5h4.1v4.1h-4.1zM263.25 644.53h4.1v4.1h-4.1zM266.54 640.82h4.1v4.1h-4.1zM269.84 636.55h4.1v4.1h-4.1zM273.13 632.81h4.1v4.1h-4.1zM276.43 629.08h4.1v4.1h-4.1zM279.72 625.83h4.1v4.1h-4.1zM283.02 622.74h4.1v4.1h-4.1zM286.31 619.82h4.1v4.1h-4.1zM289.61 617h4.1v4.1h-4.1zM292.9 614.23h4.1v4.1h-4.1zM296.2 612.1h4.1v4.1h-4.1zM299.49 610.12h4.1v4.1h-4.1zM302.79 608.19h4.1v4.1h-4.1zM306.08 606.58h4.1v4.1h-4.1zM309.38 605.18h4.1v4.1h-4.1zM312.67 603.9h4.1v4.1h-4.1zM315.96 602.68h4.1v4.1h-4.1zM319.26 601.54h4.1v4.1h-4.1zM322.55 600.52h4.1v4.1h-4.1zM325.85 599.61h4.1v4.1h-4.1zM329.14 598.76h4.1v4.1h-4.1zM332.44 598h4.1v4.1h-4.1zM335.73 597.35h4.1v4.1h-4.1zM339.03 596.82h4.1v4.1h-4.1zM342.32 596.35h4.1v4.1h-4.1zM345.62 595.93h4.1v4.1h-4.1zM348.91 595.54h4.1v4.1h-4.1zM352.21 595.18h4.1v4.1h-4.1zM355.5 594.86h4.1v4.1h-4.1zM358.8 594.55h4.1v4.1h-4.1zM362.09 594.25h4.1v4.1h-4.1zM365.39 593.98h4.1v4.1h-4.1zM368.68 593.73h4.1v4.1h-4.1zM371.98 593.48h4.1v4.1h-4.1zM375.27 593.25h4.1v4.1h-4.1zM378.57 593.03h4.1v4.1h-4.1zM381.86 592.81h4.1v4.1h-4.1zM385.16 592.6h4.1v4.1h-4.1zM388.45 592.38h4.1v4.1h-4.1zM391.75 592.16h4.1v4.1h-4.1zM395.04 591.94h4.1v4.1h-4.1zM398.34 591.72h4.1v4.1h-4.1z" fill="#e8141c"/><rect x="473.5" y="591.5" width="245" height="179" fill="none" stroke="#333" stroke-width="1" shape-rendering="crispEdges"/><path d="M475.8 770.5V773.7M475.8 591.5V594.7M523.88 770.5V773.7M523.88 591.5V594.7M571.96 770.5V773.7M571.96 591.5V594.7M620.04 770.5V773.7M620.04 591.5V594.7M668.12 770.5V773.7M668.12 591.5V594.7M716.2 770.5V773.7M716.2 591.5V594.7" stroke="#333" stroke-width="0.9" fill="none"/><text x="475.8" y="787.5" font-size="14" text-anchor="middle">0.0</text><text x="523.88" y="787.5" font-size="14" text-anchor="middle">0.2</text><text x="571.96" y="787.5" font-size="14" text-anchor="middle">0.4</text><text x="620.04" y="787.5" font-size="14" text-anchor="middle">0.6</text><text x="668.12" y="787.5" font-size="14" text-anchor="middle">0.8</text><text x="716.2" y="787.5" font-size="14" text-anchor="middle">1.0</text><path d="M499.84 770.5V772.3M499.84 591.5V593.3M547.92 770.5V772.3M547.92 591.5V593.3M596 770.5V772.3M596 591.5V593.3M644.08 770.5V772.3M644.08 591.5V593.3M692.16 770.5V772.3M692.16 591.5V593.3" stroke="#333" stroke-width="0.8" fill="none"/><path d="M473.5 768.5H470.3M718.5 768.5H715.3M473.5 739.37H470.3M718.5 739.37H715.3M473.5 710.23H470.3M718.5 710.23H715.3M473.5 681.1H470.3M718.5 681.1H715.3M473.5 651.97H470.3M718.5 651.97H715.3M473.5 622.83H470.3M718.5 622.83H715.3M473.5 593.7H470.3M718.5 593.7H715.3" stroke="#333" stroke-width="0.9" fill="none"/><text x="468" y="773.12" font-size="14" text-anchor="end">0</text><text x="468" y="743.99" font-size="14" text-anchor="end">1</text><text x="468" y="714.85" font-size="14" text-anchor="end">2</text><text x="468" y="685.72" font-size="14" text-anchor="end">3</text><text x="468" y="656.59" font-size="14" text-anchor="end">4</text><text x="468" y="627.45" font-size="14" text-anchor="end">5</text><text x="468" y="598.32" font-size="14" text-anchor="end">6</text><path d="M473.5 753.93H471.7M718.5 753.93H716.7M473.5 724.8H471.7M718.5 724.8H716.7M473.5 695.67H471.7M718.5 695.67H716.7M473.5 666.53H471.7M718.5 666.53H716.7M473.5 637.4H471.7M718.5 637.4H716.7M473.5 608.27H471.7M718.5 608.27H716.7" stroke="#333" stroke-width="0.8" fill="none"/><g transform="translate(450.5,692) rotate(-90) translate(-18.13,0)"><text x="0" y="0" font-size="15">log</text><text x="19.17" y="3.75" font-size="8.7">10</text><text x="28.17" y="0" font-size="15">σ</text></g><text x="595" y="802.8" font-size="15" text-anchor="middle" ><tspan font-style="italic">p</tspan></text><path d="M473.4 768.5a2.4 2.4 0 1 0 4.8 0a2.4 2.4 0 1 0 -4.8 0zM474.12 768.32a2.4 2.4 0 1 0 4.8 0a2.4 2.4 0 1 0 -4.8 0zM474.84 768.14a2.4 2.4 0 1 0 4.8 0a2.4 2.4 0 1 0 -4.8 0zM475.56 767.97a2.4 2.4 0 1 0 4.8 0a2.4 2.4 0 1 0 -4.8 0zM476.28 767.81a2.4 2.4 0 1 0 4.8 0a2.4 2.4 0 1 0 -4.8 0zM477.01 767.64a2.4 2.4 0 1 0 4.8 0a2.4 2.4 0 1 0 -4.8 0zM477.73 767.47a2.4 2.4 0 1 0 4.8 0a2.4 2.4 0 1 0 -4.8 0zM478.45 767.29a2.4 2.4 0 1 0 4.8 0a2.4 2.4 0 1 0 -4.8 0zM479.17 767.09a2.4 2.4 0 1 0 4.8 0a2.4 2.4 0 1 0 -4.8 0zM479.89 766.87a2.4 2.4 0 1 0 4.8 0a2.4 2.4 0 1 0 -4.8 0zM480.61 766.63a2.4 2.4 0 1 0 4.8 0a2.4 2.4 0 1 0 -4.8 0zM481.33 766.37a2.4 2.4 0 1 0 4.8 0a2.4 2.4 0 1 0 -4.8 0zM482.05 766.06a2.4 2.4 0 1 0 4.8 0a2.4 2.4 0 1 0 -4.8 0zM482.78 765.71a2.4 2.4 0 1 0 4.8 0a2.4 2.4 0 1 0 -4.8 0zM483.5 765.31a2.4 2.4 0 1 0 4.8 0a2.4 2.4 0 1 0 -4.8 0zM484.22 764.89a2.4 2.4 0 1 0 4.8 0a2.4 2.4 0 1 0 -4.8 0zM484.94 764.43a2.4 2.4 0 1 0 4.8 0a2.4 2.4 0 1 0 -4.8 0zM485.66 763.94a2.4 2.4 0 1 0 4.8 0a2.4 2.4 0 1 0 -4.8 0zM486.38 763.43a2.4 2.4 0 1 0 4.8 0a2.4 2.4 0 1 0 -4.8 0zM487.1 762.89a2.4 2.4 0 1 0 4.8 0a2.4 2.4 0 1 0 -4.8 0zM487.82 762.35a2.4 2.4 0 1 0 4.8 0a2.4 2.4 0 1 0 -4.8 0zM488.55 761.78a2.4 2.4 0 1 0 4.8 0a2.4 2.4 0 1 0 -4.8 0zM489.27 761.22a2.4 2.4 0 1 0 4.8 0a2.4 2.4 0 1 0 -4.8 0zM489.99 760.63a2.4 2.4 0 1 0 4.8 0a2.4 2.4 0 1 0 -4.8 0zM490.71 760a2.4 2.4 0 1 0 4.8 0a2.4 2.4 0 1 0 -4.8 0zM491.43 759.34a2.4 2.4 0 1 0 4.8 0a2.4 2.4 0 1 0 -4.8 0zM492.15 758.64a2.4 2.4 0 1 0 4.8 0a2.4 2.4 0 1 0 -4.8 0zM492.87 757.92a2.4 2.4 0 1 0 4.8 0a2.4 2.4 0 1 0 -4.8 0zM493.59 757.16a2.4 2.4 0 1 0 4.8 0a2.4 2.4 0 1 0 -4.8 0zM494.31 756.38a2.4 2.4 0 1 0 4.8 0a2.4 2.4 0 1 0 -4.8 0zM495.04 755.58a2.4 2.4 0 1 0 4.8 0a2.4 2.4 0 1 0 -4.8 0zM495.76 754.76a2.4 2.4 0 1 0 4.8 0a2.4 2.4 0 1 0 -4.8 0zM496.48 753.92a2.4 2.4 0 1 0 4.8 0a2.4 2.4 0 1 0 -4.8 0zM497.2 753.06a2.4 2.4 0 1 0 4.8 0a2.4 2.4 0 1 0 -4.8 0zM497.92 752.18a2.4 2.4 0 1 0 4.8 0a2.4 2.4 0 1 0 -4.8 0zM498.64 751.27a2.4 2.4 0 1 0 4.8 0a2.4 2.4 0 1 0 -4.8 0zM499.36 750.34a2.4 2.4 0 1 0 4.8 0a2.4 2.4 0 1 0 -4.8 0zM500.08 749.37a2.4 2.4 0 1 0 4.8 0a2.4 2.4 0 1 0 -4.8 0zM500.81 748.37a2.4 2.4 0 1 0 4.8 0a2.4 2.4 0 1 0 -4.8 0zM501.53 747.35a2.4 2.4 0 1 0 4.8 0a2.4 2.4 0 1 0 -4.8 0zM502.25 746.29a2.4 2.4 0 1 0 4.8 0a2.4 2.4 0 1 0 -4.8 0zM502.97 745.2a2.4 2.4 0 1 0 4.8 0a2.4 2.4 0 1 0 -4.8 0zM503.69 744.08a2.4 2.4 0 1 0 4.8 0a2.4 2.4 0 1 0 -4.8 0zM504.41 742.93a2.4 2.4 0 1 0 4.8 0a2.4 2.4 0 1 0 -4.8 0zM505.13 741.74a2.4 2.4 0 1 0 4.8 0a2.4 2.4 0 1 0 -4.8 0zM505.85 740.53a2.4 2.4 0 1 0 4.8 0a2.4 2.4 0 1 0 -4.8 0zM506.58 739.27a2.4 2.4 0 1 0 4.8 0a2.4 2.4 0 1 0 -4.8 0zM507.3 737.96a2.4 2.4 0 1 0 4.8 0a2.4 2.4 0 1 0 -4.8 0zM508.02 736.59a2.4 2.4 0 1 0 4.8 0a2.4 2.4 0 1 0 -4.8 0zM508.74 735.16a2.4 2.4 0 1 0 4.8 0a2.4 2.4 0 1 0 -4.8 0zM509.46 733.68a2.4 2.4 0 1 0 4.8 0a2.4 2.4 0 1 0 -4.8 0zM510.18 732.14a2.4 2.4 0 1 0 4.8 0a2.4 2.4 0 1 0 -4.8 0zM510.9 730.55a2.4 2.4 0 1 0 4.8 0a2.4 2.4 0 1 0 -4.8 0zM511.62 728.9a2.4 2.4 0 1 0 4.8 0a2.4 2.4 0 1 0 -4.8 0zM512.34 727.17a2.4 2.4 0 1 0 4.8 0a2.4 2.4 0 1 0 -4.8 0zM513.07 725.35a2.4 2.4 0 1 0 4.8 0a2.4 2.4 0 1 0 -4.8 0zM513.79 723.43a2.4 2.4 0 1 0 4.8 0a2.4 2.4 0 1 0 -4.8 0zM514.51 721.45a2.4 2.4 0 1 0 4.8 0a2.4 2.4 0 1 0 -4.8 0zM515.23 719.38a2.4 2.4 0 1 0 4.8 0a2.4 2.4 0 1 0 -4.8 0zM515.95 717.21a2.4 2.4 0 1 0 4.8 0a2.4 2.4 0 1 0 -4.8 0zM516.67 714.87a2.4 2.4 0 1 0 4.8 0a2.4 2.4 0 1 0 -4.8 0zM517.39 712.47a2.4 2.4 0 1 0 4.8 0a2.4 2.4 0 1 0 -4.8 0z" fill="#1212d8"/><path d="M517.39 683.43a2.4 2.4 0 1 0 4.8 0a2.4 2.4 0 1 0 -4.8 0zM521.55 675.14a2.4 2.4 0 1 0 4.8 0a2.4 2.4 0 1 0 -4.8 0zM525.71 668.07a2.4 2.4 0 1 0 4.8 0a2.4 2.4 0 1 0 -4.8 0zM529.87 662.8a2.4 2.4 0 1 0 4.8 0a2.4 2.4 0 1 0 -4.8 0zM534.03 658.69a2.4 2.4 0 1 0 4.8 0a2.4 2.4 0 1 0 -4.8 0zM538.19 655.17a2.4 2.4 0 1 0 4.8 0a2.4 2.4 0 1 0 -4.8 0zM542.35 651.95a2.4 2.4 0 1 0 4.8 0a2.4 2.4 0 1 0 -4.8 0zM546.51 649.18a2.4 2.4 0 1 0 4.8 0a2.4 2.4 0 1 0 -4.8 0zM550.66 646.82a2.4 2.4 0 1 0 4.8 0a2.4 2.4 0 1 0 -4.8 0zM554.82 644.47a2.4 2.4 0 1 0 4.8 0a2.4 2.4 0 1 0 -4.8 0zM558.98 642.35a2.4 2.4 0 1 0 4.8 0a2.4 2.4 0 1 0 -4.8 0zM563.14 640.39a2.4 2.4 0 1 0 4.8 0a2.4 2.4 0 1 0 -4.8 0zM567.3 638.57a2.4 2.4 0 1 0 4.8 0a2.4 2.4 0 1 0 -4.8 0zM571.46 636.85a2.4 2.4 0 1 0 4.8 0a2.4 2.4 0 1 0 -4.8 0zM575.62 635.22a2.4 2.4 0 1 0 4.8 0a2.4 2.4 0 1 0 -4.8 0zM579.78 633.65a2.4 2.4 0 1 0 4.8 0a2.4 2.4 0 1 0 -4.8 0zM583.94 632.14a2.4 2.4 0 1 0 4.8 0a2.4 2.4 0 1 0 -4.8 0zM588.09 630.67a2.4 2.4 0 1 0 4.8 0a2.4 2.4 0 1 0 -4.8 0zM592.25 629.24a2.4 2.4 0 1 0 4.8 0a2.4 2.4 0 1 0 -4.8 0zM596.41 627.84a2.4 2.4 0 1 0 4.8 0a2.4 2.4 0 1 0 -4.8 0zM600.57 626.48a2.4 2.4 0 1 0 4.8 0a2.4 2.4 0 1 0 -4.8 0zM604.73 625.14a2.4 2.4 0 1 0 4.8 0a2.4 2.4 0 1 0 -4.8 0zM608.89 623.84a2.4 2.4 0 1 0 4.8 0a2.4 2.4 0 1 0 -4.8 0zM613.05 622.58a2.4 2.4 0 1 0 4.8 0a2.4 2.4 0 1 0 -4.8 0zM617.21 621.35a2.4 2.4 0 1 0 4.8 0a2.4 2.4 0 1 0 -4.8 0zM621.37 620.14a2.4 2.4 0 1 0 4.8 0a2.4 2.4 0 1 0 -4.8 0zM625.53 618.93a2.4 2.4 0 1 0 4.8 0a2.4 2.4 0 1 0 -4.8 0zM629.68 617.71a2.4 2.4 0 1 0 4.8 0a2.4 2.4 0 1 0 -4.8 0zM633.84 616.48a2.4 2.4 0 1 0 4.8 0a2.4 2.4 0 1 0 -4.8 0zM638 615.23a2.4 2.4 0 1 0 4.8 0a2.4 2.4 0 1 0 -4.8 0zM642.16 613.98a2.4 2.4 0 1 0 4.8 0a2.4 2.4 0 1 0 -4.8 0zM646.32 612.72a2.4 2.4 0 1 0 4.8 0a2.4 2.4 0 1 0 -4.8 0zM650.48 611.48a2.4 2.4 0 1 0 4.8 0a2.4 2.4 0 1 0 -4.8 0zM654.64 610.25a2.4 2.4 0 1 0 4.8 0a2.4 2.4 0 1 0 -4.8 0zM658.8 609.04a2.4 2.4 0 1 0 4.8 0a2.4 2.4 0 1 0 -4.8 0zM662.96 607.86a2.4 2.4 0 1 0 4.8 0a2.4 2.4 0 1 0 -4.8 0zM667.11 606.7a2.4 2.4 0 1 0 4.8 0a2.4 2.4 0 1 0 -4.8 0zM671.27 605.55a2.4 2.4 0 1 0 4.8 0a2.4 2.4 0 1 0 -4.8 0zM675.43 604.42a2.4 2.4 0 1 0 4.8 0a2.4 2.4 0 1 0 -4.8 0zM679.59 603.28a2.4 2.4 0 1 0 4.8 0a2.4 2.4 0 1 0 -4.8 0zM683.75 602.14a2.4 2.4 0 1 0 4.8 0a2.4 2.4 0 1 0 -4.8 0zM687.91 600.99a2.4 2.4 0 1 0 4.8 0a2.4 2.4 0 1 0 -4.8 0zM692.07 599.82a2.4 2.4 0 1 0 4.8 0a2.4 2.4 0 1 0 -4.8 0zM696.23 598.65a2.4 2.4 0 1 0 4.8 0a2.4 2.4 0 1 0 -4.8 0zM700.39 597.48a2.4 2.4 0 1 0 4.8 0a2.4 2.4 0 1 0 -4.8 0zM704.54 596.31a2.4 2.4 0 1 0 4.8 0a2.4 2.4 0 1 0 -4.8 0zM708.7 595.14a2.4 2.4 0 1 0 4.8 0a2.4 2.4 0 1 0 -4.8 0zM712.86 593.96a2.4 2.4 0 1 0 4.8 0a2.4 2.4 0 1 0 -4.8 0z" fill="#1212d8"/><path d="M473.75 766.45h4.1v4.1h-4.1zM474.47 765.11h4.1v4.1h-4.1zM475.19 763.77h4.1v4.1h-4.1zM475.91 762.43h4.1v4.1h-4.1zM476.63 761.08h4.1v4.1h-4.1zM477.36 759.74h4.1v4.1h-4.1zM478.08 758.4h4.1v4.1h-4.1zM478.8 757.06h4.1v4.1h-4.1zM479.52 755.72h4.1v4.1h-4.1zM480.24 754.39h4.1v4.1h-4.1zM480.96 753.06h4.1v4.1h-4.1zM481.68 751.73h4.1v4.1h-4.1zM482.4 750.42h4.1v4.1h-4.1zM483.13 749.12h4.1v4.1h-4.1zM483.85 747.83h4.1v4.1h-4.1zM484.57 746.55h4.1v4.1h-4.1zM485.29 745.26h4.1v4.1h-4.1zM486.01 743.97h4.1v4.1h-4.1zM486.73 742.67h4.1v4.1h-4.1zM487.45 741.36h4.1v4.1h-4.1zM488.17 740.03h4.1v4.1h-4.1zM488.9 738.69h4.1v4.1h-4.1zM489.62 737.32h4.1v4.1h-4.1zM490.34 735.92h4.1v4.1h-4.1zM491.06 734.49h4.1v4.1h-4.1zM491.78 733.05h4.1v4.1h-4.1zM492.5 731.58h4.1v4.1h-4.1zM493.22 730.1h4.1v4.1h-4.1zM493.94 728.62h4.1v4.1h-4.1zM494.66 727.12h4.1v4.1h-4.1zM495.39 725.63h4.1v4.1h-4.1zM496.11 724.14h4.1v4.1h-4.1zM496.83 722.66h4.1v4.1h-4.1zM497.55 721.2h4.1v4.1h-4.1zM498.27 719.73h4.1v4.1h-4.1zM498.99 718.25h4.1v4.1h-4.1zM499.71 716.76h4.1v4.1h-4.1zM500.43 715.27h4.1v4.1h-4.1zM501.16 713.8h4.1v4.1h-4.1zM501.88 712.36h4.1v4.1h-4.1zM502.6 710.97h4.1v4.1h-4.1zM503.32 709.64h4.1v4.1h-4.1zM504.04 708.4h4.1v4.1h-4.1zM504.76 707.23h4.1v4.1h-4.1zM505.24 706.44h4.1v4.1h-4.1z" fill="#e8141c"/><path d="M505.24 676.72h4.1v4.1h-4.1zM509.45 667.11h4.1v4.1h-4.1zM513.66 656.01h4.1v4.1h-4.1zM517.86 647.59h4.1v4.1h-4.1zM522.07 641.79h4.1v4.1h-4.1zM526.28 636.62h4.1v4.1h-4.1zM530.48 632.36h4.1v4.1h-4.1zM534.69 629.06h4.1v4.1h-4.1zM538.9 626.47h4.1v4.1h-4.1zM543.11 623.63h4.1v4.1h-4.1zM547.31 621.41h4.1v4.1h-4.1zM551.52 619.53h4.1v4.1h-4.1zM555.73 618.21h4.1v4.1h-4.1zM559.93 616.94h4.1v4.1h-4.1zM564.14 615.55h4.1v4.1h-4.1zM568.35 614.13h4.1v4.1h-4.1zM572.55 612.78h4.1v4.1h-4.1zM576.76 611.56h4.1v4.1h-4.1zM580.97 610.48h4.1v4.1h-4.1zM585.18 609.45h4.1v4.1h-4.1zM589.38 608.48h4.1v4.1h-4.1zM593.59 607.56h4.1v4.1h-4.1zM597.8 606.7h4.1v4.1h-4.1zM602 605.89h4.1v4.1h-4.1zM606.21 605.13h4.1v4.1h-4.1zM610.42 604.43h4.1v4.1h-4.1zM614.62 603.77h4.1v4.1h-4.1zM618.83 603.15h4.1v4.1h-4.1zM623.04 602.55h4.1v4.1h-4.1zM627.25 601.97h4.1v4.1h-4.1zM631.45 601.4h4.1v4.1h-4.1zM635.66 600.82h4.1v4.1h-4.1zM639.87 600.27h4.1v4.1h-4.1zM644.07 599.72h4.1v4.1h-4.1zM648.28 599.19h4.1v4.1h-4.1zM652.49 598.67h4.1v4.1h-4.1zM656.69 598.15h4.1v4.1h-4.1zM660.9 597.64h4.1v4.1h-4.1zM665.11 597.13h4.1v4.1h-4.1zM669.32 596.63h4.1v4.1h-4.1zM673.52 596.13h4.1v4.1h-4.1zM677.73 595.64h4.1v4.1h-4.1zM681.94 595.16h4.1v4.1h-4.1zM686.14 594.69h4.1v4.1h-4.1zM690.35 594.21h4.1v4.1h-4.1zM694.56 593.75h4.1v4.1h-4.1zM698.76 593.3h4.1v4.1h-4.1zM702.97 592.85h4.1v4.1h-4.1zM707.18 592.4h4.1v4.1h-4.1zM711.39 591.95h4.1v4.1h-4.1zM714.15 591.65h4.1v4.1h-4.1z" fill="#e8141c"/></svg>
<div class="l b" style="left:2645.50px;top:809.10px;">(<i>a</i>)</div>
<div class="l b" style="left:2963.00px;top:809.10px;">(<i>b</i>)</div>
<div class="l b j" style="left:2645.50px;top:842.00px;width:646.00px;letter-spacing:0.410px;word-spacing:-0.40px;"><b>Figure 4.</b>&ensp; Examples of the dependencies of the effective electrical conductivity, <i>σ</i>, on the</div>
<div class="l b j" style="left:2645.50px;top:860.53px;width:646.00px;letter-spacing:0.410px;word-spacing:-0.40px;">concentration, <i>p</i>, SD = 1, <i>s</i> = 1, <i>m</i> = 1024, <i>L</i> = 32 along the direction of alignment of the rods</div>
<div class="l b j" style="left:2645.50px;top:879.06px;width:453.50px;letter-spacing:0.410px;word-spacing:-0.40px;">(<svg class="g " style="width:0.660em;height:0.660em;vertical-align:-0.020em" viewBox="0 0 66 66"><rect x="1" y="1" width="64" height="64" fill="#000"/></svg>) and in the perpendicular direction (<svg class="g " style="width:0.660em;height:0.660em;vertical-align:0.050em" viewBox="0 0 66 66"><circle cx="33" cy="33" r="31" fill="#000"/></svg> ): (<i>a</i>) <i>s</i> = 1; (<i>b</i>) <i>s</i> = 0.8.</div>
<div class="l b j" style="left:2665.50px;top:919.80px;width:626.00px;letter-spacing:0.410px;word-spacing:-0.40px;">The results obtained for the values of the percolation threshold, <i>p</i><span class="sb"><i>c</i></span>, for different values of the</div>
<div class="l b j" style="left:2645.50px;top:938.33px;width:646.00px;letter-spacing:0.410px;word-spacing:-0.40px;">length dispersity and the order parameter (<i>s</i> = 0.5, 0.8, 1.0) are summarized in ﬁgure 5.&ensp;Here</div>
<div class="l b j" style="left:2645.50px;top:956.86px;width:646.00px;letter-spacing:0.410px;word-spacing:-0.40px;">the value of the percolation threshold is normalized to ones at SD = 0, the results are given</div>
<div class="l b j" style="left:2645.50px;top:975.39px;width:646.00px;letter-spacing:0.410px;word-spacing:-0.40px;">both for along the direction of alignment of the rods (closed symbols) and in the perpendicular</div>
<div class="l b j" style="left:2645.50px;top:993.92px;width:646.00px;letter-spacing:0.410px;word-spacing:-0.40px;">direction (open symbols) and <i>m</i> = 512. The previously obtained conclusions are retained for all</div>
<div class="l b j" style="left:2645.50px;top:1012.45px;width:646.00px;letter-spacing:0.410px;word-spacing:-0.40px;">the investigated parameters <i>s</i> and SD, except for the case when all the rods are aligned in one</div>
<div class="l b j" style="left:2645.50px;top:1030.98px;width:646.00px;letter-spacing:0.410px;word-spacing:-0.40px;">direction (<i>s</i> = 1) and the percolation threshold is determined in the direction perpendicular to</div>
<div class="l b j" style="left:2645.50px;top:1049.51px;width:646.00px;letter-spacing:0.410px;word-spacing:-0.40px;">the alignment direction.&ensp;In this case, the value of the percolation threshold does not depend</div>
<div class="l b j" style="left:2645.50px;top:1068.04px;width:646.00px;letter-spacing:0.410px;word-spacing:-0.40px;">on the dispersity of the length of the rods, since the connectivity of the system in the direction</div>
<div class="l b j" style="left:2645.50px;top:1086.57px;width:506.00px;letter-spacing:0.410px;word-spacing:-0.40px;">perpendicular to the alignment does not depend on the length of the rods.</div>
<div class="l b j" style="left:3513.50px;top:175.60px;width:626.00px;letter-spacing:0.410px;word-spacing:-0.40px;">One of the important characteristics of the system is intrinsic conductivity; the results of its</div>
<div class="l b j" style="left:3493.50px;top:194.13px;width:646.00px;letter-spacing:0.410px;word-spacing:-0.40px;">calculation are shown in ﬁgure 6. Here the intrinsic conductivity along the direction of alignment</div>
<div class="l b j" style="left:3493.50px;top:212.66px;width:646.00px;letter-spacing:0.410px;word-spacing:-0.40px;">of the rods, [<i>σ</i><span class="sb"><svg class="g " style="width:0.520em;height:1.000em;vertical-align:-0.300em" viewBox="0 0 52 100"><path d="M14 2V98M38 2V98" stroke="#000" stroke-width="8" fill="none"/></svg></span>], versus the aspect ratio of the rods, <i>k</i>, and the intrinsic conductivity in the</div>
<div class="l b j" style="left:3493.50px;top:231.19px;width:646.00px;letter-spacing:0.410px;word-spacing:-0.40px;">perpendicular direction, [<i>σ</i><span class="sb"><svg class="g " style="width:0.740em;height:0.680em;vertical-align:0.000em" viewBox="0 0 74 68"><path d="M37 2V62M4 62H70" stroke="#000" stroke-width="8" fill="none"/></svg></span>] versus 1/<i>k</i> for the case of completely aligned rods (<i>s</i> = 1) are given</div>
<div class="l b j" style="left:3493.50px;top:249.72px;width:646.00px;letter-spacing:0.410px;word-spacing:-0.40px;">at SD=0, 0.1, 0.5, 1. The aspect ratio was calculated as <i>m</i>/<i>L</i> for three values <i>m</i>=256, 512, 1024.</div>
<div class="l b j" style="left:3493.50px;top:268.25px;width:251.50px;letter-spacing:0.410px;word-spacing:-0.40px;">The lines are a linear approximation.</div>
<svg style="position:absolute;left:3392px;top:0;width:848px;height:1200px;overflow:visible" viewBox="0 0 848 1200"><rect x="148.5" y="293.5" width="240" height="176" fill="none" stroke="#333" stroke-width="1" shape-rendering="crispEdges"/><path d="M153 469.5V466.3M153 293.5V296.7M198.74 469.5V466.3M198.74 293.5V296.7M244.48 469.5V466.3M244.48 293.5V296.7M290.22 469.5V466.3M290.22 293.5V296.7M335.96 469.5V466.3M335.96 293.5V296.7M381.7 469.5V466.3M381.7 293.5V296.7" stroke="#333" stroke-width="0.9" fill="none"/><text x="153" y="486.3" font-size="14.6" text-anchor="middle">0.0</text><text x="198.74" y="486.3" font-size="14.6" text-anchor="middle">0.2</text><text x="244.48" y="486.3" font-size="14.6" text-anchor="middle">0.4</text><text x="290.22" y="486.3" font-size="14.6" text-anchor="middle">0.6</text><text x="335.96" y="486.3" font-size="14.6" text-anchor="middle">0.8</text><text x="381.7" y="486.3" font-size="14.6" text-anchor="middle">1.0</text><path d="M175.87 469.5V467.7M175.87 293.5V295.3M221.61 469.5V467.7M221.61 293.5V295.3M267.35 469.5V467.7M267.35 293.5V295.3M313.09 469.5V467.7M313.09 293.5V295.3M358.83 469.5V467.7M358.83 293.5V295.3" stroke="#333" stroke-width="0.8" fill="none"/><path d="M148.5 447.2H145.3M388.5 447.2H385.3M148.5 403.2H145.3M388.5 403.2H385.3M148.5 359.2H145.3M388.5 359.2H385.3M148.5 315.2H145.3M388.5 315.2H385.3" stroke="#333" stroke-width="0.9" fill="none"/><text x="144" y="452.02" font-size="14.6" text-anchor="end">0.7</text><text x="144" y="408.02" font-size="14.6" text-anchor="end">0.8</text><text x="144" y="364.02" font-size="14.6" text-anchor="end">0.9</text><text x="144" y="320.02" font-size="14.6" text-anchor="end">1.0</text><path d="M148.5 469.2H146.7M388.5 469.2H386.7M148.5 425.2H146.7M388.5 425.2H386.7M148.5 381.2H146.7M388.5 381.2H386.7M148.5 337.2H146.7M388.5 337.2H386.7" stroke="#333" stroke-width="0.8" fill="none"/><path d="M153 324V306.4M151.4 324h3.2M151.4 306.4h3.2M175.87 315.2V302M174.27 315.2h3.2M174.27 302h3.2M267.35 318.72V307.28M265.75 318.72h3.2M265.75 307.28h3.2M381.7 321.36V309.04M380.1 321.36h3.2M380.1 309.04h3.2" stroke="#1e8a1e" stroke-width="0.6" fill="none" opacity="0.8"/><path d="M153 324V306.4M151.4 324h3.2M151.4 306.4h3.2M175.87 325.32V307.72M174.27 325.32h3.2M174.27 307.72h3.2M267.35 341.16V323.56M265.75 341.16h3.2M265.75 323.56h3.2M381.7 395.28V375.92M380.1 395.28h3.2M380.1 375.92h3.2" stroke="#1212d8" stroke-width="0.6" fill="none" opacity="0.8"/><path d="M153 321.8V308.6M151.4 321.8h3.2M151.4 308.6h3.2M175.87 326.2V313M174.27 326.2h3.2M174.27 313h3.2M267.35 346.88V333.68M265.75 346.88h3.2M265.75 333.68h3.2M381.7 397.48V384.28M380.1 397.48h3.2M380.1 384.28h3.2" stroke="#1e8a1e" stroke-width="0.6" fill="none" opacity="0.8"/><path d="M153 324V306.4M151.4 324h3.2M151.4 306.4h3.2M175.87 330.6V313M174.27 330.6h3.2M174.27 313h3.2M267.35 352.6V335M265.75 352.6h3.2M265.75 335h3.2M381.7 427.4V405.4M380.1 427.4h3.2M380.1 405.4h3.2" stroke="#e8141c" stroke-width="0.6" fill="none" opacity="0.8"/><path d="M153 321.8V308.6M151.4 321.8h3.2M151.4 308.6h3.2M175.87 328.4V315.2M174.27 328.4h3.2M174.27 315.2h3.2M267.35 353.92V340.72M265.75 353.92h3.2M265.75 340.72h3.2M381.7 455.12V437.52M380.1 455.12h3.2M380.1 437.52h3.2" stroke="#1212d8" stroke-width="0.6" fill="none" opacity="0.8"/><path d="M153 324V306.4M151.4 324h3.2M151.4 306.4h3.2M175.87 332.8V315.2M174.27 332.8h3.2M174.27 315.2h3.2M267.35 361.4V345.56M265.75 361.4h3.2M265.75 345.56h3.2M381.7 446.32V424.32M380.1 446.32h3.2M380.1 424.32h3.2" stroke="#e8141c" stroke-width="0.6" fill="none" opacity="0.8"/><path d="M153 312.44L155.4 317H150.6ZM175.87 305.84L178.27 310.4H173.47ZM267.35 310.24L269.75 314.8H264.95ZM381.7 312.44L384.1 317H379.3Z" fill="#fff" stroke="#1e8a1e" stroke-width="0.8"/><path d="M150.6 315.2a2.4 2.4 0 1 0 4.8 0a2.4 2.4 0 1 0 -4.8 0zM173.47 316.52a2.4 2.4 0 1 0 4.8 0a2.4 2.4 0 1 0 -4.8 0zM264.95 332.36a2.4 2.4 0 1 0 4.8 0a2.4 2.4 0 1 0 -4.8 0zM379.3 385.6a2.4 2.4 0 1 0 4.8 0a2.4 2.4 0 1 0 -4.8 0z" fill="#fff" stroke="#1212d8" stroke-width="0.8"/><path d="M153 312.44L155.4 317H150.6ZM175.87 316.84L178.27 321.4H173.47ZM267.35 337.52L269.75 342.08H264.95ZM381.7 388.12L384.1 392.68H379.3Z" fill="#1e8a1e"/><path d="M150.6 315.2a2.4 2.4 0 1 0 4.8 0a2.4 2.4 0 1 0 -4.8 0zM173.47 321.8a2.4 2.4 0 1 0 4.8 0a2.4 2.4 0 1 0 -4.8 0zM264.95 343.8a2.4 2.4 0 1 0 4.8 0a2.4 2.4 0 1 0 -4.8 0zM379.3 416.4a2.4 2.4 0 1 0 4.8 0a2.4 2.4 0 1 0 -4.8 0z" fill="#fff" stroke="#e8141c" stroke-width="0.8"/><path d="M150.6 315.2a2.4 2.4 0 1 0 4.8 0a2.4 2.4 0 1 0 -4.8 0zM173.47 321.8a2.4 2.4 0 1 0 4.8 0a2.4 2.4 0 1 0 -4.8 0zM264.95 347.32a2.4 2.4 0 1 0 4.8 0a2.4 2.4 0 1 0 -4.8 0zM379.3 446.32a2.4 2.4 0 1 0 4.8 0a2.4 2.4 0 1 0 -4.8 0z" fill="#1212d8"/><path d="M151 313.2h4v4h-4zM173.87 322h4v4h-4zM265.35 351.48h4v4h-4zM379.7 433.32h4v4h-4z" fill="#e8141c"/><path d="M150.6 315.2a2.4 2.4 0 1 0 4.8 0a2.4 2.4 0 1 0 -4.8 0z" fill="#0b4a2b"/><text transform="translate(116.5,394) rotate(-90)" font-size="16.5" text-anchor="middle"><tspan font-style="italic">p</tspan><tspan font-size="9.5" dy="3">c</tspan><tspan dy="-3">/</tspan><tspan font-style="italic">p</tspan><tspan font-size="9.5" dy="3">c 0</tspan></text><text x="268.5" y="509.3" font-size="15.5" text-anchor="middle" >SD</text></svg>
<svg style="position:absolute;left:3392px;top:0;width:848px;height:1200px;overflow:visible" viewBox="0 0 848 1200"><rect x="494.5" y="327.5" width="207" height="153" fill="none" stroke="#333" stroke-width="1" shape-rendering="crispEdges"/><path d="M494.5 480.5V483.7M524.07 480.5V483.7M553.64 480.5V483.7M583.21 480.5V483.7M612.79 480.5V483.7M642.36 480.5V483.7M671.93 480.5V483.7M701.5 480.5V483.7" stroke="#333" stroke-width="0.9" fill="none"/><text x="494.5" y="494.7" font-size="12.7" text-anchor="middle">0</text><text x="524.07" y="494.7" font-size="12.7" text-anchor="middle">5</text><text x="553.64" y="494.7" font-size="12.7" text-anchor="middle">10</text><text x="583.21" y="494.7" font-size="12.7" text-anchor="middle">15</text><text x="612.79" y="494.7" font-size="12.7" text-anchor="middle">20</text><text x="642.36" y="494.7" font-size="12.7" text-anchor="middle">25</text><text x="671.93" y="494.7" font-size="12.7" text-anchor="middle">30</text><text x="701.5" y="494.7" font-size="12.7" text-anchor="middle">35</text><path d="M509.29 480.5V482.3M538.86 480.5V482.3M568.43 480.5V482.3M598 480.5V482.3M627.57 480.5V482.3M657.14 480.5V482.3M686.71 480.5V482.3" stroke="#333" stroke-width="0.8" fill="none"/><path d="M494.5 480.5H491.3M494.5 452.72H491.3M494.5 424.94H491.3M494.5 397.16H491.3M494.5 369.38H491.3M494.5 341.6H491.3" stroke="#333" stroke-width="0.9" fill="none"/><text x="489.5" y="484.69" font-size="12.7" text-anchor="end">0</text><text x="489.5" y="456.91" font-size="12.7" text-anchor="end">10</text><text x="489.5" y="429.13" font-size="12.7" text-anchor="end">20</text><text x="489.5" y="401.35" font-size="12.7" text-anchor="end">30</text><text x="489.5" y="373.57" font-size="12.7" text-anchor="end">40</text><text x="489.5" y="345.79" font-size="12.7" text-anchor="end">50</text><path d="M494.5 466.61H492.7M494.5 438.83H492.7M494.5 411.05H492.7M494.5 383.27H492.7M494.5 355.49H492.7" stroke="#333" stroke-width="0.8" fill="none"/><text x="494.5" y="322.8" font-size="12.7" text-anchor="middle" >0.00</text><text x="535.9" y="322.8" font-size="12.7" text-anchor="middle" >0.03</text><text x="577.3" y="322.8" font-size="12.7" text-anchor="middle" >0.06</text><text x="618.7" y="322.8" font-size="12.7" text-anchor="middle" >0.09</text><text x="660.1" y="322.8" font-size="12.7" text-anchor="middle" >0.12</text><text x="701.5" y="322.8" font-size="12.7" text-anchor="middle" >0.15</text><text x="705.3" y="484.7" font-size="12.7" text-anchor="start" >1.00</text><text x="705.3" y="446.45" font-size="12.7" text-anchor="start" >1.05</text><text x="705.3" y="408.2" font-size="12.7" text-anchor="start" >1.10</text><text x="705.3" y="369.95" font-size="12.7" text-anchor="start" >1.15</text><text x="705.3" y="331.7" font-size="12.7" text-anchor="start" >1.20</text><path d="M494.5 327.5v-3.2M535.9 327.5v-3.2M577.3 327.5v-3.2M618.7 327.5v-3.2M660.1 327.5v-3.2M701.5 327.5v-3.2M515.2 327.5v-1.8M556.6 327.5v-1.8M598 327.5v-1.8M639.4 327.5v-1.8M680.8 327.5v-1.8M701.5 480.5h3.2M701.5 442.25h3.2M701.5 404h3.2M701.5 365.75h3.2M701.5 327.5h3.2M701.5 461.38h1.8M701.5 423.13h1.8M701.5 384.88h1.8M701.5 346.62h1.8" stroke="#333" stroke-width="0.9" fill="none"/><clipPath id="c6"><rect x="494.5" y="327.5" width="207" height="153"/></clipPath><g clip-path="url(#c6)"><polyline points="494.5,455.5 701.5,364.38" fill="none" stroke="#109090" stroke-width="1.5" stroke-linejoin="round" stroke-dasharray="5.6 2.6"/><polyline points="494.5,455.22 701.5,361.05" fill="none" stroke="#e8141c" stroke-width="1.5" stroke-linejoin="round" stroke-dasharray="5.6 2.6"/><polyline points="494.5,455.08 701.5,358.82" fill="none" stroke="#e020e0" stroke-width="1.5" stroke-linejoin="round" stroke-dasharray="5.6 2.6"/><polyline points="494.5,454.94 701.5,356.05" fill="none" stroke="#1212d8" stroke-width="1.5" stroke-linejoin="round" stroke-dasharray="5.6 2.6"/><polyline points="494.5,473.56 701.5,328.82" fill="none" stroke="#109090" stroke-width="1.5" stroke-linejoin="round"/><polyline points="494.5,473.56 701.5,384.1" fill="none" stroke="#e020e0" stroke-width="1.5" stroke-linejoin="round"/><polyline points="494.5,477.72 701.5,399.94" fill="none" stroke="#e8141c" stroke-width="1.5" stroke-linejoin="round"/><polyline points="494.5,473.56 701.5,399.38" fill="none" stroke="#1212d8" stroke-width="1.5" stroke-linejoin="round"/></g><path d="M535.67 435.5a2 2 0 1 0 4 0a2 2 0 1 0 -4 0z" fill="#fff" stroke="#9a9af0" stroke-width="0.6"/><path d="M537.67 441.13L539.67 437.33H535.67Z" fill="#fff" stroke="#7fc8c8" stroke-width="0.6"/><path d="M578.85 413.27a2 2 0 1 0 4 0a2 2 0 1 0 -4 0z" fill="#fff" stroke="#9a9af0" stroke-width="0.6"/><path d="M580.85 418.91L582.85 415.11H578.85Z" fill="#fff" stroke="#7fc8c8" stroke-width="0.6"/><path d="M665.2 374.38a2 2 0 1 0 4 0a2 2 0 1 0 -4 0z" fill="#fff" stroke="#9a9af0" stroke-width="0.6"/><path d="M667.2 380.01L669.2 376.21H665.2Z" fill="#fff" stroke="#7fc8c8" stroke-width="0.6"/><path d="M541.81 444.02L543.91 440.03H539.71ZM589.13 409.3L591.23 405.31H587.03ZM683.76 344.02L685.86 340.03H681.66Z" fill="#109090"/><path d="M541.81 450.86L543.91 454.85H539.71ZM589.13 430.3L591.23 434.29H587.03ZM683.76 389.74L685.86 393.73H681.66Z" fill="#e020e0"/><path d="M540.11 457.97h3.4v3.4h-3.4zM587.43 440.74h3.4v3.4h-3.4zM682.06 404.91h3.4v3.4h-3.4z" fill="#e8141c"/><path d="M539.91 456.61a1.9 1.9 0 1 0 3.8 0a1.9 1.9 0 1 0 -3.8 0zM587.23 439.39a1.9 1.9 0 1 0 3.8 0a1.9 1.9 0 1 0 -3.8 0zM681.86 406.05a1.9 1.9 0 1 0 3.8 0a1.9 1.9 0 1 0 -3.8 0z" fill="#1212d8"/><path d="M623 365V333.5M623 365H640" stroke="#222" stroke-width="0.7" fill="none"/><path d="M623 330.4l-1.5 4.2h3zM642.5 365l-4.2 -1.5v3z" fill="#222"/><path d="M611 450.2H596M611 450.2V465.5" stroke="#222" stroke-width="0.7" fill="none"/><path d="M593 450.2l4.2 -1.5v3zM611 468.5l-1.5 -4.2h3z" fill="#222"/><g transform="translate(630.3,350)"><text x="0" y="0" font-size="13">[</text><text x="4.33" y="0" font-size="13">σ</text><path d="M14.2 -1.82v4.94M11.73 3.12h5.2" stroke="#aaa" stroke-width="0.91" fill="none"/><text x="17.32" y="0" font-size="13">]</text></g><path transform="translate(658.44,346.5)" d="M4 -2.4C2.6 -2.4 1.4 2.4 -1.2 2.4C-2.8 2.4 -4 1.4 -4 0C-4 -1.4 -2.8 -2.4 -1.2 -2.4C1.4 -2.4 2.6 2.4 4 2.4" stroke="#222" stroke-width="0.9" fill="none"/><text x="664.94" y="350" font-size="13" text-anchor="start" ><tspan font-style="italic">k</tspan><tspan font-size="7.5" dy="-5.5">-1</tspan></text><g transform="translate(616.7,453.4)"><text x="0" y="0" font-size="13">[</text><text x="4.33" y="0" font-size="13">σ</text><path d="M12.43 -2.86v6.5M14.38 -2.86v6.5" stroke="#aaa" stroke-width="0.91" fill="none"/><text x="15.76" y="0" font-size="13">]</text></g><path transform="translate(643.29,450)" d="M4 -2.4C2.6 -2.4 1.4 2.4 -1.2 2.4C-2.8 2.4 -4 1.4 -4 0C-4 -1.4 -2.8 -2.4 -1.2 -2.4C1.4 -2.4 2.6 2.4 4 2.4" stroke="#222" stroke-width="0.9" fill="none"/><text x="649.79" y="453.4" font-size="13" text-anchor="start" ><tspan font-style="italic">k</tspan></text><text x="597" y="309.5" font-size="13" text-anchor="middle" ><tspan font-style="italic">k</tspan><tspan font-size="7.5" dy="-5.5">-1</tspan></text><text x="597" y="504.6" font-size="13" text-anchor="middle" ><tspan font-style="italic">k</tspan></text><g transform="translate(470,413) rotate(-90) translate(-10.35,0)"><text x="0" y="0" font-size="13.4">[</text><text x="4.46" y="0" font-size="13.4">σ</text><path d="M12.81 -2.95v6.7M14.82 -2.95v6.7" stroke="#aaa" stroke-width="0.94" fill="none"/><text x="16.24" y="0" font-size="13.4">]</text></g><g transform="translate(740.5,413) rotate(-90) translate(-11.16,0)"><text x="0" y="0" font-size="13.4">[</text><text x="4.46" y="0" font-size="13.4">σ</text><path d="M14.63 -1.88v5.09M12.09 3.22h5.36" stroke="#aaa" stroke-width="0.94" fill="none"/><text x="17.85" y="0" font-size="13.4">]</text></g></svg>
<div class="l b j" style="left:3493.50px;top:546.20px;width:289.50px;letter-spacing:0.410px;word-spacing:-0.40px;"><b>Figure 5.</b>&ensp; Examples of the normalized</div>
<div class="l b j" style="left:3493.50px;top:564.73px;width:289.50px;letter-spacing:0.410px;word-spacing:-0.40px;">percolation threshold, <i>p</i><span class="sb"><i>c</i></span>/<i>p</i><span class="sb"><i>c</i>0</span>, versus SD for</div>
<div class="l b j" style="left:3493.50px;top:583.26px;width:289.50px;letter-spacing:0.410px;word-spacing:-0.40px;">three values of the standard deviation SD</div>
<div class="l b j" style="left:3493.50px;top:601.79px;width:289.50px;letter-spacing:0.410px;word-spacing:-0.40px;">at <i>s</i> = 0.5 (<svg class="g " style="width:0.660em;height:0.660em;vertical-align:-0.030em" viewBox="0 0 66 66"><rect x="6" y="6" width="54" height="54" fill="none" stroke="#000" stroke-width="5"/></svg>, <svg class="g " style="width:0.660em;height:0.660em;vertical-align:-0.020em" viewBox="0 0 66 66"><rect x="1" y="1" width="64" height="64" fill="#000"/></svg>), 0.8 (<svg class="g " style="width:0.660em;height:0.660em;vertical-align:0.050em" viewBox="0 0 66 66"><circle cx="33" cy="33" r="27" fill="none" stroke="#000" stroke-width="6"/></svg> , <svg class="g " style="width:0.660em;height:0.660em;vertical-align:0.050em" viewBox="0 0 66 66"><circle cx="33" cy="33" r="31" fill="#000"/></svg> ), 1.0 (<svg class="g " style="width:0.620em;height:0.550em;vertical-align:0.000em" viewBox="0 0 62 55"><path d="M31 6L57 50H5Z" fill="none" stroke="#000" stroke-width="5"/></svg>,</div>
<div class="l b j" style="left:3493.50px;top:620.32px;width:289.50px;letter-spacing:0.410px;word-spacing:-0.40px;"><svg class="g " style="width:0.620em;height:0.550em;vertical-align:0.000em" viewBox="0 0 62 55"><path d="M31 3L59 52H3Z" fill="#000"/></svg>) (closed and open symbols correspond</div>
<div class="l b j" style="left:3493.50px;top:638.85px;width:289.50px;letter-spacing:0.410px;word-spacing:-0.40px;">to the direction along alignment of the</div>
<div class="l b j" style="left:3493.50px;top:657.38px;width:289.50px;letter-spacing:0.410px;word-spacing:-0.40px;">rods and in the perpendicular direction,</div>
<div class="l b j" style="left:3493.50px;top:675.91px;width:289.50px;letter-spacing:0.410px;word-spacing:-0.40px;">correspondingly) and <i>m</i> = 256.&ensp;Here, <i>p</i><span class="sb"><i>c</i>0</span></div>
<div class="l b j" style="left:3493.50px;top:694.44px;width:158.50px;letter-spacing:0.410px;word-spacing:-0.40px;">corresponds to SD = 0.</div>
<div class="l b j" style="left:3848.50px;top:541.30px;width:291.00px;letter-spacing:0.410px;word-spacing:-0.40px;"><b>Figure 6.</b>&ensp;The intrinsic conductivity along</div>
<div class="l b j" style="left:3848.50px;top:559.83px;width:291.00px;letter-spacing:0.410px;word-spacing:-0.40px;">the direction of alignment of the rods, [<i>σ</i><span class="sb"><svg class="g " style="width:0.520em;height:1.000em;vertical-align:-0.300em" viewBox="0 0 52 100"><path d="M14 2V98M38 2V98" stroke="#000" stroke-width="8" fill="none"/></svg></span>],</div>
<div class="l b j" style="left:3848.50px;top:578.36px;width:291.00px;letter-spacing:0.410px;word-spacing:-0.40px;">vs the aspect ratio, <i>k</i>, of the rods (closed</div>
<div class="l b j" style="left:3848.50px;top:596.89px;width:291.00px;letter-spacing:0.410px;word-spacing:-0.40px;">symbols, solid lines) and the intrinsic</div>
<div class="l b j" style="left:3848.50px;top:615.42px;width:291.00px;letter-spacing:0.410px;word-spacing:-0.40px;">conductivity in the perpendicular direction,</div>
<div class="l b j" style="left:3848.50px;top:633.95px;width:291.00px;letter-spacing:0.410px;word-spacing:-0.40px;">[<i>σ</i><span class="sb"><svg class="g " style="width:0.740em;height:0.680em;vertical-align:0.000em" viewBox="0 0 74 68"><path d="M37 2V62M4 62H70" stroke="#000" stroke-width="8" fill="none"/></svg></span>] vs 1/<i>k</i> (open symbols, dotted lines) at</div>
<div class="l b j" style="left:3848.50px;top:652.48px;width:291.00px;letter-spacing:0.410px;word-spacing:-0.40px;">SD=0 (<svg class="g " style="width:0.660em;height:0.660em;vertical-align:-0.030em" viewBox="0 0 66 66"><rect x="6" y="6" width="54" height="54" fill="none" stroke="#000" stroke-width="5"/></svg>, <svg class="g " style="width:0.660em;height:0.660em;vertical-align:-0.020em" viewBox="0 0 66 66"><rect x="1" y="1" width="64" height="64" fill="#000"/></svg>), 0.1 (<svg class="g " style="width:0.660em;height:0.660em;vertical-align:0.050em" viewBox="0 0 66 66"><circle cx="33" cy="33" r="27" fill="none" stroke="#000" stroke-width="6"/></svg> , <svg class="g " style="width:0.660em;height:0.660em;vertical-align:0.050em" viewBox="0 0 66 66"><circle cx="33" cy="33" r="31" fill="#000"/></svg> ), 0.5 (<svg class="g " style="width:0.620em;height:0.550em;vertical-align:0.000em" viewBox="0 0 62 55"><path d="M31 6L57 50H5Z" fill="none" stroke="#000" stroke-width="5"/></svg>, <svg class="g " style="width:0.620em;height:0.550em;vertical-align:0.000em" viewBox="0 0 62 55"><path d="M31 3L59 52H3Z" fill="#000"/></svg>), 1</div>
<div class="l b j" style="left:3848.50px;top:671.01px;width:291.00px;letter-spacing:0.410px;word-spacing:-0.40px;">(<svg class="g " style="width:0.620em;height:0.550em;vertical-align:0.000em" viewBox="0 0 62 55"><path d="M31 50L57 6H5Z" fill="none" stroke="#000" stroke-width="5"/></svg>, <svg class="g " style="width:0.620em;height:0.550em;vertical-align:0.000em" viewBox="0 0 62 55"><path d="M31 52L59 3H3Z" fill="#000"/></svg>) for the case of completely aligned</div>
<div class="l b j" style="left:3848.50px;top:689.54px;width:86.00px;letter-spacing:0.410px;word-spacing:-0.40px;">rods (<i>s</i> = 1).</div>
<div class="l b j" style="left:3513.50px;top:734.10px;width:626.00px;letter-spacing:0.410px;word-spacing:-0.40px;">Figure 7 presents examples of the electrical anisotropy ratio, <i>δ</i>, versus the concentration, <i>p</i>,</div>
<div class="l b j" style="left:3493.50px;top:752.63px;width:646.00px;letter-spacing:0.410px;word-spacing:-0.40px;">for SD = 0.1,&thinsp;0.5,&thinsp;1, <i>m</i> = 512: (<i>a</i>) <i>s</i> = 1, (<i>b</i>) <i>s</i> = 0.8.&ensp;In the case <i>s</i> = 0.8, arrangement of</div>
<div class="l b j" style="left:3493.50px;top:771.16px;width:646.00px;letter-spacing:0.410px;word-spacing:-0.40px;">the rods (ﬁgure 7(<i>b</i>)) the maximum of the electrical anisotropy ratio is shifted to the region of</div>
<div class="l b j" style="left:3493.50px;top:789.69px;width:646.00px;letter-spacing:0.410px;word-spacing:-0.40px;">smaller values <i>p</i> and the interval of <i>p</i> for large electrical anisotropy is smaller compared with</div>
<div class="l b j" style="left:3493.50px;top:808.22px;width:313.50px;letter-spacing:0.410px;word-spacing:-0.40px;">completely aligned ﬁllers (<i>s</i> = 1) (ﬁgure 7(<i>a</i>)).</div>
<div class="l h j" style="left:3493.50px;top:848.00px;width:106.00px;letter-spacing:0.800px;word-spacing:0.00px;"><b>4.&ensp;Conclusion</b></div>
<div class="l b j" style="left:3493.50px;top:866.40px;width:646.00px;letter-spacing:0.410px;word-spacing:-0.40px;">Our computer simulation suggests that the dispersity of the ﬁller length had signiﬁcant impact</div>
<div class="l b j" style="left:3493.50px;top:884.93px;width:646.00px;letter-spacing:0.410px;word-spacing:-0.40px;">only at the electrical conductivity of ﬁlms along the direction of ﬁller alignment; the electrical</div>
<div class="l b j" style="left:3493.50px;top:903.46px;width:646.00px;letter-spacing:0.398px;word-spacing:-0.40px;">conductivity in the direction perpendicular to the ﬁller alignment was insensitive to the dispersity</div>
<div class="l b j" style="left:3493.50px;top:921.99px;width:646.00px;letter-spacing:0.410px;word-spacing:-0.40px;">of ﬁller length.&ensp; This dispersity had a positive impact on the ﬁgure of merit of ﬁlms.&ensp; It</div>
<div class="l b j" style="left:3493.50px;top:940.52px;width:646.00px;letter-spacing:0.410px;word-spacing:-0.40px;">decreases the percolation threshold and, as a result, the critical concentration of ﬁllers when</div>
<div class="l b j" style="left:3493.50px;top:959.05px;width:646.00px;letter-spacing:0.410px;word-spacing:-0.40px;">the insulator–conductor phase transition occurs.&ensp;In the vicinity of the phase transition, the</div>
<div class="l b j" style="left:3493.50px;top:977.58px;width:396.50px;letter-spacing:0.410px;word-spacing:-0.40px;">electrical conductivity of the ﬁlm exhibits high anisotropy.</div>
<div class="l h j" style="left:3493.50px;top:1016.60px;width:139.00px;letter-spacing:1.007px;word-spacing:0.00px;"><b>Acknowledgments</b></div>
<div class="l b j" style="left:3493.50px;top:1035.10px;width:646.00px;letter-spacing:0.410px;word-spacing:-0.40px;">We acknowledge the funding from the Ministry of Education and Science of the Russian</div>
<div class="l b j" style="left:3493.50px;top:1053.63px;width:646.00px;letter-spacing:0.410px;word-spacing:-0.40px;">Federation, Project No. 3.959.2017/4.6( Y.Y.T., A.V.E., I.V.V., P.G.S., V.V.C.) and from the</div>
<div class="l b j" style="left:3493.50px;top:1072.16px;width:646.00px;letter-spacing:0.410px;word-spacing:-0.40px;">National Academy of Sciences of Ukraine, Projects No. 2.16.1.6. (0117U004046), 43/19-H, and</div>
<div class="l b j" style="left:3493.50px;top:1090.69px;width:193.50px;letter-spacing:0.338px;word-spacing:-0.40px;">15F (0117U006352) (N.I.L.).</div>
</body></html>
